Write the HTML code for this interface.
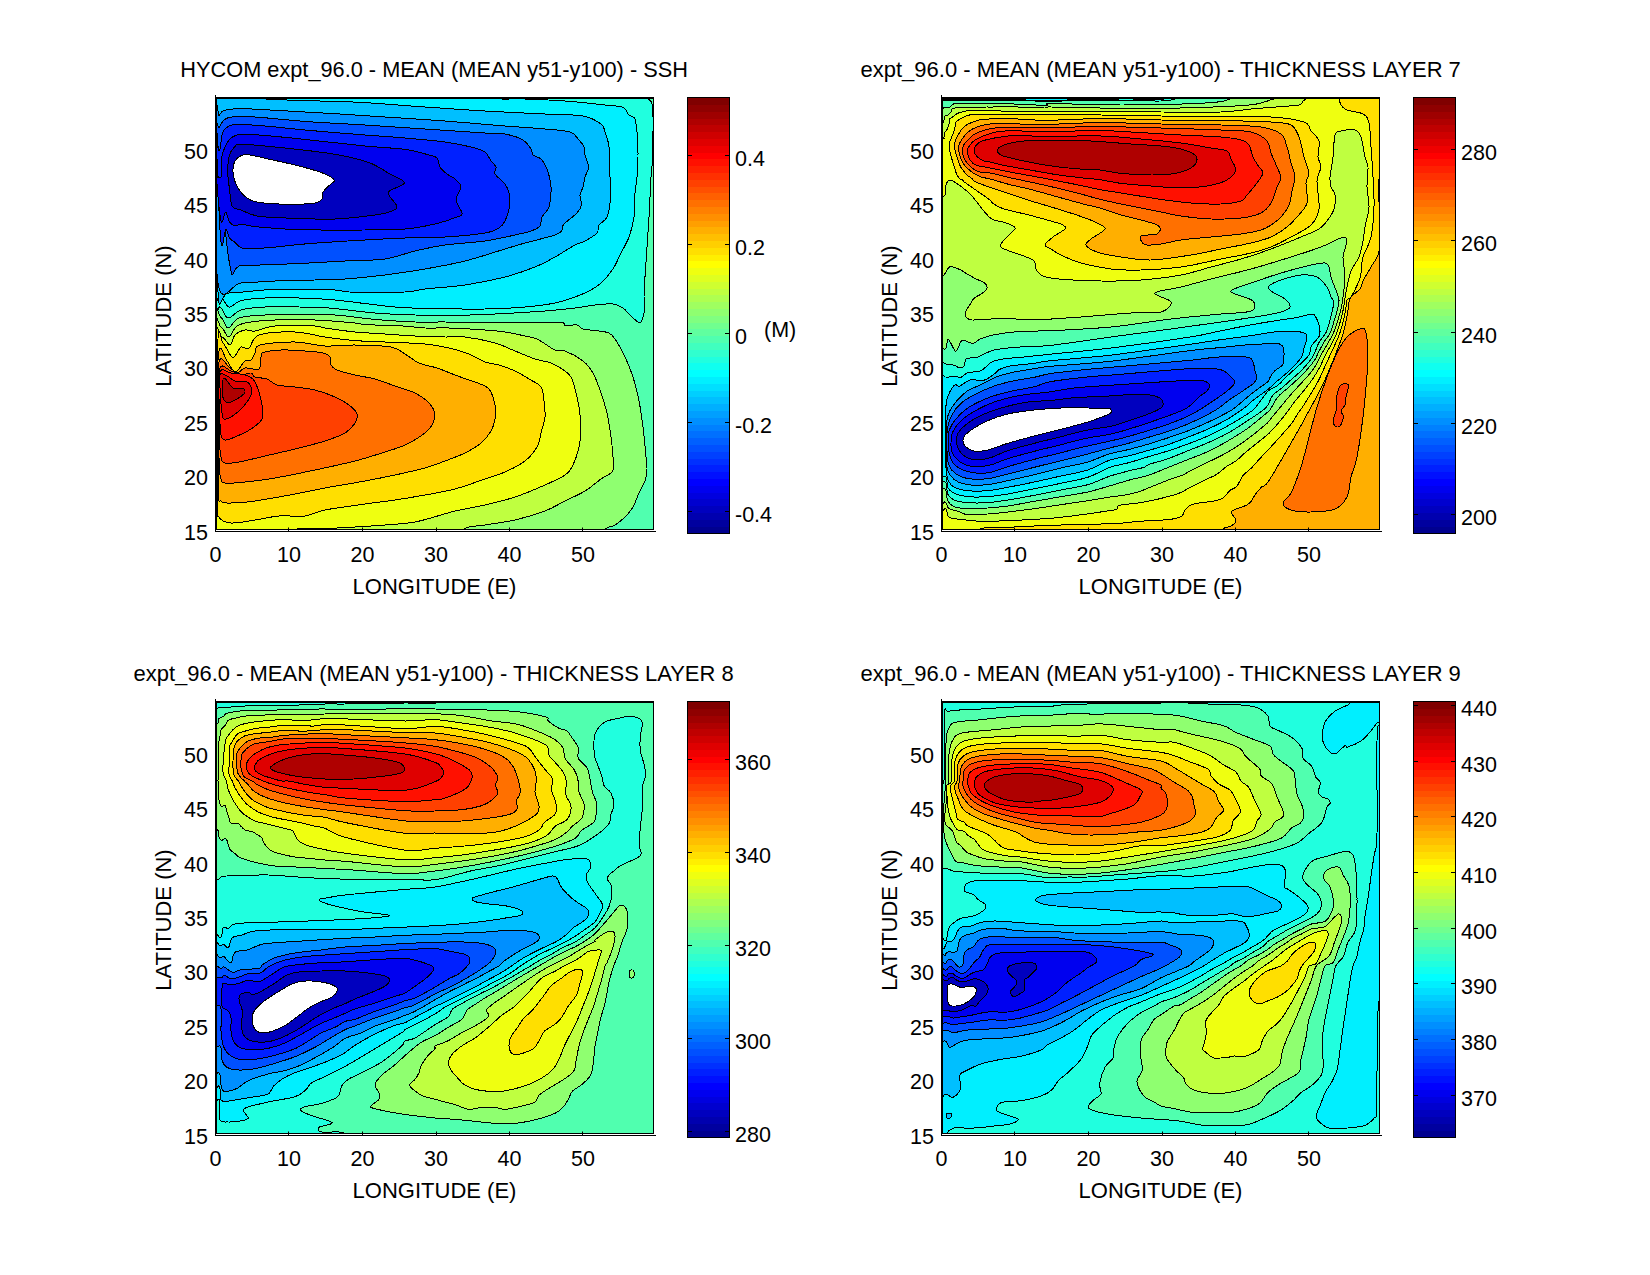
<!DOCTYPE html>
<html lang="en"><head><meta charset="utf-8"><title>HYCOM expt_96.0 mean fields</title>
<style>html,body{margin:0;padding:0;background:#fff}body{width:1650px;height:1275px;overflow:hidden}svg{display:block}</style></head><body>
<svg width="1650" height="1275" viewBox="0 0 1650 1275">
<rect width="1650" height="1275" fill="#fff"/>
<g id="p1">
<clipPath id="clip0"><rect x="216.5" y="97.5" width="437.0" height="432.0"/></clipPath>
<g clip-path="url(#clip0)" stroke="#000" stroke-width="1" stroke-linejoin="round" shape-rendering="crispEdges">
<rect x="215.5" y="96.5" width="439.0" height="434.0" fill="#50ffaf" stroke="none"/>
<path d="M207.0,307.0C212.0,348.2 216.5,305.2 220.0,307.0C223.5,308.8 224.5,317.5 228.0,318.0C231.5,318.5 234.8,311.8 241.0,310.0C247.2,308.2 255.3,307.5 265.0,307.0C274.7,306.5 288.3,306.8 299.0,307.0C309.7,307.2 316.3,307.0 329.0,308.0C341.7,309.0 360.7,311.8 375.0,313.0C389.3,314.2 401.7,314.6 415.0,315.0C428.3,315.4 441.7,315.6 455.0,315.4C468.3,315.2 480.0,314.7 495.0,314.0C510.0,313.3 531.7,312.0 545.0,311.0C558.3,310.0 566.7,309.0 575.0,308.0C583.3,307.0 588.7,305.7 595.0,305.0C601.3,304.3 608.3,303.5 613.0,304.0C617.7,304.5 620.0,306.0 623.0,308.0C626.0,310.0 628.2,313.6 631.0,316.0C633.8,318.4 637.8,323.1 640.0,322.6C642.2,322.1 643.2,317.3 644.0,313.0C644.8,308.7 644.9,303.0 645.0,297.0C645.1,291.0 644.6,280.3 644.6,277.0C644.6,273.7 644.6,282.0 645.0,277.0C645.4,272.0 646.3,257.0 647.0,247.0C647.7,237.0 648.5,225.3 649.0,217.0C649.5,208.7 649.7,203.7 650.0,197.0C650.3,190.3 650.6,183.7 651.0,177.0C651.4,170.3 652.3,167.0 652.6,157.0C652.9,147.0 653.1,126.0 653.0,117.0C652.9,108.0 652.6,106.2 651.8,103.0C651.0,99.8 648.6,100.8 648.0,97.8C647.4,94.8 724.3,91.3 648.0,85.0C571.7,78.7 263.5,23.0 190.0,60.0C116.5,97.0 202.0,265.8 207.0,307.0Z" fill="#20ffdf"/>
<path d="M207.0,296.0C212.0,335.3 216.3,294.2 220.0,296.0C223.7,297.8 225.5,306.2 229.0,307.0C232.5,307.8 235.0,302.1 241.0,300.6C247.0,299.1 255.3,298.4 265.0,298.0C274.7,297.6 287.3,297.7 299.0,298.0C310.7,298.3 319.0,298.5 335.0,300.0C351.0,301.5 378.3,305.6 395.0,307.0C411.7,308.4 420.0,308.3 435.0,308.6C450.0,308.9 470.0,309.3 485.0,309.0C500.0,308.7 513.3,308.0 525.0,307.0C536.7,306.0 546.7,304.7 555.0,303.0C563.3,301.3 569.0,299.2 575.0,297.0C581.0,294.8 586.7,292.3 591.0,290.0C595.3,287.7 597.3,286.5 601.0,283.0C604.7,279.5 609.7,274.0 613.0,269.0C616.3,264.0 618.3,258.3 621.0,253.0C623.7,247.7 626.8,243.0 629.0,237.0C631.2,231.0 633.1,223.7 634.0,217.0C634.9,210.3 634.1,203.7 634.6,197.0C635.1,190.3 636.4,183.7 637.0,177.0C637.6,170.3 637.9,163.7 638.0,157.0C638.1,150.3 637.9,143.3 637.4,137.0C636.9,130.7 636.4,122.7 635.0,119.0C633.6,115.3 631.0,116.9 629.0,115.0C627.0,113.1 627.0,109.1 623.0,107.4C619.0,105.7 614.7,106.1 605.0,105.0C595.3,103.9 578.3,102.0 565.0,101.0C551.7,100.0 538.3,99.5 525.0,99.0C511.7,98.5 495.0,100.1 485.0,97.8C475.0,95.5 514.2,91.3 465.0,85.0C415.8,78.7 233.0,24.8 190.0,60.0C147.0,95.2 202.0,256.7 207.0,296.0Z" fill="#00efff"/>
<path d="M216.9,99.0C222.0,67.2 235.3,98.1 248.3,98.3C261.4,98.6 276.6,99.7 295.0,100.3C313.4,101.0 337.3,101.2 359.0,102.3C380.7,103.4 404.0,105.6 425.0,107.0C446.0,108.4 465.0,109.8 485.0,111.0C505.0,112.2 528.7,113.2 545.0,114.0C561.3,114.8 573.7,114.3 583.0,116.0C592.3,117.7 597.3,121.3 601.0,124.0C604.7,126.7 603.7,128.2 605.0,132.0C606.3,135.8 608.2,139.5 609.0,147.0C609.8,154.5 609.7,168.7 610.0,177.0C610.3,185.3 611.1,190.3 610.6,197.0C610.1,203.7 608.9,212.3 607.0,217.0C605.1,221.7 600.7,222.3 599.0,225.0C597.3,227.7 599.3,230.3 597.0,233.0C594.7,235.7 588.7,239.0 585.0,241.0C581.3,243.0 580.0,242.3 575.0,245.0C570.0,247.7 561.7,253.3 555.0,257.0C548.3,260.7 543.3,263.7 535.0,267.0C526.7,270.3 516.7,274.0 505.0,277.0C493.3,280.0 478.3,283.0 465.0,285.0C451.7,287.0 435.0,287.8 425.0,289.0C415.0,290.2 417.7,291.5 405.0,292.0C392.3,292.5 360.7,292.3 349.0,292.0C337.3,291.7 347.3,290.4 335.0,290.0C322.7,289.6 292.7,288.9 275.0,289.4C257.3,289.9 238.5,293.1 229.0,293.0C219.5,292.9 219.8,321.3 217.8,289.0C215.8,256.7 211.8,130.8 216.9,99.0Z" fill="#00bfff"/>
<path d="M216.9,118.3C217.1,90.6 217.8,117.0 219.0,115.7C220.2,114.3 220.6,111.5 224.3,110.3C228.1,109.2 233.2,108.7 241.7,108.7C250.1,108.7 259.4,109.5 275.0,110.3C290.6,111.2 316.7,112.6 335.0,113.7C353.3,114.8 366.7,115.8 385.0,117.0C403.3,118.2 425.0,119.5 445.0,121.0C465.0,122.5 488.3,124.7 505.0,126.0C521.7,127.3 534.2,128.0 545.0,129.0C555.8,130.0 564.3,130.2 570.0,132.0C575.7,133.8 576.7,137.5 579.0,140.0C581.3,142.5 583.0,144.5 584.0,147.0C585.0,149.5 584.2,151.7 585.0,155.0C585.8,158.3 588.6,163.3 588.6,167.0C588.6,170.7 585.9,173.7 585.0,177.0C584.1,180.3 583.8,184.0 583.0,187.0C582.2,190.0 580.3,192.0 580.0,195.0C579.7,198.0 581.9,202.0 581.4,205.0C580.9,208.0 579.9,209.8 577.0,213.0C574.1,216.2 566.5,221.2 564.0,224.0C561.5,226.8 563.5,228.2 562.0,230.0C560.5,231.8 561.2,232.8 555.0,235.0C548.8,237.2 533.3,240.7 525.0,243.0C516.7,245.3 515.0,246.0 505.0,249.0C495.0,252.0 478.3,257.7 465.0,261.0C451.7,264.3 438.3,266.7 425.0,269.0C411.7,271.3 398.3,273.3 385.0,275.0C371.7,276.7 356.7,278.2 345.0,279.0C333.3,279.8 326.7,279.7 315.0,280.0C303.3,280.3 287.3,280.5 275.0,281.0C262.7,281.5 250.5,282.8 241.0,283.0C231.5,283.2 221.8,309.4 217.8,282.0C213.8,254.6 216.7,146.1 216.9,118.3Z" fill="#008fff"/>
<path d="M216.9,131.7C215.1,108.9 217.8,129.7 219.0,127.7C220.2,125.7 222.1,121.4 224.3,119.7C226.6,117.9 227.2,117.4 232.3,117.0C237.4,116.6 242.3,116.2 255.0,117.0C267.7,117.8 290.0,120.3 308.3,121.7C326.7,123.0 345.6,123.8 365.0,125.0C384.4,126.2 405.0,127.7 425.0,129.0C445.0,130.3 471.7,132.2 485.0,133.0C498.3,133.8 498.7,132.8 505.0,134.0C511.3,135.2 518.7,137.5 523.0,140.0C527.3,142.5 529.3,146.5 531.0,149.0C532.7,151.5 531.3,153.3 533.0,155.0C534.7,156.7 538.7,156.7 541.0,159.0C543.3,161.3 545.3,164.3 547.0,169.0C548.7,173.7 550.7,180.7 551.0,187.0C551.3,193.3 550.5,202.0 549.0,207.0C547.5,212.0 543.5,213.8 542.0,217.0C540.5,220.2 541.8,223.7 540.0,226.0C538.2,228.3 535.2,229.5 531.0,231.0C526.8,232.5 522.7,233.3 515.0,235.0C507.3,236.7 496.7,239.3 485.0,241.0C473.3,242.7 456.7,243.3 445.0,245.0C433.3,246.7 425.0,248.7 415.0,251.0C405.0,253.3 396.7,257.3 385.0,259.0C373.3,260.7 360.0,260.2 345.0,261.0C330.0,261.8 312.2,262.9 295.0,263.7C277.8,264.4 252.6,265.4 241.7,265.5C230.8,265.7 233.8,286.8 229.7,264.5C225.5,242.2 218.6,154.5 216.9,131.7Z" fill="#0050ff"/>
<path d="M216.9,153.0C216.6,137.7 218.6,153.9 219.7,150.3C220.7,146.8 221.3,135.8 223.0,131.7C224.7,127.6 227.0,126.9 229.7,125.7C232.3,124.4 232.6,124.2 239.0,124.3C245.4,124.4 256.8,125.3 268.3,126.3C279.9,127.3 292.2,128.9 308.3,130.3C324.4,131.8 348.9,133.7 365.0,135.0C381.1,136.3 391.7,136.8 405.0,138.0C418.3,139.2 434.0,140.5 445.0,142.0C456.0,143.5 464.3,145.3 471.0,147.0C477.7,148.7 481.7,149.7 485.0,152.0C488.3,154.3 489.2,158.5 491.0,161.0C492.8,163.5 495.3,164.8 496.0,167.0C496.7,169.2 493.5,171.2 495.0,174.0C496.5,176.8 502.7,180.8 505.0,184.0C507.3,187.2 508.3,189.2 509.0,193.0C509.7,196.8 510.1,202.3 509.4,207.0C508.7,211.7 506.7,217.5 505.0,221.0C503.3,224.5 502.3,226.0 499.0,228.0C495.7,230.0 494.0,231.5 485.0,233.0C476.0,234.5 458.3,236.2 445.0,237.0C431.7,237.8 418.3,237.5 405.0,238.0C391.7,238.5 381.1,239.1 365.0,240.0C348.9,240.9 324.4,242.4 308.3,243.7C292.2,244.9 279.2,246.9 268.3,247.7C257.4,248.4 248.6,249.2 243.0,248.3C237.4,247.4 237.2,244.0 235.0,242.3C232.8,240.7 231.2,240.4 229.7,238.3C228.1,236.2 227.1,229.0 225.7,229.7C224.2,230.3 222.5,255.1 221.0,242.3C219.5,229.6 217.1,168.3 216.9,153.0Z" fill="#0020ff"/>
<path d="M216.9,179.7C216.9,172.3 220.2,180.8 221.0,177.0C221.8,173.2 220.4,163.0 221.7,157.0C222.9,151.0 226.1,144.6 228.3,141.0C230.6,137.4 231.7,136.8 235.0,135.7C238.3,134.6 238.3,133.9 248.3,134.3C258.3,134.8 275.6,136.4 295.0,138.3C314.4,140.3 346.7,144.2 365.0,146.0C383.3,147.8 394.3,147.9 405.0,149.4C415.7,150.9 423.7,153.6 429.0,155.0C434.3,156.4 435.2,156.0 437.0,158.0C438.8,160.0 438.3,164.3 440.0,167.0C441.7,169.7 444.5,172.0 447.0,174.0C449.5,176.0 452.7,176.8 455.0,179.0C457.3,181.2 460.8,183.5 461.0,187.0C461.2,190.5 455.8,195.7 456.0,200.0C456.2,204.3 461.8,210.2 462.0,213.0C462.2,215.8 461.5,215.2 457.0,217.0C452.5,218.8 443.7,222.0 435.0,224.0C426.3,226.0 416.7,228.0 405.0,229.0C393.3,230.0 382.4,229.9 365.0,230.0C347.6,230.1 318.0,230.2 300.3,229.7C282.7,229.2 268.8,227.9 259.0,227.0C249.2,226.1 245.7,224.6 241.7,224.3C237.7,224.1 237.0,226.0 235.0,225.7C233.0,225.3 231.2,224.6 229.7,222.3C228.1,220.1 227.1,212.6 225.7,212.3C224.2,212.1 222.5,226.4 221.0,221.0C219.5,215.6 216.9,187.0 216.9,179.7Z" fill="#0000ef"/>
<path d="M227.7,171.7C227.7,165.7 228.4,158.5 229.7,154.3C230.9,150.2 233.0,148.3 235.0,146.6C237.0,144.9 233.9,144.2 241.7,144.3C249.4,144.5 266.1,146.0 281.7,147.7C297.2,149.3 320.6,151.9 335.0,154.3C349.4,156.8 359.4,159.2 368.3,162.3C377.2,165.4 382.3,169.6 388.3,173.0C394.3,176.4 404.3,179.8 404.3,183.0C404.3,186.2 389.7,188.7 388.3,192.3C387.0,196.0 395.4,202.0 396.3,205.0C397.2,208.0 397.2,208.7 393.7,210.3C390.1,212.0 384.8,213.6 375.0,215.0C365.2,216.4 348.3,218.4 335.0,219.0C321.7,219.6 307.7,218.8 295.0,218.3C282.3,217.9 267.9,217.7 259.0,216.3C250.1,215.0 246.1,212.0 241.7,210.3C237.2,208.7 234.3,209.7 232.3,206.3C230.3,203.0 230.4,196.1 229.7,190.3C228.9,184.6 227.7,177.7 227.7,171.7Z" fill="#0000bf"/>
<path d="M233.0,169.0C233.2,166.3 233.6,163.3 235.0,161.0C236.4,158.7 239.2,156.3 241.7,155.3C244.1,154.3 245.2,154.4 249.7,155.0C254.1,155.6 260.8,157.3 268.3,159.0C275.9,160.7 286.6,162.9 295.0,165.0C303.4,167.1 313.0,169.7 319.0,171.7C325.0,173.7 328.4,175.4 331.0,177.0C333.6,178.6 334.6,179.7 334.3,181.0C334.1,182.3 331.3,183.4 329.7,185.0C328.0,186.6 325.6,188.9 324.3,190.3C323.1,191.8 322.8,192.1 322.3,193.7C321.9,195.2 322.9,198.1 321.7,199.7C320.4,201.2 319.4,202.2 315.0,203.0C310.6,203.8 302.1,204.2 295.0,204.3C287.9,204.4 279.0,204.1 272.3,203.7C265.7,203.2 259.4,202.8 255.0,201.7C250.6,200.6 248.6,199.3 245.7,197.0C242.8,194.7 239.7,191.0 237.7,187.7C235.7,184.3 234.4,180.1 233.7,177.0C232.9,173.9 232.8,171.7 233.0,169.0Z" fill="#fff"/>
<path d="M207.0,317.0C212.1,276.5 217.1,315.2 220.6,317.0C224.1,318.8 224.9,327.8 228.0,328.0C231.1,328.2 232.8,320.2 239.0,318.0C245.2,315.8 255.0,315.7 265.0,315.0C275.0,314.3 287.3,314.0 299.0,314.0C310.7,314.0 322.3,314.1 335.0,315.0C347.7,315.9 361.7,318.2 375.0,319.4C388.3,320.6 403.3,321.6 415.0,322.0C426.7,322.4 433.3,321.9 445.0,322.0C456.7,322.1 471.7,322.5 485.0,322.6C498.3,322.7 512.3,322.6 525.0,322.6C537.7,322.6 554.3,322.1 561.0,322.6C567.7,323.1 562.3,325.2 565.0,325.6C567.7,326.0 574.0,324.4 577.0,325.0C580.0,325.6 579.3,328.0 583.0,329.0C586.7,330.0 594.7,330.3 599.0,331.0C603.3,331.7 606.3,331.7 609.0,333.0C611.7,334.3 612.3,335.0 615.0,339.0C617.7,343.0 622.0,350.7 625.0,357.0C628.0,363.3 630.7,369.7 633.0,377.0C635.3,384.3 637.3,392.7 639.0,401.0C640.7,409.3 641.8,417.7 643.0,427.0C644.2,436.3 645.3,450.0 646.0,457.0C646.7,464.0 647.2,465.0 647.0,469.0C646.8,473.0 646.3,477.0 645.0,481.0C643.7,485.0 641.0,488.7 639.0,493.0C637.0,497.3 635.3,503.0 633.0,507.0C630.7,511.0 628.0,514.0 625.0,517.0C622.0,520.0 618.3,522.9 615.0,525.0C611.7,527.1 607.3,526.4 605.0,529.4C602.7,532.4 670.2,537.9 601.0,543.0C531.8,548.1 255.7,597.7 190.0,560.0C124.3,522.3 201.9,357.5 207.0,317.0Z" fill="#8fff70"/>
<path d="M207.0,327.0C212.2,288.2 217.4,325.3 221.0,327.0C224.6,328.7 225.9,337.2 228.6,337.0C231.3,336.8 233.3,328.5 237.0,326.0C240.7,323.5 244.7,323.0 251.0,322.0C257.3,321.0 264.3,320.3 275.0,320.0C285.7,319.7 301.7,319.5 315.0,320.0C328.3,320.5 346.7,322.2 355.0,323.0C363.3,323.8 357.0,324.1 365.0,324.6C373.0,325.1 393.0,325.4 403.0,326.0C413.0,326.6 417.3,327.7 425.0,328.0C432.7,328.3 439.0,327.7 449.0,328.0C459.0,328.3 475.7,329.3 485.0,330.0C494.3,330.7 498.3,331.0 505.0,332.0C511.7,333.0 519.7,334.8 525.0,336.0C530.3,337.2 532.0,336.7 537.0,339.0C542.0,341.3 550.3,348.0 555.0,350.0C559.7,352.0 560.3,349.2 565.0,351.0C569.7,352.8 578.3,357.3 583.0,361.0C587.7,364.7 590.0,367.7 593.0,373.0C596.0,378.3 598.7,386.3 601.0,393.0C603.3,399.7 605.3,405.7 607.0,413.0C608.7,420.3 610.0,429.7 611.0,437.0C612.0,444.3 612.7,451.3 613.0,457.0C613.3,462.7 614.6,467.3 612.6,471.0C610.6,474.7 605.6,475.7 601.0,479.0C596.4,482.3 591.0,487.3 585.0,491.0C579.0,494.7 571.7,497.7 565.0,501.0C558.3,504.3 553.3,507.8 545.0,511.0C536.7,514.2 525.0,517.7 515.0,520.0C505.0,522.3 493.3,523.6 485.0,525.0C476.7,526.4 469.0,525.6 465.0,528.6C461.0,531.6 506.8,537.8 461.0,543.0C415.2,548.2 232.3,596.0 190.0,560.0C147.7,524.0 201.8,365.8 207.0,327.0Z" fill="#bfff40"/>
<path d="M207.0,337.0C212.3,299.8 218.2,335.7 222.0,337.0C225.8,338.3 227.8,345.3 230.0,345.0C232.2,344.7 232.5,337.5 235.0,335.0C237.5,332.5 241.7,330.7 245.0,330.0C248.3,329.3 250.0,331.7 255.0,331.0C260.0,330.3 265.0,326.8 275.0,326.0C285.0,325.2 306.7,325.7 315.0,326.0C323.3,326.3 318.3,327.0 325.0,328.0C331.7,329.0 345.0,331.0 355.0,332.0C365.0,333.0 375.0,333.3 385.0,334.0C395.0,334.7 405.0,335.5 415.0,336.0C425.0,336.5 436.7,336.8 445.0,337.0C453.3,337.2 456.7,336.0 465.0,337.0C473.3,338.0 486.7,340.7 495.0,343.0C503.3,345.3 508.3,348.3 515.0,351.0C521.7,353.7 529.0,357.0 535.0,359.0C541.0,361.0 546.0,361.0 551.0,363.0C556.0,365.0 561.7,368.7 565.0,371.0C568.3,373.3 569.3,374.0 571.0,377.0C572.7,380.0 573.7,384.0 575.0,389.0C576.3,394.0 578.0,400.3 579.0,407.0C580.0,413.7 581.0,422.3 581.0,429.0C581.0,435.7 580.3,441.0 579.0,447.0C577.7,453.0 575.3,460.3 573.0,465.0C570.7,469.7 569.7,471.7 565.0,475.0C560.3,478.3 553.3,481.3 545.0,485.0C536.7,488.7 525.0,493.7 515.0,497.0C505.0,500.3 495.0,502.7 485.0,505.0C475.0,507.3 462.3,509.3 455.0,511.0C447.7,512.7 447.7,513.2 441.0,515.0C434.3,516.8 424.3,520.3 415.0,522.0C405.7,523.7 395.0,524.2 385.0,525.0C375.0,525.8 365.0,526.4 355.0,527.0C345.0,527.6 335.0,528.2 325.0,528.6C315.0,529.0 303.3,527.0 295.0,529.4C286.7,531.8 292.5,537.9 275.0,543.0C257.5,548.1 201.3,594.3 190.0,560.0C178.7,525.7 201.7,374.2 207.0,337.0Z" fill="#efff10"/>
<path d="M217.8,343.0C218.7,317.3 220.6,340.7 223.0,343.0C225.4,345.3 229.7,355.3 232.0,357.0C234.3,358.7 235.5,354.7 237.0,353.0C238.5,351.3 239.0,347.8 241.0,347.0C243.0,346.2 246.0,350.0 249.0,348.0C252.0,346.0 251.3,337.7 259.0,335.0C266.7,332.3 284.0,331.7 295.0,332.0C306.0,332.3 315.0,335.6 325.0,337.0C335.0,338.4 345.0,339.8 355.0,340.6C365.0,341.4 373.3,341.4 385.0,342.0C396.7,342.6 414.3,343.0 425.0,344.0C435.7,345.0 441.7,346.3 449.0,348.0C456.3,349.7 463.0,351.7 469.0,354.0C475.0,356.3 480.0,360.2 485.0,362.0C490.0,363.8 494.0,363.5 499.0,365.0C504.0,366.5 510.0,368.7 515.0,371.0C520.0,373.3 524.7,376.3 529.0,379.0C533.3,381.7 538.5,383.3 541.0,387.0C543.5,390.7 543.3,396.0 544.0,401.0C544.7,406.0 545.5,411.7 545.0,417.0C544.5,422.3 542.3,428.0 541.0,433.0C539.7,438.0 539.7,442.3 537.0,447.0C534.3,451.7 530.3,456.8 525.0,461.0C519.7,465.2 511.7,469.0 505.0,472.0C498.3,475.0 493.3,476.2 485.0,479.0C476.7,481.8 465.0,486.3 455.0,489.0C445.0,491.7 435.0,493.2 425.0,495.0C415.0,496.8 405.0,498.5 395.0,500.0C385.0,501.5 376.7,502.3 365.0,504.0C353.3,505.7 335.0,508.0 325.0,510.0C315.0,512.0 312.7,515.0 305.0,516.0C297.3,517.0 287.3,515.3 279.0,516.0C270.7,516.7 263.0,518.8 255.0,520.0C247.0,521.2 237.0,523.5 231.0,523.0C225.0,522.5 221.2,521.3 219.0,517.0C216.8,512.7 218.0,526.0 217.8,497.0C217.6,468.0 216.9,368.7 217.8,343.0Z" fill="#ffdf00"/>
<path d="M218.2,357.0C219.6,336.0 224.5,358.7 227.0,361.0C229.5,363.3 231.3,369.3 233.0,371.0C234.7,372.7 235.7,371.8 237.0,371.0C238.3,370.2 239.7,367.7 241.0,366.0C242.3,364.3 243.3,362.0 245.0,361.0C246.7,360.0 249.3,361.3 251.0,360.0C252.7,358.7 253.5,355.5 255.0,353.0C256.5,350.5 253.3,346.8 260.0,345.0C266.7,343.2 284.2,341.8 295.0,342.0C305.8,342.2 315.0,345.5 325.0,346.0C335.0,346.5 344.0,344.8 355.0,345.0C366.0,345.2 382.7,345.5 391.0,347.0C399.3,348.5 400.3,351.3 405.0,354.0C409.7,356.7 413.7,360.7 419.0,363.0C424.3,365.3 431.0,366.0 437.0,368.0C443.0,370.0 449.7,373.0 455.0,375.0C460.3,377.0 464.0,378.2 469.0,380.0C474.0,381.8 481.3,384.0 485.0,386.0C488.7,388.0 489.3,388.8 491.0,392.0C492.7,395.2 494.3,400.5 495.0,405.0C495.7,409.5 495.7,414.7 495.0,419.0C494.3,423.3 493.3,427.0 491.0,431.0C488.7,435.0 485.3,439.3 481.0,443.0C476.7,446.7 471.0,450.0 465.0,453.0C459.0,456.0 451.7,458.5 445.0,461.0C438.3,463.5 433.3,465.7 425.0,468.0C416.7,470.3 405.0,472.8 395.0,475.0C385.0,477.2 376.7,478.8 365.0,481.0C353.3,483.2 336.7,485.8 325.0,488.0C313.3,490.2 306.7,491.8 295.0,494.0C283.3,496.2 265.7,499.5 255.0,501.0C244.3,502.5 236.7,503.0 231.0,503.0C225.3,503.0 223.1,503.7 221.0,501.0C218.9,498.3 219.1,511.0 218.6,487.0C218.1,463.0 216.8,378.0 218.2,357.0Z" fill="#ffaf00"/>
<path d="M218.6,365.0C220.3,350.0 225.9,365.7 229.0,367.0C232.1,368.3 234.3,372.8 237.0,373.0C239.7,373.2 241.3,368.7 245.0,368.0C248.7,367.3 256.3,370.8 259.0,369.0C261.7,367.2 260.3,359.7 261.0,357.0C261.7,354.3 259.7,353.8 263.0,352.6C266.3,351.4 274.0,350.3 281.0,350.0C288.0,349.7 298.0,350.5 305.0,351.0C312.0,351.5 318.8,352.0 323.0,353.0C327.2,354.0 328.7,355.0 330.0,357.0C331.3,359.0 329.8,362.8 331.0,365.0C332.2,367.2 333.0,368.3 337.0,370.0C341.0,371.7 348.7,373.5 355.0,375.0C361.3,376.5 368.3,377.2 375.0,379.0C381.7,380.8 388.3,383.7 395.0,386.0C401.7,388.3 409.7,390.5 415.0,393.0C420.3,395.5 423.8,398.0 427.0,401.0C430.2,404.0 433.0,407.3 434.0,411.0C435.0,414.7 434.5,419.3 433.0,423.0C431.5,426.7 429.7,429.3 425.0,433.0C420.3,436.7 411.7,441.8 405.0,445.0C398.3,448.2 393.3,449.3 385.0,452.0C376.7,454.7 366.7,458.0 355.0,461.0C343.3,464.0 328.3,467.2 315.0,470.0C301.7,472.8 286.7,476.0 275.0,478.0C263.3,480.0 253.3,481.2 245.0,482.0C236.7,482.8 229.1,483.8 225.0,483.0C220.9,482.2 221.6,481.3 220.6,477.0C219.6,472.7 219.3,475.7 219.0,457.0C218.7,438.3 216.9,380.0 218.6,365.0Z" fill="#ff7000"/>
<path d="M219.0,371.0C220.9,360.0 227.3,370.3 231.0,371.0C234.7,371.7 237.7,374.7 241.0,375.0C244.3,375.3 248.7,372.7 251.0,373.0C253.3,373.3 252.3,376.0 255.0,377.0C257.7,378.0 263.3,377.7 267.0,379.0C270.7,380.3 272.3,383.7 277.0,385.0C281.7,386.3 288.7,386.2 295.0,387.0C301.3,387.8 308.3,388.3 315.0,390.0C321.7,391.7 329.3,394.5 335.0,397.0C340.7,399.5 345.3,402.2 349.0,405.0C352.7,407.8 356.0,411.0 357.0,414.0C358.0,417.0 357.0,419.8 355.0,423.0C353.0,426.2 350.0,430.0 345.0,433.0C340.0,436.0 333.3,438.3 325.0,441.0C316.7,443.7 305.0,446.5 295.0,449.0C285.0,451.5 274.3,453.8 265.0,456.0C255.7,458.2 245.7,460.8 239.0,462.0C232.3,463.2 228.0,463.8 225.0,463.0C222.0,462.2 221.9,461.3 221.0,457.0C220.1,452.7 219.7,451.3 219.4,437.0C219.1,422.7 217.1,382.0 219.0,371.0Z" fill="#ff4000"/>
<path d="M219.4,373.0C221.3,365.7 226.7,372.7 231.0,373.0C235.3,373.3 241.3,374.0 245.0,375.0C248.7,376.0 250.8,376.7 253.0,379.0C255.2,381.3 256.5,384.7 258.0,389.0C259.5,393.3 261.3,400.0 262.0,405.0C262.7,410.0 263.8,415.0 262.0,419.0C260.2,423.0 255.5,426.0 251.0,429.0C246.5,432.0 239.3,435.2 235.0,437.0C230.7,438.8 227.3,440.3 225.0,440.0C222.7,439.7 221.9,438.8 221.0,435.0C220.1,431.2 220.1,427.3 219.8,417.0C219.5,406.7 217.5,380.3 219.4,373.0Z" fill="#ff1000"/>
<path d="M220.0,375.0C221.1,371.5 224.5,375.0 227.0,376.0C229.5,377.0 231.7,380.0 235.0,381.0C238.3,382.0 244.3,381.0 247.0,382.0C249.7,383.0 250.3,384.8 251.0,387.0C251.7,389.2 252.3,391.7 251.0,395.0C249.7,398.3 246.3,403.3 243.0,407.0C239.7,410.7 234.2,415.0 231.0,417.0C227.8,419.0 225.5,419.7 224.0,419.0C222.5,418.3 222.6,416.7 222.0,413.0C221.4,409.3 220.9,403.3 220.6,397.0C220.3,390.7 218.9,378.5 220.0,375.0Z" fill="#df0000"/>
<path d="M224.0,378.0C225.8,377.5 229.8,386.2 233.0,388.0C236.2,389.8 241.1,387.8 243.0,388.6C244.9,389.4 245.6,391.3 244.6,393.0C243.6,394.7 239.6,397.4 237.0,399.0C234.4,400.6 231.2,402.4 229.0,402.6C226.8,402.8 225.2,401.9 224.0,400.0C222.8,398.1 222.0,394.7 222.0,391.0C222.0,387.3 222.2,378.5 224.0,378.0Z" fill="#af0000"/>
</g>
<path d="M216.5,97.5 H653.5 V529.5 H216.5 Z M216.0,98.5 H654.0" fill="none" stroke="#000" stroke-width="1" shape-rendering="crispEdges"/>
<path d="M215.5,95.0 V531.5 H656.0" fill="none" stroke="#000" stroke-width="1" shape-rendering="crispEdges"/>
<path d="M215.5,531.5 v-4M288.5,531.5 v-4M362.5,531.5 v-4M436.5,531.5 v-4M509.5,531.5 v-4M582.5,531.5 v-4" stroke="#000" stroke-width="1" fill="none"/>
<g font-family="'Liberation Sans', Arial, Helvetica, sans-serif" font-size="21.5px" fill="#000">
<text x="215.5" y="562.0" text-anchor="middle">0</text>
<text x="289.0" y="562.0" text-anchor="middle">10</text>
<text x="362.5" y="562.0" text-anchor="middle">20</text>
<text x="436.0" y="562.0" text-anchor="middle">30</text>
<text x="509.5" y="562.0" text-anchor="middle">40</text>
<text x="583.0" y="562.0" text-anchor="middle">50</text>
<text x="208.0" y="539.5" text-anchor="end">15</text>
<text x="208.0" y="485.1" text-anchor="end">20</text>
<text x="208.0" y="430.8" text-anchor="end">25</text>
<text x="208.0" y="376.4" text-anchor="end">30</text>
<text x="208.0" y="322.0" text-anchor="end">35</text>
<text x="208.0" y="267.6" text-anchor="end">40</text>
<text x="208.0" y="213.2" text-anchor="end">45</text>
<text x="208.0" y="158.9" text-anchor="end">50</text>
</g>
<g font-family="'Liberation Sans', Arial, Helvetica, sans-serif" font-size="22px" fill="#000">
<text x="434.5" y="594.0" text-anchor="middle">LONGITUDE (E)</text>
<text transform="translate(170.5,316.0) rotate(-90)" text-anchor="middle">LATITUDE (N)</text>
<text x="434.1" y="77.0" text-anchor="middle" textLength="507.6" lengthAdjust="spacingAndGlyphs">HYCOM expt_96.0 - MEAN (MEAN y51-y100) - SSH</text>
</g>
<g shape-rendering="crispEdges">
<rect x="687.5" y="526.20" width="42.0" height="7.10" fill="#00008f"/>
<rect x="687.5" y="519.41" width="42.0" height="7.10" fill="#00009f"/>
<rect x="687.5" y="512.61" width="42.0" height="7.10" fill="#0000af"/>
<rect x="687.5" y="505.81" width="42.0" height="7.10" fill="#0000bf"/>
<rect x="687.5" y="499.02" width="42.0" height="7.10" fill="#0000cf"/>
<rect x="687.5" y="492.22" width="42.0" height="7.10" fill="#0000df"/>
<rect x="687.5" y="485.42" width="42.0" height="7.10" fill="#0000ef"/>
<rect x="687.5" y="478.62" width="42.0" height="7.10" fill="#0000ff"/>
<rect x="687.5" y="471.83" width="42.0" height="7.10" fill="#0010ff"/>
<rect x="687.5" y="465.03" width="42.0" height="7.10" fill="#0020ff"/>
<rect x="687.5" y="458.23" width="42.0" height="7.10" fill="#0030ff"/>
<rect x="687.5" y="451.44" width="42.0" height="7.10" fill="#0040ff"/>
<rect x="687.5" y="444.64" width="42.0" height="7.10" fill="#0050ff"/>
<rect x="687.5" y="437.84" width="42.0" height="7.10" fill="#0060ff"/>
<rect x="687.5" y="431.05" width="42.0" height="7.10" fill="#0070ff"/>
<rect x="687.5" y="424.25" width="42.0" height="7.10" fill="#0080ff"/>
<rect x="687.5" y="417.45" width="42.0" height="7.10" fill="#008fff"/>
<rect x="687.5" y="410.66" width="42.0" height="7.10" fill="#009fff"/>
<rect x="687.5" y="403.86" width="42.0" height="7.10" fill="#00afff"/>
<rect x="687.5" y="397.06" width="42.0" height="7.10" fill="#00bfff"/>
<rect x="687.5" y="390.27" width="42.0" height="7.10" fill="#00cfff"/>
<rect x="687.5" y="383.47" width="42.0" height="7.10" fill="#00dfff"/>
<rect x="687.5" y="376.67" width="42.0" height="7.10" fill="#00efff"/>
<rect x="687.5" y="369.88" width="42.0" height="7.10" fill="#00ffff"/>
<rect x="687.5" y="363.08" width="42.0" height="7.10" fill="#10ffef"/>
<rect x="687.5" y="356.28" width="42.0" height="7.10" fill="#20ffdf"/>
<rect x="687.5" y="349.48" width="42.0" height="7.10" fill="#30ffcf"/>
<rect x="687.5" y="342.69" width="42.0" height="7.10" fill="#40ffbf"/>
<rect x="687.5" y="335.89" width="42.0" height="7.10" fill="#50ffaf"/>
<rect x="687.5" y="329.09" width="42.0" height="7.10" fill="#60ff9f"/>
<rect x="687.5" y="322.30" width="42.0" height="7.10" fill="#70ff8f"/>
<rect x="687.5" y="315.50" width="42.0" height="7.10" fill="#80ff80"/>
<rect x="687.5" y="308.70" width="42.0" height="7.10" fill="#8fff70"/>
<rect x="687.5" y="301.91" width="42.0" height="7.10" fill="#9fff60"/>
<rect x="687.5" y="295.11" width="42.0" height="7.10" fill="#afff50"/>
<rect x="687.5" y="288.31" width="42.0" height="7.10" fill="#bfff40"/>
<rect x="687.5" y="281.52" width="42.0" height="7.10" fill="#cfff30"/>
<rect x="687.5" y="274.72" width="42.0" height="7.10" fill="#dfff20"/>
<rect x="687.5" y="267.92" width="42.0" height="7.10" fill="#efff10"/>
<rect x="687.5" y="261.12" width="42.0" height="7.10" fill="#ffff00"/>
<rect x="687.5" y="254.33" width="42.0" height="7.10" fill="#ffef00"/>
<rect x="687.5" y="247.53" width="42.0" height="7.10" fill="#ffdf00"/>
<rect x="687.5" y="240.73" width="42.0" height="7.10" fill="#ffcf00"/>
<rect x="687.5" y="233.94" width="42.0" height="7.10" fill="#ffbf00"/>
<rect x="687.5" y="227.14" width="42.0" height="7.10" fill="#ffaf00"/>
<rect x="687.5" y="220.34" width="42.0" height="7.10" fill="#ff9f00"/>
<rect x="687.5" y="213.55" width="42.0" height="7.10" fill="#ff8f00"/>
<rect x="687.5" y="206.75" width="42.0" height="7.10" fill="#ff8000"/>
<rect x="687.5" y="199.95" width="42.0" height="7.10" fill="#ff7000"/>
<rect x="687.5" y="193.16" width="42.0" height="7.10" fill="#ff6000"/>
<rect x="687.5" y="186.36" width="42.0" height="7.10" fill="#ff5000"/>
<rect x="687.5" y="179.56" width="42.0" height="7.10" fill="#ff4000"/>
<rect x="687.5" y="172.77" width="42.0" height="7.10" fill="#ff3000"/>
<rect x="687.5" y="165.97" width="42.0" height="7.10" fill="#ff2000"/>
<rect x="687.5" y="159.17" width="42.0" height="7.10" fill="#ff1000"/>
<rect x="687.5" y="152.38" width="42.0" height="7.10" fill="#ff0000"/>
<rect x="687.5" y="145.58" width="42.0" height="7.10" fill="#ef0000"/>
<rect x="687.5" y="138.78" width="42.0" height="7.10" fill="#df0000"/>
<rect x="687.5" y="131.98" width="42.0" height="7.10" fill="#cf0000"/>
<rect x="687.5" y="125.19" width="42.0" height="7.10" fill="#bf0000"/>
<rect x="687.5" y="118.39" width="42.0" height="7.10" fill="#af0000"/>
<rect x="687.5" y="111.59" width="42.0" height="7.10" fill="#9f0000"/>
<rect x="687.5" y="104.80" width="42.0" height="7.10" fill="#8f0000"/>
<rect x="687.5" y="98.00" width="42.0" height="7.10" fill="#800000"/>
</g>
<rect x="687.5" y="97.5" width="42" height="436" fill="none" stroke="#000" stroke-width="1"/>
<g font-family="'Liberation Sans', Arial, Helvetica, sans-serif" font-size="21.5px" fill="#000">
<text x="735.0" y="165.9">0.4</text>
<text x="735.0" y="254.9">0.2</text>
<text x="735.0" y="343.9">0</text>
<text x="735.0" y="432.9">-0.2</text>
<text x="735.0" y="521.9">-0.4</text>
<text x="764.0" y="337.0">(M)</text>
</g>
<path d="M688.0,155.5 h4M729.0,155.5 h-4M688.0,244.5 h4M729.0,244.5 h-4M688.0,333.5 h4M729.0,333.5 h-4M688.0,422.5 h4M729.0,422.5 h-4M688.0,511.5 h4M729.0,511.5 h-4" stroke="#000" stroke-width="1" fill="none"/>
</g>
<g id="p2">
<clipPath id="clip1"><rect x="942.5" y="97.5" width="437.0" height="432.0"/></clipPath>
<g clip-path="url(#clip1)" stroke="#000" stroke-width="1" stroke-linejoin="round" shape-rendering="crispEdges">
<rect x="941.5" y="96.5" width="439.0" height="434.0" fill="#bfff40" stroke="none"/>
<path d="M937.0,138.7C938.8,129.3 942.5,138.9 943.7,138.7C944.8,138.4 943.8,138.1 944.0,137.0C944.2,135.9 944.4,133.8 945.0,132.3C945.6,130.9 947.0,129.8 947.7,128.3C948.3,126.9 948.7,125.2 949.0,123.7C949.3,122.1 948.9,120.2 949.7,119.0C950.4,117.8 952.3,117.3 953.7,116.3C955.0,115.4 955.8,114.2 957.7,113.3C959.6,112.5 962.4,111.8 965.0,111.3C967.6,110.8 963.0,110.3 973.0,110.3C983.0,110.4 1015.9,111.5 1025.0,111.7C1034.1,111.8 1023.3,111.4 1027.7,111.3C1032.0,111.3 1038.8,111.3 1051.0,111.3C1063.2,111.3 1082.7,111.3 1101.0,111.4C1119.3,111.5 1141.0,111.9 1161.0,112.0C1181.0,112.1 1206.0,112.5 1221.0,112.0C1236.0,111.5 1241.0,109.9 1251.0,109.0C1261.0,108.1 1273.0,107.3 1281.0,106.6C1289.0,105.9 1295.3,105.9 1299.0,105.0C1302.7,104.1 1301.8,102.2 1303.0,101.0C1304.2,99.8 1305.5,100.3 1306.0,97.6C1306.5,94.9 1287.0,91.3 1306.0,85.0C1325.0,78.7 1401.0,-20.8 1420.0,60.0C1439.0,140.8 1506.7,485.0 1420.0,570.0C1333.3,655.0 981.2,576.7 900.0,570.0C818.8,563.3 925.5,540.2 933.0,530.0C940.5,519.8 942.1,510.8 944.7,508.7C947.4,506.6 946.3,515.6 949.0,517.3C951.7,519.1 955.7,518.7 961.0,519.3C966.3,520.0 973.2,521.1 981.0,521.3C988.8,521.6 998.8,521.0 1007.7,520.7C1016.6,520.3 1025.4,519.9 1034.3,519.3C1043.2,518.8 1048.4,518.8 1061.0,517.3C1073.6,515.9 1100.7,512.0 1110.0,510.6C1119.3,509.3 1115.2,510.1 1116.8,509.2C1118.4,508.3 1116.0,506.3 1119.7,505.3C1123.5,504.2 1132.7,503.9 1139.2,502.8C1145.7,501.8 1152.2,500.5 1158.6,499.0C1165.1,497.4 1173.2,495.3 1178.1,493.6C1183.0,491.9 1183.0,491.2 1187.8,488.7C1192.7,486.3 1202.4,481.4 1207.3,479.0C1212.1,476.6 1213.8,476.3 1217.0,474.1C1220.2,472.0 1223.5,468.6 1226.7,466.4C1230.0,464.1 1233.2,463.0 1236.5,460.5C1239.7,458.1 1241.3,455.8 1246.2,451.8C1251.1,447.7 1261.7,439.5 1265.6,436.2C1269.6,433.0 1268.0,434.3 1270.0,432.3C1272.0,430.3 1274.7,427.4 1277.5,424.0C1280.4,420.6 1284.4,415.7 1287.3,411.9C1290.2,408.1 1292.1,404.9 1295.1,401.2C1298.0,397.4 1301.7,393.4 1304.8,389.5C1307.9,385.6 1310.9,381.7 1313.5,377.8C1316.1,373.9 1318.4,369.9 1320.4,366.1C1322.3,362.4 1323.4,359.0 1325.2,355.4C1327.0,351.9 1329.3,348.2 1331.1,344.7C1332.8,341.3 1334.5,338.6 1335.9,335.0C1337.4,331.5 1338.6,327.6 1339.8,323.3C1341.0,319.1 1342.4,313.6 1343.2,309.7C1344.0,305.8 1344.0,303.8 1344.7,300.0C1345.3,296.2 1345.9,291.8 1347.0,287.0C1348.1,282.2 1349.0,276.0 1351.0,271.0C1353.0,266.0 1357.0,262.0 1359.0,257.0C1361.0,252.0 1362.0,246.0 1363.0,241.0C1364.0,236.0 1364.0,232.7 1365.0,227.0C1366.0,221.3 1368.7,213.7 1369.0,207.0C1369.3,200.3 1367.2,193.7 1367.0,187.0C1366.8,180.3 1368.3,172.0 1368.0,167.0C1367.7,162.0 1366.2,162.0 1365.0,157.0C1363.8,152.0 1362.7,141.5 1361.0,137.0C1359.3,132.5 1358.3,131.0 1355.0,130.0C1351.7,129.0 1344.3,130.2 1341.0,131.0C1337.7,131.8 1336.3,130.7 1335.0,135.0C1333.7,139.3 1333.8,150.0 1333.0,157.0C1332.2,164.0 1330.3,172.0 1330.0,177.0C1329.7,182.0 1330.2,184.0 1331.0,187.0C1331.8,190.0 1334.5,191.3 1335.0,195.0C1335.5,198.7 1335.3,204.7 1334.0,209.0C1332.7,213.3 1329.5,217.7 1327.0,221.0C1324.5,224.3 1323.3,226.3 1319.0,229.0C1314.7,231.7 1309.0,233.7 1301.0,237.0C1293.0,240.3 1281.0,245.3 1271.0,249.0C1261.0,252.7 1251.0,256.0 1241.0,259.0C1231.0,262.0 1221.0,264.3 1211.0,267.0C1201.0,269.7 1192.7,272.8 1181.0,275.0C1169.3,277.2 1154.3,279.0 1141.0,280.0C1127.7,281.0 1116.0,281.3 1101.0,281.0C1086.0,280.7 1061.7,279.7 1051.0,278.0C1040.3,276.3 1039.8,273.8 1037.0,271.0C1034.2,268.2 1036.7,263.7 1034.0,261.0C1031.3,258.3 1026.5,257.3 1021.0,255.0C1015.5,252.7 1003.3,250.0 1001.0,247.0C998.7,244.0 1004.7,240.0 1007.0,237.0C1009.3,234.0 1014.2,230.9 1015.0,229.0C1015.8,227.1 1013.9,226.5 1012.0,225.3C1010.1,224.2 1007.0,223.3 1003.3,222.0C999.7,220.7 995.4,222.2 990.0,217.7C984.6,213.2 976.2,200.4 971.0,195.0C965.8,189.6 962.5,187.5 959.0,185.0C955.5,182.5 952.2,180.0 950.0,180.0C947.8,180.0 946.8,182.5 946.0,185.0C945.2,187.5 947.2,193.3 945.0,195.0C942.8,196.7 934.3,204.4 933.0,195.0C931.7,185.6 935.2,148.1 937.0,138.7Z" fill="#efff10"/>
<path d="M949.7,146.3C949.7,145.0 949.3,143.9 949.7,142.3C950.0,140.8 951.0,138.7 951.7,137.0C952.3,135.3 953.1,134.0 953.7,132.3C954.2,130.7 954.7,128.6 955.0,127.0C955.3,125.4 954.7,123.9 955.3,122.7C956.0,121.4 957.6,120.6 959.0,119.7C960.4,118.7 962.0,117.7 963.7,117.0C965.3,116.3 966.9,115.8 969.0,115.3C971.1,114.9 965.0,114.4 976.3,114.3C987.7,114.2 1024.6,114.6 1037.0,114.7C1049.4,114.7 1040.3,114.6 1051.0,114.7C1061.7,114.7 1082.7,114.8 1101.0,115.0C1119.3,115.2 1141.0,115.7 1161.0,116.0C1181.0,116.3 1202.7,116.4 1221.0,116.6C1239.3,116.8 1257.2,116.1 1271.0,117.0C1284.8,117.9 1297.3,119.7 1304.0,122.0C1310.7,124.3 1308.5,127.8 1311.0,131.0C1313.5,134.2 1317.8,136.7 1319.0,141.0C1320.2,145.3 1317.7,152.7 1318.0,157.0C1318.3,161.3 1321.2,163.0 1321.0,167.0C1320.8,171.0 1317.3,174.0 1317.0,181.0C1316.7,188.0 1320.0,201.7 1319.0,209.0C1318.0,216.3 1315.7,220.3 1311.0,225.0C1306.3,229.7 1297.7,233.3 1291.0,237.0C1284.3,240.7 1277.7,244.3 1271.0,247.0C1264.3,249.7 1259.3,251.0 1251.0,253.0C1242.7,255.0 1232.7,256.7 1221.0,259.0C1209.3,261.3 1194.3,265.2 1181.0,267.0C1167.7,268.8 1152.7,269.7 1141.0,270.0C1129.3,270.3 1121.0,270.2 1111.0,269.0C1101.0,267.8 1089.3,265.3 1081.0,263.0C1072.7,260.7 1066.0,257.3 1061.0,255.0C1056.0,252.7 1053.7,250.7 1051.0,249.0C1048.3,247.3 1044.7,247.0 1045.0,245.0C1045.3,243.0 1049.7,239.7 1053.0,237.0C1056.3,234.3 1063.3,230.9 1065.0,229.0C1066.7,227.1 1064.7,226.4 1063.3,225.3C1061.9,224.3 1062.2,224.3 1056.7,222.7C1051.1,221.0 1038.9,217.7 1030.0,215.3C1021.1,213.0 1009.6,210.7 1003.3,208.7C997.1,206.7 994.9,204.8 992.7,203.3C990.4,201.9 994.7,203.6 990.0,200.0C985.3,196.4 968.7,185.3 964.3,182.0C959.9,178.7 964.3,180.8 963.7,180.3C963.0,179.8 961.4,179.9 960.3,179.0C959.2,178.1 958.0,177.0 957.0,175.0C956.0,173.0 955.2,169.8 954.3,167.0C953.4,164.2 952.4,161.1 951.7,158.3C950.9,155.6 950.0,152.3 949.7,150.3C949.3,148.3 949.7,147.7 949.7,146.3Z" fill="#ffdf00"/>
<path d="M981.0,539.3C907.8,532.4 976.6,530.7 981.0,528.7C985.4,526.7 996.0,527.9 1007.7,527.3C1019.3,526.8 1033.9,525.9 1051.0,525.3C1068.1,524.7 1098.5,524.1 1110.0,523.8C1121.5,523.4 1114.9,523.7 1119.7,523.3C1124.6,522.9 1132.7,521.8 1139.2,521.3C1145.7,520.8 1153.0,520.8 1158.6,520.4C1164.3,519.9 1169.3,519.6 1173.2,518.9C1177.1,518.2 1180.0,517.4 1182.0,516.0C1183.9,514.5 1183.1,512.1 1184.9,510.1C1186.7,508.2 1187.3,505.9 1192.7,504.3C1198.0,502.7 1211.7,501.7 1217.0,500.4C1222.4,499.1 1222.7,498.1 1224.8,496.5C1226.9,494.9 1227.7,492.3 1229.6,490.7C1231.6,489.1 1234.8,488.3 1236.5,486.8C1238.1,485.3 1238.2,483.9 1239.4,481.9C1240.5,480.0 1241.3,477.4 1243.3,475.1C1245.2,472.9 1248.1,471.2 1251.1,468.3C1254.0,465.4 1257.6,461.0 1260.8,457.6C1263.9,454.2 1265.0,453.5 1270.0,447.9C1275.1,442.3 1286.7,429.5 1291.2,424.0C1295.7,418.5 1294.9,417.9 1297.0,414.8C1299.1,411.6 1301.4,408.8 1303.8,405.1C1306.2,401.3 1309.2,396.5 1311.6,392.4C1314.0,388.4 1316.3,384.8 1318.4,380.7C1320.5,376.7 1322.5,372.0 1324.2,368.1C1326.0,364.2 1327.5,361.0 1329.1,357.4C1330.7,353.8 1332.3,350.3 1334.0,346.7C1335.6,343.1 1337.4,339.9 1338.8,336.0C1340.3,332.1 1341.6,327.7 1342.7,323.3C1343.9,319.0 1344.9,313.6 1345.6,309.7C1346.4,305.8 1346.2,302.1 1347.1,300.0C1348.0,297.9 1349.0,300.2 1351.0,297.0C1353.0,293.8 1357.3,285.0 1359.0,281.0C1360.7,277.0 1360.3,277.0 1361.0,273.0C1361.7,269.0 1361.3,263.0 1363.0,257.0C1364.7,251.0 1369.2,245.3 1371.0,237.0C1372.8,228.7 1373.7,217.0 1374.0,207.0C1374.3,197.0 1373.5,187.0 1373.0,177.0C1372.5,167.0 1371.7,156.0 1371.0,147.0C1370.3,138.0 1370.3,128.5 1369.0,123.0C1367.7,117.5 1366.7,116.2 1363.0,114.0C1359.3,111.8 1350.7,111.5 1347.0,110.0C1343.3,108.5 1342.3,107.1 1341.0,105.0C1339.7,102.9 1339.3,100.9 1339.0,97.6C1338.7,94.3 1325.5,91.3 1339.0,85.0C1352.5,78.7 1406.5,-20.8 1420.0,60.0C1433.5,140.8 1493.2,490.1 1420.0,570.0C1346.8,649.9 1054.2,546.2 981.0,539.3Z" fill="#ffdf00"/>
<path d="M955.0,146.3C955.0,145.0 954.7,143.9 955.0,142.3C955.3,140.8 956.2,138.7 957.0,137.0C957.8,135.3 958.7,133.9 959.7,132.3C960.7,130.8 961.7,129.0 963.0,127.7C964.3,126.3 965.6,125.4 967.7,124.3C969.8,123.2 973.0,121.8 975.7,121.0C978.3,120.2 978.0,119.7 983.7,119.3C989.3,118.9 1000.1,118.5 1009.7,118.7C1019.2,118.8 1034.1,120.1 1041.0,120.3C1047.9,120.6 1041.0,120.6 1051.0,120.3C1061.0,120.0 1082.7,118.7 1101.0,118.6C1119.3,118.5 1141.0,119.7 1161.0,120.0C1181.0,120.3 1202.7,120.3 1221.0,120.6C1239.3,120.9 1259.3,121.3 1271.0,122.0C1282.7,122.7 1286.3,122.5 1291.0,125.0C1295.7,127.5 1296.8,131.7 1299.0,137.0C1301.2,142.3 1302.3,151.0 1304.0,157.0C1305.7,163.0 1308.7,168.7 1309.0,173.0C1309.3,177.3 1306.3,178.0 1306.0,183.0C1305.7,188.0 1308.5,197.3 1307.0,203.0C1305.5,208.7 1300.3,213.0 1297.0,217.0C1293.7,221.0 1291.3,223.7 1287.0,227.0C1282.7,230.3 1277.0,234.3 1271.0,237.0C1265.0,239.7 1259.3,241.0 1251.0,243.0C1242.7,245.0 1231.0,247.0 1221.0,249.0C1211.0,251.0 1202.7,253.2 1191.0,255.0C1179.3,256.8 1162.7,259.7 1151.0,260.0C1139.3,260.3 1130.0,258.3 1121.0,257.0C1112.0,255.7 1102.8,254.0 1097.0,252.0C1091.2,250.0 1087.0,247.2 1086.0,245.0C1085.0,242.8 1087.8,241.7 1091.0,239.0C1094.2,236.3 1104.0,231.7 1105.0,229.0C1106.0,226.3 1100.6,224.9 1097.0,223.0C1093.4,221.1 1090.1,219.7 1083.3,217.3C1076.6,214.9 1065.6,211.4 1056.7,208.7C1047.8,205.9 1037.8,203.1 1030.0,200.7C1022.2,198.2 1016.7,196.2 1010.0,194.0C1003.3,191.8 995.7,189.3 990.0,187.3C984.3,185.3 978.7,183.5 975.7,182.0C972.6,180.5 973.1,179.5 971.7,178.3C970.2,177.2 968.4,176.3 967.0,175.0C965.6,173.7 964.2,172.0 963.0,170.3C961.8,168.7 960.7,167.2 959.7,165.0C958.7,162.8 957.8,159.4 957.0,157.0C956.2,154.6 955.3,152.1 955.0,150.3C954.7,148.6 955.0,147.7 955.0,146.3Z" fill="#ffaf00"/>
<path d="M1221.9,537.4C1189.0,530.6 1221.4,531.0 1222.8,529.1C1224.3,527.2 1228.5,527.2 1230.6,526.2C1232.7,525.1 1234.7,524.0 1235.5,522.8C1236.3,521.6 1236.1,520.5 1235.5,518.9C1234.8,517.3 1231.9,514.5 1231.6,513.1C1231.3,511.6 1231.1,511.4 1233.5,510.1C1236.0,508.8 1243.3,506.7 1246.2,505.3C1249.1,503.8 1249.4,503.3 1251.1,501.4C1252.7,499.4 1254.1,496.0 1255.9,493.6C1257.7,491.2 1259.4,489.2 1261.8,486.8C1264.1,484.4 1263.3,489.5 1270.0,479.0C1276.7,468.6 1295.7,434.7 1301.9,424.0C1308.0,413.3 1305.1,417.8 1306.7,414.8C1308.4,411.8 1309.6,409.6 1311.6,406.0C1313.5,402.5 1316.3,397.4 1318.4,393.4C1320.5,389.3 1322.5,385.6 1324.2,381.7C1326.0,377.8 1327.5,373.9 1329.1,370.0C1330.7,366.1 1332.3,362.4 1334.0,358.4C1335.6,354.3 1337.4,349.6 1338.8,345.7C1340.3,341.8 1341.6,338.7 1342.7,335.0C1343.9,331.3 1344.8,327.6 1345.6,323.3C1346.5,319.1 1347.4,313.6 1348.1,309.7C1348.7,305.8 1348.7,302.5 1349.5,300.0C1350.4,297.5 1351.3,296.8 1353.0,295.0C1354.7,293.2 1358.3,291.3 1360.0,289.0C1361.7,286.7 1361.2,284.7 1363.0,281.0C1364.8,277.3 1368.3,272.0 1371.0,267.0C1373.7,262.0 1377.6,259.3 1379.0,251.0C1380.4,242.7 1379.3,229.3 1379.4,217.0C1379.5,204.7 1377.5,184.3 1379.4,177.0C1381.3,169.7 1384.2,107.5 1391.0,173.0C1397.8,238.5 1448.2,509.3 1420.0,570.0C1391.8,630.7 1254.7,544.2 1221.9,537.4Z" fill="#ffaf00"/>
<path d="M959.0,148.7C959.0,147.4 958.6,146.5 959.0,145.0C959.4,143.5 960.6,141.4 961.7,139.7C962.8,137.9 964.2,135.9 965.7,134.3C967.1,132.8 968.4,131.6 970.3,130.3C972.2,129.1 974.6,127.9 977.0,127.0C979.4,126.1 981.3,125.3 985.0,124.7C988.7,124.1 991.4,123.4 999.0,123.3C1006.6,123.3 1021.7,124.2 1030.3,124.3C1039.0,124.5 1039.2,124.6 1051.0,124.3C1062.8,124.0 1082.7,122.7 1101.0,122.6C1119.3,122.5 1141.0,123.6 1161.0,124.0C1181.0,124.4 1204.3,124.5 1221.0,125.0C1237.7,125.5 1251.0,125.5 1261.0,127.0C1271.0,128.5 1276.7,130.7 1281.0,134.0C1285.3,137.3 1285.3,142.2 1287.0,147.0C1288.7,151.8 1289.7,158.0 1291.0,163.0C1292.3,168.0 1294.8,172.3 1295.0,177.0C1295.2,181.7 1293.0,186.3 1292.0,191.0C1291.0,195.7 1290.8,200.7 1289.0,205.0C1287.2,209.3 1284.0,213.7 1281.0,217.0C1278.0,220.3 1274.3,222.8 1271.0,225.0C1267.7,227.2 1266.0,228.5 1261.0,230.0C1256.0,231.5 1249.3,232.8 1241.0,234.0C1232.7,235.2 1221.0,236.0 1211.0,237.0C1201.0,238.0 1189.3,238.8 1181.0,240.0C1172.7,241.2 1167.0,243.2 1161.0,244.0C1155.0,244.8 1148.3,245.9 1145.0,244.6C1141.7,243.3 1139.0,237.8 1141.0,236.0C1143.0,234.2 1154.3,235.8 1157.0,234.0C1159.7,232.2 1163.0,228.2 1157.0,225.0C1151.0,221.8 1130.5,217.8 1121.0,215.0C1111.5,212.2 1106.3,209.8 1100.0,208.0C1093.7,206.2 1090.6,205.9 1083.3,204.0C1076.1,202.1 1065.6,199.1 1056.7,196.7C1047.8,194.2 1037.8,191.3 1030.0,189.3C1022.2,187.3 1016.7,186.4 1010.0,184.7C1003.3,182.9 994.8,180.3 990.0,179.0C985.2,177.7 983.6,177.9 981.0,177.0C978.4,176.1 976.3,174.9 974.3,173.7C972.3,172.4 970.7,171.1 969.0,169.7C967.3,168.2 965.7,166.8 964.3,165.0C963.0,163.2 961.9,161.1 961.0,159.0C960.1,156.9 959.3,154.1 959.0,152.3C958.7,150.6 959.0,149.9 959.0,148.7Z" fill="#ff7000"/>
<path d="M1283.0,503.0C1283.0,500.2 1288.0,499.0 1291.0,493.0C1294.0,487.0 1298.0,476.3 1301.0,467.0C1304.0,457.7 1306.3,447.0 1309.0,437.0C1311.7,427.0 1314.0,417.0 1317.0,407.0C1320.0,397.0 1323.7,386.0 1327.0,377.0C1330.3,368.0 1333.7,359.7 1337.0,353.0C1340.3,346.3 1343.0,341.1 1347.0,337.0C1351.0,332.9 1357.8,329.3 1361.0,328.6C1364.2,327.9 1364.8,328.3 1366.0,333.0C1367.2,337.7 1368.0,348.0 1368.0,357.0C1368.0,366.0 1366.8,377.0 1366.0,387.0C1365.2,397.0 1364.5,405.3 1363.0,417.0C1361.5,428.7 1359.0,447.0 1357.0,457.0C1355.0,467.0 1352.7,470.3 1351.0,477.0C1349.3,483.7 1349.7,491.7 1347.0,497.0C1344.3,502.3 1341.0,506.5 1335.0,509.0C1329.0,511.5 1318.3,511.8 1311.0,512.0C1303.7,512.2 1295.7,511.5 1291.0,510.0C1286.3,508.5 1283.0,505.8 1283.0,503.0Z" fill="#ff7000"/>
<path d="M1337.0,395.0C1337.8,390.7 1339.1,386.7 1341.0,385.0C1342.9,383.3 1347.6,383.0 1348.4,385.0C1349.2,387.0 1346.6,393.7 1346.0,397.0C1345.4,400.3 1345.8,402.7 1345.0,405.0C1344.2,407.3 1341.3,409.0 1341.0,411.0C1340.7,413.0 1343.6,414.5 1343.4,417.0C1343.2,419.5 1341.4,424.5 1340.0,426.0C1338.6,427.5 1336.2,427.0 1335.0,426.0C1333.8,425.0 1332.8,422.5 1333.0,420.0C1333.2,417.5 1335.3,415.2 1336.0,411.0C1336.7,406.8 1336.2,399.3 1337.0,395.0Z" fill="#ff4000"/>
<path d="M962.3,150.3C962.3,148.3 962.8,146.7 963.7,145.0C964.6,143.3 966.2,141.9 967.7,140.3C969.1,138.8 970.6,137.0 972.3,135.7C974.1,134.3 976.0,133.3 978.3,132.3C980.7,131.3 983.1,130.4 986.3,129.7C989.6,128.9 991.9,128.1 997.7,127.7C1003.4,127.3 1012.1,127.3 1021.0,127.3C1029.9,127.3 1037.7,127.8 1051.0,127.7C1064.3,127.5 1082.7,126.5 1101.0,126.6C1119.3,126.7 1141.0,127.4 1161.0,128.0C1181.0,128.6 1206.0,129.3 1221.0,130.0C1236.0,130.7 1243.3,130.2 1251.0,132.0C1258.7,133.8 1263.7,137.5 1267.0,141.0C1270.3,144.5 1269.3,148.7 1271.0,153.0C1272.7,157.3 1275.3,162.8 1277.0,167.0C1278.7,171.2 1281.0,174.7 1281.0,178.0C1281.0,181.3 1278.7,182.8 1277.0,187.0C1275.3,191.2 1273.7,198.7 1271.0,203.0C1268.3,207.3 1266.0,210.5 1261.0,213.0C1256.0,215.5 1249.3,217.0 1241.0,218.0C1232.7,219.0 1221.0,219.3 1211.0,219.0C1201.0,218.7 1189.3,217.2 1181.0,216.0C1172.7,214.8 1171.0,214.0 1161.0,212.0C1151.0,210.0 1131.2,206.1 1121.0,204.0C1110.8,201.9 1106.3,200.9 1100.0,199.3C1093.7,197.8 1090.6,196.6 1083.3,194.7C1076.1,192.8 1065.6,190.1 1056.7,188.0C1047.8,185.9 1037.8,183.7 1030.0,182.0C1022.2,180.3 1016.7,179.2 1010.0,177.7C1003.3,176.2 995.3,174.0 990.0,173.0C984.7,172.0 981.4,172.6 978.3,171.7C975.3,170.8 973.6,169.1 971.7,167.7C969.8,166.2 968.3,164.8 967.0,163.0C965.7,161.2 964.4,159.1 963.7,157.0C962.9,154.9 962.3,152.3 962.3,150.3Z" fill="#ff4000"/>
<path d="M967.7,151.7C967.7,150.8 967.1,150.3 967.7,149.0C968.2,147.7 969.7,145.2 971.0,143.7C972.3,142.1 973.8,140.9 975.7,139.7C977.6,138.4 979.8,137.4 982.3,136.3C984.9,135.3 987.9,134.2 991.0,133.3C994.1,132.5 996.1,131.8 1001.0,131.3C1005.9,130.8 1016.3,130.3 1020.3,130.3C1024.3,130.4 1019.9,131.4 1025.0,131.7C1030.1,131.9 1038.3,131.8 1051.0,131.7C1063.7,131.5 1086.0,130.4 1101.0,130.6C1116.0,130.8 1127.7,131.9 1141.0,132.6C1154.3,133.3 1167.7,134.3 1181.0,135.0C1194.3,135.7 1211.0,136.2 1221.0,137.0C1231.0,137.8 1236.3,138.7 1241.0,140.0C1245.7,141.3 1247.0,142.2 1249.0,145.0C1251.0,147.8 1251.3,153.3 1253.0,157.0C1254.7,160.7 1257.3,164.3 1259.0,167.0C1260.7,169.7 1263.3,170.3 1263.0,173.0C1262.7,175.7 1259.7,179.3 1257.0,183.0C1254.3,186.7 1249.7,192.0 1247.0,195.0C1244.3,198.0 1245.3,199.5 1241.0,201.0C1236.7,202.5 1229.3,203.7 1221.0,204.0C1212.7,204.3 1201.0,203.8 1191.0,203.0C1181.0,202.2 1172.7,201.1 1161.0,199.4C1149.3,197.7 1131.2,194.6 1121.0,193.0C1110.8,191.4 1106.3,190.8 1100.0,189.7C1093.7,188.5 1090.6,187.5 1083.3,186.0C1076.1,184.5 1065.6,182.4 1056.7,180.7C1047.8,178.9 1037.8,177.1 1030.0,175.7C1022.2,174.2 1016.7,173.3 1010.0,172.0C1003.3,170.7 995.7,169.2 990.0,168.0C984.3,166.8 978.9,166.3 975.7,165.0C972.4,163.7 971.7,162.1 970.3,160.3C969.0,158.6 968.1,155.8 967.7,154.3C967.2,152.9 967.7,152.6 967.7,151.7Z" fill="#ff1000"/>
<path d="M974.3,149.0C974.7,147.4 975.7,145.7 977.0,144.3C978.3,143.0 980.0,141.9 982.3,141.0C984.7,140.1 987.9,139.3 991.0,138.7C994.1,138.0 997.1,137.5 1001.0,137.0C1004.9,136.5 1006.0,135.8 1014.3,135.7C1022.7,135.6 1036.6,136.3 1051.0,136.3C1065.4,136.4 1086.0,135.6 1101.0,136.0C1116.0,136.4 1127.7,137.8 1141.0,139.0C1154.3,140.2 1169.3,141.5 1181.0,143.0C1192.7,144.5 1203.3,146.7 1211.0,148.0C1218.7,149.3 1223.7,149.2 1227.0,151.0C1230.3,152.8 1229.7,156.3 1231.0,159.0C1232.3,161.7 1234.5,164.5 1235.0,167.0C1235.5,169.5 1235.7,171.7 1234.0,174.0C1232.3,176.3 1229.5,179.0 1225.0,181.0C1220.5,183.0 1214.3,184.8 1207.0,186.0C1199.7,187.2 1190.3,188.0 1181.0,188.0C1171.7,188.0 1161.0,186.8 1151.0,186.0C1141.0,185.2 1129.5,184.5 1121.0,183.4C1112.5,182.3 1106.3,180.6 1100.0,179.7C1093.7,178.8 1090.6,178.8 1083.3,178.0C1076.1,177.2 1065.6,176.0 1056.7,174.7C1047.8,173.3 1038.9,171.6 1030.0,170.0C1021.1,168.4 1010.0,166.7 1003.3,165.3C996.7,164.0 993.2,162.7 990.0,162.0C986.8,161.3 986.3,161.7 984.3,161.0C982.4,160.3 979.9,158.9 978.3,157.7C976.8,156.4 975.7,155.1 975.0,153.7C974.3,152.2 974.0,150.6 974.3,149.0Z" fill="#df0000"/>
<path d="M997.3,151.0C997.2,150.1 997.5,149.2 998.3,148.3C999.2,147.4 1000.2,146.6 1002.3,145.7C1004.4,144.8 1007.3,143.8 1011.0,143.0C1014.7,142.2 1017.7,141.4 1024.3,141.0C1031.0,140.6 1039.9,140.3 1051.0,140.3C1062.1,140.3 1077.7,140.4 1091.0,141.0C1104.3,141.6 1119.3,143.2 1131.0,144.0C1142.7,144.8 1152.7,145.2 1161.0,146.0C1169.3,146.8 1175.3,147.5 1181.0,149.0C1186.7,150.5 1192.5,152.7 1195.0,155.0C1197.5,157.3 1197.3,160.5 1196.0,163.0C1194.7,165.5 1191.2,168.2 1187.0,170.0C1182.8,171.8 1177.0,173.2 1171.0,174.0C1165.0,174.8 1159.3,175.1 1151.0,175.0C1142.7,174.9 1129.5,174.2 1121.0,173.4C1112.5,172.6 1106.3,170.7 1100.0,170.0C1093.7,169.3 1090.6,169.9 1083.3,169.3C1076.1,168.8 1065.6,167.8 1056.7,166.7C1047.8,165.5 1038.7,164.1 1030.0,162.3C1021.3,160.6 1009.5,157.8 1004.3,156.3C999.2,154.9 1000.2,154.6 999.0,153.7C997.8,152.8 997.4,151.9 997.3,151.0Z" fill="#af0000"/>
<path d="M937.0,120.3C944.3,130.4 942.3,121.1 943.7,120.3C945.0,119.6 944.2,116.9 945.0,116.0C945.8,115.1 947.2,115.4 948.3,114.7C949.4,113.9 950.6,112.4 951.7,111.3C952.8,110.2 949.1,108.7 955.0,108.0C960.9,107.3 980.8,107.1 987.0,107.0C993.2,106.9 990.4,107.8 992.3,107.7C994.2,107.6 989.8,106.3 998.3,106.3C1006.9,106.4 1034.9,107.9 1043.7,108.0C1052.4,108.1 1038.3,106.9 1051.0,107.0C1063.7,107.1 1101.7,108.2 1120.0,108.4C1138.3,108.6 1148.6,108.5 1161.0,108.4C1173.4,108.3 1183.3,107.9 1194.4,107.6C1205.5,107.3 1217.6,106.9 1227.6,106.4C1237.6,105.9 1247.1,105.5 1254.4,104.4C1261.7,103.3 1268.3,100.7 1271.6,99.6C1274.9,98.5 1273.9,100.0 1274.4,97.6C1274.9,95.2 1336.8,91.3 1274.4,85.0C1212.0,78.7 956.2,54.1 900.0,60.0C843.8,65.9 929.7,110.3 937.0,120.3Z" fill="#8fff70"/>
<path d="M937.0,107.0C944.3,114.8 942.3,106.8 944.0,107.0C945.7,107.2 946.1,108.0 947.0,108.0C947.9,108.0 948.7,107.6 949.7,107.0C950.7,106.4 951.1,105.0 953.0,104.3C954.9,103.7 952.4,103.2 961.0,103.1C969.6,103.0 990.2,103.3 1004.3,103.7C1018.4,104.0 1037.9,105.3 1045.7,105.3C1053.4,105.3 1038.6,103.7 1051.0,103.7C1063.4,103.6 1101.7,104.9 1120.0,105.0C1138.3,105.1 1148.6,104.6 1161.0,104.4C1173.4,104.2 1184.4,104.1 1194.4,103.6C1204.4,103.1 1214.8,102.5 1221.0,101.6C1227.2,100.7 1229.6,99.1 1231.6,98.4C1233.6,97.7 1232.8,99.8 1233.0,97.6C1233.2,95.4 1288.5,91.3 1233.0,85.0C1177.5,78.7 949.3,56.3 900.0,60.0C850.7,63.7 929.7,99.2 937.0,107.0Z" fill="#50ffaf"/>
<path d="M937.0,101.0C944.3,107.7 941.9,100.4 943.7,100.3C945.4,100.3 945.4,100.7 947.7,100.7C949.9,100.6 949.4,100.3 957.0,100.2C964.6,100.1 979.2,100.0 993.0,100.2C1006.8,100.4 1030.0,101.0 1039.7,101.1C1049.3,101.3 1037.6,101.2 1051.0,101.1C1064.4,101.0 1101.7,100.6 1120.0,100.6C1138.3,100.6 1152.2,101.2 1161.0,101.0C1169.8,100.8 1170.5,100.0 1173.0,99.4C1175.5,98.8 1175.5,100.0 1176.0,97.6C1176.5,95.2 1222.0,91.3 1176.0,85.0C1130.0,78.7 939.8,57.3 900.0,60.0C860.2,62.7 929.7,94.3 937.0,101.0Z" fill="#20ffdf"/>
<path d="M937.0,99.0C944.3,105.5 941.9,98.9 943.7,99.0C945.4,99.1 945.4,99.6 947.7,99.7C949.9,99.7 949.4,99.4 957.0,99.3C964.6,99.3 979.2,99.2 993.0,99.3C1006.8,99.5 1030.0,100.2 1039.7,100.3C1049.3,100.5 1037.6,100.6 1051.0,100.3C1064.4,100.1 1100.0,99.4 1120.0,99.0C1140.0,98.6 1162.5,100.5 1171.0,98.2C1179.5,95.9 1216.2,91.4 1171.0,85.0C1125.8,78.6 939.0,57.7 900.0,60.0C861.0,62.3 929.7,92.5 937.0,99.0Z" fill="#00efff"/>
<path d="M933.0,276.0C934.7,239.4 940.2,277.5 943.0,276.0C945.8,274.5 946.7,267.9 949.7,266.9C952.7,265.9 958.7,269.2 961.0,270.0C963.3,270.8 961.4,270.7 963.7,272.0C965.9,273.3 970.8,276.1 974.3,278.0C977.9,279.9 982.9,281.7 985.0,283.3C987.1,285.0 987.4,286.3 987.0,288.0C986.6,289.7 984.4,291.7 982.3,293.3C980.2,295.0 976.3,296.2 974.3,298.0C972.3,299.8 971.8,301.7 970.3,304.0C968.9,306.3 966.3,309.8 965.7,312.0C965.0,314.2 965.2,316.0 966.3,317.3C967.4,318.7 967.7,319.7 972.3,320.0C977.0,320.3 981.8,319.0 994.3,318.9C1006.9,318.8 1038.2,319.3 1047.7,319.3C1057.1,319.3 1045.4,319.4 1051.0,319.0C1056.6,318.6 1067.7,318.0 1081.0,317.0C1094.3,316.0 1117.7,313.8 1131.0,313.0C1144.3,312.2 1154.3,313.8 1161.0,312.0C1167.7,310.2 1172.0,305.2 1171.0,302.0C1170.0,298.8 1153.3,295.5 1155.0,293.0C1156.7,290.5 1171.7,289.3 1181.0,287.0C1190.3,284.7 1199.3,282.0 1211.0,279.0C1222.7,276.0 1237.7,272.7 1251.0,269.0C1264.3,265.3 1279.3,260.7 1291.0,257.0C1302.7,253.3 1312.2,250.3 1321.0,247.0C1329.8,243.7 1339.8,237.3 1344.0,237.0C1348.2,236.7 1346.2,241.7 1346.0,245.0C1345.8,248.3 1343.2,251.7 1343.0,257.0C1342.8,262.3 1345.0,270.3 1345.0,277.0C1345.0,283.7 1343.4,293.2 1343.0,297.0C1342.6,300.8 1343.1,297.9 1342.7,300.0C1342.4,302.1 1341.8,305.8 1340.8,309.7C1339.8,313.6 1338.2,319.3 1336.9,323.3C1335.6,327.4 1334.5,330.8 1333.0,334.0C1331.5,337.3 1330.1,339.4 1328.1,342.8C1326.2,346.2 1323.3,350.9 1321.3,354.5C1319.4,358.0 1318.4,361.0 1316.5,364.2C1314.5,367.4 1312.4,370.5 1309.6,373.9C1306.9,377.3 1303.2,381.1 1299.9,384.6C1296.7,388.2 1295.2,389.5 1290.2,395.3C1285.2,401.2 1274.1,414.8 1270.0,419.7C1265.9,424.5 1269.6,421.1 1265.6,424.5C1261.7,427.9 1252.7,435.4 1246.2,440.1C1239.7,444.8 1233.2,449.0 1226.7,452.7C1220.2,456.5 1213.8,459.2 1207.3,462.5C1200.8,465.7 1191.9,470.1 1187.8,472.2C1183.8,474.3 1186.2,473.8 1183.0,475.1C1179.7,476.4 1174.0,477.9 1168.4,480.0C1162.7,482.1 1153.8,485.8 1148.9,487.8C1144.0,489.7 1143.2,490.4 1139.2,491.7C1135.1,492.9 1129.5,494.2 1124.6,495.1C1119.7,496.0 1116.2,496.1 1110.0,497.0C1103.8,497.9 1095.8,499.4 1087.7,500.7C1079.5,501.9 1069.9,503.3 1061.0,504.7C1052.1,506.0 1043.2,507.4 1034.3,508.7C1025.4,509.9 1015.4,511.1 1007.7,512.0C999.9,512.9 994.3,513.6 987.7,514.0C981.0,514.4 972.6,515.1 967.7,514.7C962.8,514.2 961.4,512.3 958.3,511.3C955.2,510.3 951.2,510.2 949.0,508.7C946.8,507.1 947.7,504.2 945.0,502.0C942.3,499.8 935.0,533.0 933.0,495.3C931.0,457.7 931.3,312.6 933.0,276.0Z" fill="#8fff70"/>
<path d="M933.0,349.3C935.0,327.2 942.4,351.0 945.0,349.3C947.6,347.7 946.6,339.0 948.3,339.3C950.1,339.7 953.6,351.0 955.7,351.3C957.8,351.7 959.4,343.1 961.0,341.3C962.6,339.6 963.0,340.3 965.0,340.7C967.0,341.0 970.3,343.7 973.0,343.3C975.7,343.0 977.4,340.1 981.0,338.7C984.6,337.2 987.7,335.9 994.3,334.7C1001.0,333.4 1011.6,332.0 1021.0,331.3C1030.4,330.7 1036.0,331.4 1051.0,330.7C1066.0,329.9 1091.0,328.9 1111.0,327.0C1131.0,325.1 1152.7,321.2 1171.0,319.0C1189.3,316.8 1207.7,315.3 1221.0,314.0C1234.3,312.7 1245.7,313.2 1251.0,311.0C1256.3,308.8 1255.7,303.8 1253.0,301.0C1250.3,298.2 1238.5,295.8 1235.0,294.0C1231.5,292.2 1229.3,291.8 1232.0,290.0C1234.7,288.2 1242.8,285.8 1251.0,283.0C1259.2,280.2 1271.0,276.0 1281.0,273.0C1291.0,270.0 1303.7,266.7 1311.0,265.0C1318.3,263.3 1322.0,262.7 1325.0,263.0C1328.0,263.3 1328.0,264.7 1329.0,267.0C1330.0,269.3 1329.7,272.7 1331.0,277.0C1332.3,281.3 1335.7,289.2 1337.0,293.0C1338.3,296.8 1338.7,298.8 1339.0,300.0C1339.3,301.2 1339.0,298.7 1338.8,300.0C1338.6,301.3 1338.7,304.2 1337.9,307.8C1337.0,311.3 1335.3,317.2 1334.0,321.4C1332.7,325.6 1331.7,329.7 1330.1,333.1C1328.5,336.5 1326.2,338.6 1324.2,341.8C1322.3,345.1 1320.0,349.4 1318.4,352.5C1316.8,355.6 1316.5,357.4 1314.5,360.3C1312.6,363.2 1309.6,366.8 1306.7,370.0C1303.8,373.3 1300.2,376.7 1297.0,379.8C1293.8,382.8 1290.5,385.6 1287.3,388.5C1284.0,391.4 1280.4,393.7 1277.5,397.3C1274.7,400.8 1272.0,407.2 1270.0,409.9C1268.0,412.7 1269.6,410.6 1265.6,413.8C1261.7,417.1 1252.7,424.8 1246.2,429.4C1239.7,434.0 1233.2,437.8 1226.7,441.6C1220.2,445.3 1213.8,448.8 1207.3,451.8C1200.8,454.8 1194.3,457.0 1187.8,459.6C1181.3,462.2 1174.9,464.7 1168.4,467.3C1161.9,469.9 1155.4,473.0 1148.9,475.1C1142.4,477.2 1135.9,478.2 1129.5,480.0C1123.0,481.8 1117.0,483.8 1110.0,485.8C1103.0,487.8 1095.8,490.2 1087.7,492.0C1079.5,493.8 1069.9,495.1 1061.0,496.7C1052.1,498.2 1043.2,499.8 1034.3,501.3C1025.4,502.9 1015.4,504.9 1007.7,506.0C999.9,507.1 994.3,507.6 987.7,508.0C981.0,508.4 973.2,508.9 967.7,508.7C962.1,508.4 957.7,508.0 954.3,506.7C951.0,505.3 949.2,503.7 947.7,500.7C946.1,497.7 947.4,491.8 945.0,488.7C942.6,485.6 935.0,505.2 933.0,482.0C931.0,458.8 931.0,371.4 933.0,349.3Z" fill="#50ffaf"/>
<path d="M933.0,364.0C935.1,345.4 942.1,363.8 945.7,364.0C949.2,364.2 952.0,364.7 954.3,365.3C956.7,366.0 958.0,367.9 959.7,368.0C961.3,368.1 963.2,367.6 964.3,366.0C965.4,364.4 964.2,360.1 966.3,358.7C968.4,357.2 972.3,358.8 977.0,357.3C981.7,355.9 987.0,351.7 994.3,350.0C1001.7,348.3 1011.6,347.7 1021.0,346.9C1030.4,346.2 1036.0,347.0 1051.0,345.3C1066.0,343.7 1091.0,339.7 1111.0,337.0C1131.0,334.3 1152.7,331.5 1171.0,329.0C1189.3,326.5 1206.0,324.2 1221.0,322.0C1236.0,319.8 1251.0,317.7 1261.0,316.0C1271.0,314.3 1276.2,313.5 1281.0,312.0C1285.8,310.5 1289.3,309.2 1290.0,307.0C1290.7,304.8 1288.2,301.7 1285.0,299.0C1281.8,296.3 1273.7,293.2 1271.0,291.0C1268.3,288.8 1267.3,287.8 1269.0,286.0C1270.7,284.2 1275.7,281.8 1281.0,280.0C1286.3,278.2 1295.0,275.5 1301.0,275.0C1307.0,274.5 1312.7,275.0 1317.0,277.0C1321.3,279.0 1324.7,283.7 1327.0,287.0C1329.3,290.3 1330.0,294.8 1331.0,297.0C1332.0,299.2 1332.6,298.7 1333.0,300.0C1333.4,301.3 1334.0,301.6 1333.5,304.9C1333.0,308.1 1331.3,314.9 1330.1,319.5C1328.9,324.0 1328.0,328.4 1326.2,332.1C1324.4,335.8 1321.2,338.7 1319.4,341.8C1317.6,344.9 1316.8,347.8 1315.5,350.6C1314.2,353.3 1313.9,355.1 1311.6,358.4C1309.3,361.6 1305.1,366.6 1301.9,370.0C1298.6,373.4 1295.4,375.9 1292.1,378.8C1288.9,381.7 1285.7,384.8 1282.4,387.5C1279.2,390.3 1275.5,391.9 1272.7,395.3C1269.9,398.7 1270.1,403.6 1265.6,408.0C1261.2,412.4 1252.7,417.3 1246.2,421.6C1239.7,425.9 1233.2,430.2 1226.7,433.8C1220.2,437.3 1213.8,440.2 1207.3,443.0C1200.8,445.9 1194.3,448.2 1187.8,450.8C1181.3,453.4 1174.9,456.3 1168.4,458.6C1161.9,460.9 1153.0,463.0 1148.9,464.4C1144.9,465.9 1147.3,466.3 1144.0,467.3C1140.8,468.4 1135.1,469.3 1129.5,470.7C1123.8,472.2 1117.0,473.8 1110.0,476.1C1103.0,478.4 1095.8,482.3 1087.7,484.7C1079.5,487.0 1069.9,488.2 1061.0,490.0C1052.1,491.8 1043.2,493.7 1034.3,495.3C1025.4,497.0 1015.4,498.8 1007.7,500.0C999.9,501.2 994.3,502.2 987.7,502.7C981.0,503.1 973.2,503.1 967.7,502.7C962.1,502.2 957.7,501.4 954.3,500.0C951.0,498.6 949.2,497.0 947.7,494.0C946.2,491.0 947.7,485.1 945.3,482.0C942.8,478.9 935.0,495.0 933.0,475.3C931.0,455.7 930.9,382.6 933.0,364.0Z" fill="#20ffdf"/>
<path d="M933.0,377.3C935.2,361.7 942.8,377.6 946.3,377.3C949.9,377.1 951.9,376.0 954.3,376.0C956.8,376.0 958.8,377.9 961.0,377.3C963.2,376.8 964.3,373.8 967.7,372.7C971.0,371.6 977.0,372.4 981.0,370.7C985.0,368.9 987.7,364.0 991.7,362.0C995.7,360.0 1000.1,359.4 1005.0,358.7C1009.9,357.9 1013.3,358.1 1021.0,357.3C1028.7,356.6 1036.0,355.7 1051.0,354.1C1066.0,352.6 1087.8,350.9 1111.0,348.0C1134.2,345.1 1172.0,339.8 1190.0,337.0C1208.0,334.2 1209.5,333.1 1219.2,331.1C1228.9,329.2 1238.6,327.1 1248.4,325.3C1258.1,323.5 1269.4,321.7 1277.5,320.4C1285.7,319.1 1291.3,318.6 1297.0,317.5C1302.7,316.5 1308.5,314.3 1311.6,314.1C1314.7,313.9 1314.2,314.5 1315.5,316.5C1316.8,318.6 1318.7,323.0 1319.4,326.3C1320.0,329.5 1320.7,332.7 1319.4,336.0C1318.1,339.2 1313.4,342.5 1311.6,345.7C1309.8,349.0 1311.1,351.9 1308.7,355.4C1306.2,359.0 1300.6,363.7 1297.0,367.1C1293.4,370.5 1290.5,372.8 1287.3,375.9C1284.0,379.0 1280.8,383.0 1277.5,385.6C1274.3,388.2 1271.6,387.7 1267.8,391.4C1264.1,395.2 1258.5,404.1 1254.9,408.0C1251.3,411.9 1250.9,411.7 1246.2,414.8C1241.5,417.9 1233.2,422.9 1226.7,426.5C1220.2,430.0 1213.8,433.3 1207.3,436.2C1200.8,439.1 1194.3,441.6 1187.8,444.0C1181.3,446.4 1174.9,448.7 1168.4,450.8C1161.9,452.9 1155.4,454.7 1148.9,456.6C1142.4,458.6 1135.9,460.7 1129.5,462.5C1123.0,464.3 1117.0,464.9 1110.0,467.3C1103.0,469.8 1095.8,474.7 1087.7,477.3C1079.5,480.0 1069.9,481.4 1061.0,483.3C1052.1,485.2 1043.2,486.9 1034.3,488.7C1025.4,490.4 1015.4,492.7 1007.7,494.0C999.9,495.3 994.3,496.2 987.7,496.7C981.0,497.1 973.2,497.2 967.7,496.7C962.1,496.1 957.7,494.9 954.3,493.3C951.0,491.8 949.1,490.1 947.7,487.3C946.2,484.6 948.1,479.3 945.7,476.7C943.2,474.0 935.1,487.9 933.0,471.3C930.9,454.8 930.8,393.0 933.0,377.3Z" fill="#00efff"/>
<path d="M945.7,455.3C945.6,446.4 945.4,424.7 945.7,415.3C945.9,406.0 945.6,404.3 947.0,399.3C948.4,394.3 952.2,387.6 954.3,385.3C956.4,383.1 957.0,386.9 959.7,386.0C962.3,385.1 966.3,381.0 970.3,380.0C974.3,379.0 979.7,381.3 983.7,380.3C987.7,379.3 991.7,375.8 994.3,374.0C997.0,372.2 997.0,370.7 999.7,369.3C1002.3,368.0 1004.6,367.0 1010.3,366.0C1016.1,365.0 1027.6,364.2 1034.3,363.3C1041.1,362.4 1038.2,362.0 1051.0,360.7C1063.8,359.3 1087.8,357.8 1111.0,355.1C1134.2,352.3 1172.0,346.8 1190.0,344.3C1208.0,341.7 1209.5,341.3 1219.2,339.9C1228.9,338.5 1238.6,337.4 1248.4,336.0C1258.1,334.6 1269.4,332.3 1277.5,331.6C1285.7,330.9 1292.2,331.2 1297.0,331.6C1301.8,332.0 1304.7,332.5 1306.2,334.0C1307.8,335.6 1306.7,338.4 1306.2,340.9C1305.8,343.3 1304.5,346.0 1303.8,348.6C1303.1,351.2 1303.8,353.2 1301.9,356.4C1299.9,359.7 1295.4,364.7 1292.1,368.1C1288.9,371.5 1284.8,374.7 1282.4,376.8C1280.0,379.0 1280.0,378.6 1277.5,380.7C1275.1,382.8 1271.9,386.3 1267.8,389.5C1263.8,392.7 1257.2,397.1 1253.2,400.2C1249.3,403.3 1248.7,404.8 1244.2,408.0C1239.8,411.2 1232.9,416.1 1226.7,419.7C1220.6,423.2 1213.8,426.5 1207.3,429.4C1200.8,432.3 1194.3,434.7 1187.8,437.2C1181.3,439.7 1174.9,442.3 1168.4,444.5C1161.9,446.7 1155.4,448.5 1148.9,450.3C1142.4,452.2 1135.9,454.0 1129.5,455.7C1123.0,457.3 1117.0,457.7 1110.0,460.0C1103.0,462.4 1095.8,467.3 1087.7,470.0C1079.5,472.7 1069.9,474.0 1061.0,476.0C1052.1,478.0 1043.2,480.1 1034.3,482.0C1025.4,483.9 1015.4,485.9 1007.7,487.3C999.9,488.8 994.3,490.1 987.7,490.7C981.0,491.2 973.2,491.2 967.7,490.7C962.1,490.1 957.6,489.0 954.3,487.3C951.1,485.7 949.7,483.8 948.3,480.7C947.0,477.6 946.5,472.9 946.1,468.7C945.6,464.4 945.7,464.2 945.7,455.3Z" fill="#00bfff"/>
<path d="M946.1,450.0C946.0,443.3 945.8,432.2 946.3,426.0C946.8,419.8 947.2,416.9 949.0,412.7C950.8,408.4 953.9,404.3 957.0,400.7C960.1,397.0 963.7,393.3 967.7,390.7C971.7,388.0 976.1,387.0 981.0,384.7C985.9,382.3 991.4,378.8 997.0,376.7C1002.6,374.6 1008.1,373.3 1014.3,372.0C1020.6,370.7 1028.2,369.6 1034.3,368.7C1040.4,367.7 1038.2,367.5 1051.0,366.3C1063.8,365.0 1087.8,363.8 1111.0,361.2C1134.2,358.6 1172.0,352.8 1190.0,350.6C1208.0,348.3 1209.5,348.6 1219.2,347.7C1228.9,346.7 1240.3,345.4 1248.4,344.7C1256.5,344.1 1263.0,344.0 1267.8,343.8C1272.7,343.5 1275.0,342.6 1277.5,343.3C1280.1,343.9 1282.3,345.2 1283.4,347.7C1284.4,350.2 1284.0,355.4 1283.9,358.4C1283.7,361.3 1284.0,363.1 1282.4,365.2C1280.9,367.3 1276.7,368.9 1274.6,371.0C1272.5,373.1 1270.9,376.0 1269.8,377.8C1268.6,379.6 1270.6,379.3 1267.8,381.7C1265.1,384.1 1258.8,388.0 1253.2,392.4C1247.7,396.8 1238.9,404.6 1234.5,408.0C1230.1,411.4 1231.3,410.4 1226.7,412.9C1222.2,415.3 1213.8,419.6 1207.3,422.6C1200.8,425.6 1194.3,428.3 1187.8,430.9C1181.3,433.4 1174.9,435.5 1168.4,437.7C1161.9,439.9 1155.4,442.0 1148.9,444.0C1142.4,445.9 1135.9,447.7 1129.5,449.3C1123.0,451.0 1117.0,451.6 1110.0,453.7C1103.0,455.8 1095.8,459.6 1087.7,462.0C1079.5,464.4 1069.9,465.9 1061.0,468.0C1052.1,470.1 1043.2,472.6 1034.3,474.7C1025.4,476.8 1014.8,479.1 1007.7,480.7C1000.6,482.2 997.2,483.2 991.7,484.0C986.1,484.8 979.9,485.7 974.3,485.3C968.8,485.0 962.3,483.7 958.3,482.0C954.3,480.3 952.3,478.0 950.3,475.3C948.4,472.7 947.3,470.2 946.6,466.0C945.9,461.8 946.1,456.7 946.1,450.0Z" fill="#008fff"/>
<path d="M947.0,447.3C947.0,442.0 946.6,434.0 947.4,428.7C948.2,423.3 949.4,419.6 951.7,415.3C953.9,411.1 957.2,406.8 961.0,403.3C964.8,399.9 968.8,397.6 974.3,394.7C979.9,391.8 987.7,388.3 994.3,386.0C1001.0,383.7 1007.7,382.1 1014.3,380.7C1021.0,379.2 1028.2,378.5 1034.3,377.3C1040.4,376.1 1042.1,374.8 1051.0,373.5C1059.9,372.1 1077.7,370.4 1087.7,369.3C1097.7,368.3 1093.9,368.8 1111.0,367.3C1128.1,365.8 1173.6,361.9 1190.0,360.3C1206.4,358.7 1203.0,358.5 1209.5,357.9C1215.9,357.2 1222.4,356.5 1228.9,356.4C1235.4,356.3 1244.3,356.4 1248.4,357.4C1252.4,358.4 1252.2,360.1 1253.2,362.3C1254.3,364.4 1254.1,367.6 1254.7,370.0C1255.3,372.5 1256.7,374.7 1256.6,376.8C1256.6,379.0 1256.4,380.4 1254.2,382.7C1252.0,385.0 1247.7,387.5 1243.5,390.5C1239.3,393.4 1233.0,397.3 1228.9,400.2C1224.8,403.1 1222.6,405.6 1218.9,408.0C1215.3,410.4 1212.5,412.1 1207.3,414.8C1202.1,417.5 1194.3,421.3 1187.8,424.1C1181.3,426.8 1174.9,429.2 1168.4,431.3C1161.9,433.5 1155.4,435.2 1148.9,437.2C1142.4,439.1 1135.9,441.2 1129.5,443.0C1123.0,444.8 1117.0,446.1 1110.0,447.9C1103.0,449.7 1095.8,451.9 1087.7,454.0C1079.5,456.1 1069.9,458.4 1061.0,460.7C1052.1,462.9 1043.2,465.1 1034.3,467.3C1025.4,469.6 1014.8,472.2 1007.7,474.0C1000.6,475.8 997.2,477.1 991.7,478.0C986.1,478.9 979.4,479.6 974.3,479.3C969.2,479.1 964.8,478.2 961.0,476.7C957.2,475.1 953.9,472.7 951.7,470.0C949.4,467.3 948.4,464.4 947.7,460.7C946.9,456.9 947.0,452.7 947.0,447.3Z" fill="#0050ff"/>
<path d="M948.3,444.7C948.2,440.7 947.8,435.6 949.0,431.3C950.2,427.1 952.6,423.2 955.7,419.3C958.8,415.4 962.3,411.6 967.7,408.0C973.0,404.4 981.0,400.7 987.7,398.0C994.3,395.3 999.9,393.9 1007.7,392.0C1015.4,390.1 1027.1,388.4 1034.3,386.7C1041.6,384.9 1042.1,383.2 1051.0,381.6C1059.9,380.0 1077.7,378.0 1087.7,376.9C1097.7,375.8 1093.9,376.5 1111.0,375.1C1128.1,373.7 1172.8,369.7 1190.0,368.6C1207.2,367.5 1208.6,368.2 1214.3,368.6C1220.0,369.0 1220.7,369.0 1224.0,371.0C1227.4,373.0 1232.8,378.3 1234.3,380.7C1235.7,383.2 1234.5,383.5 1232.8,385.6C1231.1,387.7 1229.1,389.7 1224.0,393.4C1219.0,397.1 1208.5,404.2 1202.4,408.0C1196.4,411.8 1193.5,413.6 1187.8,416.3C1182.1,418.9 1174.9,421.7 1168.4,424.1C1161.9,426.4 1155.4,428.3 1148.9,430.4C1142.4,432.4 1135.9,434.4 1129.5,436.2C1123.0,438.0 1117.0,439.4 1110.0,441.1C1103.0,442.7 1095.8,444.1 1087.7,446.0C1079.5,447.9 1069.9,450.4 1061.0,452.7C1052.1,454.9 1043.2,457.0 1034.3,459.3C1025.4,461.7 1014.8,464.6 1007.7,466.7C1000.6,468.8 996.6,470.9 991.7,472.0C986.8,473.1 982.8,473.6 978.3,473.3C973.9,473.1 969.0,472.1 965.0,470.7C961.0,469.2 956.9,467.2 954.3,464.7C951.8,462.1 950.7,458.7 949.7,455.3C948.7,452.0 948.4,448.7 948.3,444.7Z" fill="#0020ff"/>
<path d="M951.0,443.3C951.1,440.2 950.7,436.4 952.3,432.7C954.0,428.9 957.3,424.2 961.0,420.7C964.7,417.1 968.8,414.4 974.3,411.3C979.9,408.2 986.6,404.7 994.3,402.0C1002.1,399.3 1011.6,397.0 1021.0,395.3C1030.4,393.6 1042.1,393.0 1051.0,391.7C1059.9,390.5 1064.3,389.1 1074.3,388.0C1084.3,386.9 1091.7,386.5 1111.0,385.2C1130.3,383.9 1174.4,380.9 1190.0,380.3C1205.6,379.6 1201.3,380.3 1204.6,381.2C1207.8,382.1 1209.1,383.9 1209.5,385.6C1209.8,387.3 1208.2,389.7 1206.5,391.4C1204.9,393.2 1203.0,393.5 1199.7,396.3C1196.4,399.1 1192.1,404.8 1186.8,408.0C1181.6,411.2 1174.7,413.4 1168.4,415.8C1162.0,418.2 1155.4,420.4 1148.9,422.6C1142.4,424.8 1135.9,427.0 1129.5,428.9C1123.0,430.9 1117.0,432.8 1110.0,434.3C1103.0,435.8 1095.8,436.3 1087.7,438.0C1079.5,439.7 1069.9,442.4 1061.0,444.7C1052.1,446.9 1043.2,449.0 1034.3,451.3C1025.4,453.7 1014.8,456.4 1007.7,458.7C1000.6,460.9 996.6,463.3 991.7,464.7C986.8,466.0 982.8,466.7 978.3,466.7C973.9,466.7 968.8,466.1 965.0,464.7C961.2,463.2 957.9,460.2 955.7,458.0C953.4,455.8 952.4,453.8 951.7,451.3C950.9,448.9 950.9,446.4 951.0,443.3Z" fill="#0000ef"/>
<path d="M956.3,442.0C956.1,438.9 956.4,435.8 958.3,432.7C960.2,429.6 963.9,426.2 967.7,423.3C971.4,420.4 975.4,417.9 981.0,415.3C986.6,412.8 993.2,410.2 1001.0,408.0C1008.8,405.8 1019.3,403.2 1027.7,402.0C1036.0,400.8 1043.2,401.2 1051.0,400.5C1058.8,399.8 1064.3,398.5 1074.3,397.7C1084.3,397.0 1102.1,396.4 1111.0,395.9C1119.9,395.4 1121.6,394.9 1127.7,394.7C1133.8,394.5 1142.1,394.0 1147.7,394.7C1153.2,395.3 1158.4,397.1 1161.0,398.7C1163.6,400.2 1163.0,402.4 1163.0,404.0C1163.0,405.6 1163.3,406.4 1161.0,408.0C1158.7,409.6 1154.2,411.7 1148.9,413.8C1143.7,415.9 1135.9,418.5 1129.5,420.6C1123.0,422.8 1117.0,424.9 1110.0,426.5C1103.0,428.0 1095.8,428.3 1087.7,430.0C1079.5,431.7 1069.9,434.4 1061.0,436.7C1052.1,438.9 1043.2,441.0 1034.3,443.3C1025.4,445.7 1014.8,448.3 1007.7,450.7C1000.6,453.0 996.6,455.8 991.7,457.3C986.8,458.9 982.3,459.9 978.3,460.0C974.3,460.1 970.8,459.4 967.7,458.0C964.6,456.6 961.6,454.0 959.7,451.3C957.8,448.7 956.6,445.1 956.3,442.0Z" fill="#0000bf"/>
<path d="M963.0,441.3C962.8,439.3 963.1,437.6 965.0,435.3C966.9,433.1 970.6,430.4 974.3,428.0C978.1,425.6 982.1,423.0 987.7,420.7C993.2,418.3 999.9,415.8 1007.7,414.0C1015.4,412.2 1025.4,411.0 1034.3,410.0C1043.2,409.0 1052.1,408.3 1061.0,408.0C1069.9,407.7 1079.9,407.9 1087.7,408.0C1095.4,408.1 1103.8,408.1 1107.7,408.4C1111.6,408.7 1110.6,409.2 1111.0,410.0C1111.4,410.8 1112.0,412.1 1110.3,413.3C1108.7,414.6 1104.8,415.9 1101.0,417.3C1097.2,418.8 1094.3,420.0 1087.7,422.0C1081.0,424.0 1069.9,427.0 1061.0,429.3C1052.1,431.7 1043.2,433.7 1034.3,436.0C1025.4,438.3 1014.3,441.3 1007.7,443.3C1001.0,445.3 998.1,446.8 994.3,448.0C990.6,449.2 988.3,450.2 985.0,450.7C981.7,451.2 977.4,451.6 974.3,451.1C971.2,450.5 968.2,449.0 966.3,447.3C964.4,445.7 963.2,443.3 963.0,441.3Z" fill="#fff"/>
</g>
<path d="M942.5,97.5 H1379.5 V529.5 H942.5 Z M942.0,98.5 H1380.0" fill="none" stroke="#000" stroke-width="1" shape-rendering="crispEdges"/>
<path d="M941.5,95.0 V531.5 H1382.0" fill="none" stroke="#000" stroke-width="1" shape-rendering="crispEdges"/>
<path d="M941.5,531.5 v-4M1014.5,531.5 v-4M1088.5,531.5 v-4M1162.5,531.5 v-4M1235.5,531.5 v-4M1308.5,531.5 v-4" stroke="#000" stroke-width="1" fill="none"/>
<g font-family="'Liberation Sans', Arial, Helvetica, sans-serif" font-size="21.5px" fill="#000">
<text x="941.5" y="562.0" text-anchor="middle">0</text>
<text x="1015.0" y="562.0" text-anchor="middle">10</text>
<text x="1088.5" y="562.0" text-anchor="middle">20</text>
<text x="1162.0" y="562.0" text-anchor="middle">30</text>
<text x="1235.5" y="562.0" text-anchor="middle">40</text>
<text x="1309.0" y="562.0" text-anchor="middle">50</text>
<text x="934.0" y="539.5" text-anchor="end">15</text>
<text x="934.0" y="485.1" text-anchor="end">20</text>
<text x="934.0" y="430.8" text-anchor="end">25</text>
<text x="934.0" y="376.4" text-anchor="end">30</text>
<text x="934.0" y="322.0" text-anchor="end">35</text>
<text x="934.0" y="267.6" text-anchor="end">40</text>
<text x="934.0" y="213.2" text-anchor="end">45</text>
<text x="934.0" y="158.9" text-anchor="end">50</text>
</g>
<g font-family="'Liberation Sans', Arial, Helvetica, sans-serif" font-size="22px" fill="#000">
<text x="1160.5" y="594.0" text-anchor="middle">LONGITUDE (E)</text>
<text transform="translate(896.5,316.0) rotate(-90)" text-anchor="middle">LATITUDE (N)</text>
<text x="1160.7" y="77.0" text-anchor="middle" textLength="600.3" lengthAdjust="spacingAndGlyphs">expt_96.0 - MEAN (MEAN y51-y100) - THICKNESS LAYER 7</text>
</g>
<g shape-rendering="crispEdges">
<rect x="1413.5" y="526.20" width="42.0" height="7.10" fill="#00008f"/>
<rect x="1413.5" y="519.41" width="42.0" height="7.10" fill="#00009f"/>
<rect x="1413.5" y="512.61" width="42.0" height="7.10" fill="#0000af"/>
<rect x="1413.5" y="505.81" width="42.0" height="7.10" fill="#0000bf"/>
<rect x="1413.5" y="499.02" width="42.0" height="7.10" fill="#0000cf"/>
<rect x="1413.5" y="492.22" width="42.0" height="7.10" fill="#0000df"/>
<rect x="1413.5" y="485.42" width="42.0" height="7.10" fill="#0000ef"/>
<rect x="1413.5" y="478.62" width="42.0" height="7.10" fill="#0000ff"/>
<rect x="1413.5" y="471.83" width="42.0" height="7.10" fill="#0010ff"/>
<rect x="1413.5" y="465.03" width="42.0" height="7.10" fill="#0020ff"/>
<rect x="1413.5" y="458.23" width="42.0" height="7.10" fill="#0030ff"/>
<rect x="1413.5" y="451.44" width="42.0" height="7.10" fill="#0040ff"/>
<rect x="1413.5" y="444.64" width="42.0" height="7.10" fill="#0050ff"/>
<rect x="1413.5" y="437.84" width="42.0" height="7.10" fill="#0060ff"/>
<rect x="1413.5" y="431.05" width="42.0" height="7.10" fill="#0070ff"/>
<rect x="1413.5" y="424.25" width="42.0" height="7.10" fill="#0080ff"/>
<rect x="1413.5" y="417.45" width="42.0" height="7.10" fill="#008fff"/>
<rect x="1413.5" y="410.66" width="42.0" height="7.10" fill="#009fff"/>
<rect x="1413.5" y="403.86" width="42.0" height="7.10" fill="#00afff"/>
<rect x="1413.5" y="397.06" width="42.0" height="7.10" fill="#00bfff"/>
<rect x="1413.5" y="390.27" width="42.0" height="7.10" fill="#00cfff"/>
<rect x="1413.5" y="383.47" width="42.0" height="7.10" fill="#00dfff"/>
<rect x="1413.5" y="376.67" width="42.0" height="7.10" fill="#00efff"/>
<rect x="1413.5" y="369.88" width="42.0" height="7.10" fill="#00ffff"/>
<rect x="1413.5" y="363.08" width="42.0" height="7.10" fill="#10ffef"/>
<rect x="1413.5" y="356.28" width="42.0" height="7.10" fill="#20ffdf"/>
<rect x="1413.5" y="349.48" width="42.0" height="7.10" fill="#30ffcf"/>
<rect x="1413.5" y="342.69" width="42.0" height="7.10" fill="#40ffbf"/>
<rect x="1413.5" y="335.89" width="42.0" height="7.10" fill="#50ffaf"/>
<rect x="1413.5" y="329.09" width="42.0" height="7.10" fill="#60ff9f"/>
<rect x="1413.5" y="322.30" width="42.0" height="7.10" fill="#70ff8f"/>
<rect x="1413.5" y="315.50" width="42.0" height="7.10" fill="#80ff80"/>
<rect x="1413.5" y="308.70" width="42.0" height="7.10" fill="#8fff70"/>
<rect x="1413.5" y="301.91" width="42.0" height="7.10" fill="#9fff60"/>
<rect x="1413.5" y="295.11" width="42.0" height="7.10" fill="#afff50"/>
<rect x="1413.5" y="288.31" width="42.0" height="7.10" fill="#bfff40"/>
<rect x="1413.5" y="281.52" width="42.0" height="7.10" fill="#cfff30"/>
<rect x="1413.5" y="274.72" width="42.0" height="7.10" fill="#dfff20"/>
<rect x="1413.5" y="267.92" width="42.0" height="7.10" fill="#efff10"/>
<rect x="1413.5" y="261.12" width="42.0" height="7.10" fill="#ffff00"/>
<rect x="1413.5" y="254.33" width="42.0" height="7.10" fill="#ffef00"/>
<rect x="1413.5" y="247.53" width="42.0" height="7.10" fill="#ffdf00"/>
<rect x="1413.5" y="240.73" width="42.0" height="7.10" fill="#ffcf00"/>
<rect x="1413.5" y="233.94" width="42.0" height="7.10" fill="#ffbf00"/>
<rect x="1413.5" y="227.14" width="42.0" height="7.10" fill="#ffaf00"/>
<rect x="1413.5" y="220.34" width="42.0" height="7.10" fill="#ff9f00"/>
<rect x="1413.5" y="213.55" width="42.0" height="7.10" fill="#ff8f00"/>
<rect x="1413.5" y="206.75" width="42.0" height="7.10" fill="#ff8000"/>
<rect x="1413.5" y="199.95" width="42.0" height="7.10" fill="#ff7000"/>
<rect x="1413.5" y="193.16" width="42.0" height="7.10" fill="#ff6000"/>
<rect x="1413.5" y="186.36" width="42.0" height="7.10" fill="#ff5000"/>
<rect x="1413.5" y="179.56" width="42.0" height="7.10" fill="#ff4000"/>
<rect x="1413.5" y="172.77" width="42.0" height="7.10" fill="#ff3000"/>
<rect x="1413.5" y="165.97" width="42.0" height="7.10" fill="#ff2000"/>
<rect x="1413.5" y="159.17" width="42.0" height="7.10" fill="#ff1000"/>
<rect x="1413.5" y="152.38" width="42.0" height="7.10" fill="#ff0000"/>
<rect x="1413.5" y="145.58" width="42.0" height="7.10" fill="#ef0000"/>
<rect x="1413.5" y="138.78" width="42.0" height="7.10" fill="#df0000"/>
<rect x="1413.5" y="131.98" width="42.0" height="7.10" fill="#cf0000"/>
<rect x="1413.5" y="125.19" width="42.0" height="7.10" fill="#bf0000"/>
<rect x="1413.5" y="118.39" width="42.0" height="7.10" fill="#af0000"/>
<rect x="1413.5" y="111.59" width="42.0" height="7.10" fill="#9f0000"/>
<rect x="1413.5" y="104.80" width="42.0" height="7.10" fill="#8f0000"/>
<rect x="1413.5" y="98.00" width="42.0" height="7.10" fill="#800000"/>
</g>
<rect x="1413.5" y="97.5" width="42" height="436" fill="none" stroke="#000" stroke-width="1"/>
<g font-family="'Liberation Sans', Arial, Helvetica, sans-serif" font-size="21.5px" fill="#000">
<text x="1461.0" y="159.8">280</text>
<text x="1461.0" y="251.2">260</text>
<text x="1461.0" y="342.5">240</text>
<text x="1461.0" y="433.9">220</text>
<text x="1461.0" y="525.3">200</text>
</g>
<path d="M1414.0,149.5 h4M1455.0,149.5 h-4M1414.0,240.5 h4M1455.0,240.5 h-4M1414.0,332.5 h4M1455.0,332.5 h-4M1414.0,423.5 h4M1455.0,423.5 h-4M1414.0,514.5 h4M1455.0,514.5 h-4" stroke="#000" stroke-width="1" fill="none"/>
</g>
<g id="p3">
<clipPath id="clip2"><rect x="216.5" y="701.5" width="437.0" height="432.0"/></clipPath>
<g clip-path="url(#clip2)" stroke="#000" stroke-width="1" stroke-linejoin="round" shape-rendering="crispEdges">
<rect x="215.5" y="700.5" width="439.0" height="434.0" fill="#50ffaf" stroke="none"/>
<path d="M207.0,879.7C213.3,831.3 215.0,880.2 217.7,879.7C220.3,879.1 219.0,877.0 223.0,876.3C227.0,875.7 234.1,875.9 241.7,875.7C249.2,875.4 257.2,874.7 268.3,875.0C279.4,875.3 295.6,877.0 308.3,877.7C321.1,878.4 328.9,878.9 345.0,879.1C361.1,879.4 390.0,879.0 405.0,879.1C420.0,879.2 424.0,881.0 435.0,879.7C446.0,878.3 459.9,873.4 471.0,870.9C482.1,868.5 492.1,867.2 501.7,865.1C511.2,863.0 519.4,860.6 528.3,858.4C537.2,856.2 546.1,854.1 555.0,851.7C563.9,849.4 573.0,848.5 581.7,844.3C590.3,840.0 602.1,831.3 607.0,826.3C611.9,821.3 609.9,817.9 611.0,814.3C612.1,810.8 613.7,808.6 613.7,805.0C613.7,801.4 612.6,796.1 611.0,793.0C609.4,789.9 605.9,789.2 604.3,786.3C602.8,783.4 602.8,779.2 601.7,775.7C600.6,772.1 598.9,768.6 597.7,765.0C596.4,761.4 594.8,759.4 594.3,754.3C593.9,749.2 593.3,739.7 595.0,734.3C596.7,729.0 600.3,725.0 604.3,722.3C608.3,719.7 615.0,719.3 619.0,718.3C623.0,717.3 624.8,716.2 628.3,716.3C631.9,716.4 638.0,717.6 640.3,719.0C642.7,720.4 642.3,722.2 642.3,725.0C642.3,727.8 640.7,731.4 640.3,735.7C640.0,739.9 639.7,745.4 640.3,750.3C641.0,755.2 643.4,760.8 644.3,765.0C645.2,769.2 646.0,771.9 645.7,775.7C645.3,779.4 642.9,782.3 642.3,787.7C641.8,793.0 642.7,801.0 642.3,807.7C642.0,814.3 640.9,821.4 640.3,827.7C639.8,833.9 639.0,840.3 639.0,845.0C639.0,849.7 643.2,852.3 640.3,855.7C637.4,859.0 626.1,862.4 621.7,865.0C617.2,867.6 615.9,869.2 613.7,871.0C611.4,872.8 609.3,874.5 608.3,876.0C607.3,877.5 607.1,878.2 607.7,880.0C608.2,881.8 611.1,883.3 611.7,886.7C612.2,890.0 611.8,896.0 611.0,900.0C610.2,904.0 609.7,906.0 607.0,910.7C604.3,915.3 598.6,923.8 595.0,927.8C591.5,931.8 588.9,932.4 585.8,934.6C582.6,936.9 580.1,939.2 576.1,941.4C572.0,943.7 565.5,946.1 561.5,948.3C557.4,950.4 555.0,952.3 551.7,954.1C548.5,955.9 545.6,957.0 542.0,959.0C538.5,960.9 533.7,964.0 530.4,966.0C527.2,967.9 525.5,968.9 522.5,970.6C519.6,972.4 516.1,974.6 512.8,976.5C509.6,978.3 506.3,980.0 503.1,981.8C499.9,983.6 496.6,985.5 493.4,987.2C490.1,988.9 486.9,990.4 483.6,992.0C480.4,993.7 477.2,995.2 473.9,996.9C470.7,998.6 467.7,1000.2 464.2,1002.2C460.6,1004.3 455.2,1006.7 452.5,1009.1C449.9,1011.5 451.3,1014.1 448.3,1016.7C445.4,1019.3 440.6,1021.1 435.0,1024.7C429.4,1028.2 420.0,1035.3 415.0,1038.0C410.0,1040.7 407.2,1039.6 405.0,1040.9C402.8,1042.3 405.6,1042.5 401.7,1046.0C397.8,1049.5 388.3,1057.6 381.7,1062.0C375.0,1066.4 367.2,1069.8 361.7,1072.7C356.1,1075.6 351.7,1077.1 348.3,1079.3C345.0,1081.6 343.4,1083.1 341.7,1086.0C339.9,1088.9 341.0,1093.8 337.7,1096.7C334.3,1099.6 327.4,1101.6 321.7,1103.3C315.9,1105.1 306.3,1106.0 303.0,1107.3C299.7,1108.7 299.7,1109.8 301.7,1111.3C303.7,1112.9 309.9,1114.8 315.0,1116.7C320.1,1118.6 331.7,1120.9 332.3,1122.7C333.0,1124.4 320.8,1125.8 319.0,1127.3C317.2,1128.9 317.7,1131.1 321.7,1132.0C325.7,1132.9 338.6,1130.8 343.0,1132.7C347.4,1134.6 375.5,1137.1 348.3,1143.3C321.2,1149.6 203.6,1213.9 180.0,1170.0C156.4,1126.1 200.7,928.1 207.0,879.7Z" fill="#20ffdf"/>
<path d="M211.0,708.3C213.8,713.1 215.7,708.5 217.0,708.3C218.3,708.2 218.0,707.4 219.0,707.3C220.0,707.2 220.3,707.8 223.0,707.7C225.7,707.6 228.8,707.1 235.0,706.7C241.2,706.3 253.0,705.4 260.3,705.3C267.7,705.2 275.2,705.9 279.0,706.0C282.8,706.1 275.3,706.0 283.0,705.7C290.7,705.3 314.7,704.3 325.0,704.0C335.3,703.7 331.7,704.2 345.0,704.0C358.3,703.8 389.2,703.3 405.0,703.0C420.8,702.7 430.8,705.8 440.0,702.0C449.2,698.2 500.0,683.7 460.0,680.0C420.0,676.3 241.5,675.3 200.0,680.0C158.5,684.7 208.2,703.6 211.0,708.3Z" fill="#20ffdf"/>
<path d="M207.0,937.7C209.2,910.7 217.7,939.3 220.3,937.7C223.0,936.0 221.7,929.2 223.0,927.7C224.3,926.1 226.6,928.9 228.3,928.3C230.1,927.8 230.3,925.3 233.7,924.3C237.0,923.4 242.6,923.1 248.3,922.7C254.1,922.4 258.3,922.6 268.3,922.3C278.3,922.0 295.6,921.5 308.3,921.0C321.1,920.5 333.9,920.1 345.0,919.5C356.1,919.0 367.6,918.4 375.0,917.7C382.4,917.0 391.6,916.4 389.4,915.4C387.2,914.4 369.1,912.8 361.7,911.7C354.3,910.5 350.6,909.6 345.0,908.3C339.4,907.1 332.7,905.8 328.3,904.3C324.0,902.9 319.0,900.8 319.0,899.7C319.0,898.6 324.0,898.4 328.3,897.7C332.7,896.9 332.2,896.4 345.0,895.0C357.8,893.6 390.0,890.7 405.0,889.4C420.0,888.1 423.3,888.8 435.0,887.0C446.7,885.2 461.7,881.6 475.0,878.7C488.3,875.7 502.8,872.0 515.0,869.3C527.2,866.7 539.4,864.3 548.3,862.7C557.2,861.0 562.1,860.0 568.3,859.3C574.6,858.7 582.1,858.3 585.7,858.7C589.2,859.0 588.9,859.8 589.7,861.3C590.4,862.9 590.9,865.8 590.3,868.0C589.8,870.2 586.9,872.4 586.3,874.7C585.8,876.9 585.6,878.2 587.0,881.3C588.4,884.4 592.6,889.8 595.0,893.3C597.4,896.9 600.4,900.2 601.7,902.7C602.9,905.1 602.8,906.0 602.3,908.0C601.9,910.0 600.2,912.3 599.0,914.7C597.8,917.0 597.2,919.6 595.0,922.0C592.8,924.3 588.9,926.5 585.8,928.8C582.6,931.1 579.3,933.5 576.1,935.6C572.8,937.7 569.6,939.7 566.3,941.4C563.1,943.2 560.6,944.4 556.6,946.3C552.5,948.3 546.1,951.1 542.0,953.1C538.0,955.1 535.9,956.3 532.3,958.5C528.7,960.6 523.7,963.8 520.5,966.0C517.3,968.1 515.7,969.7 512.8,971.6C509.9,973.5 506.3,975.7 503.1,977.4C499.9,979.2 496.6,980.6 493.4,982.3C490.1,984.0 486.9,986.0 483.6,987.7C480.4,989.4 477.2,990.9 473.9,992.5C470.7,994.1 467.4,995.8 464.2,997.4C460.9,999.0 457.7,1000.6 454.5,1002.2C451.2,1003.9 448.0,1005.1 444.7,1007.1C441.5,1009.1 440.0,1011.1 435.0,1014.0C430.0,1016.9 420.0,1022.0 415.0,1024.7C410.0,1027.3 407.2,1028.4 405.0,1029.7C402.8,1031.1 405.6,1030.2 401.7,1032.7C397.8,1035.2 388.3,1040.7 381.7,1044.7C375.0,1048.7 367.8,1053.0 361.7,1056.7C355.6,1060.3 351.7,1062.8 345.0,1066.4C338.3,1070.0 327.3,1075.2 321.7,1078.0C316.0,1080.8 313.7,1081.3 311.0,1083.3C308.3,1085.3 308.3,1087.8 305.7,1090.0C303.0,1092.2 301.2,1094.7 295.0,1096.7C288.8,1098.7 276.3,1100.2 268.3,1102.0C260.3,1103.8 251.1,1105.8 247.0,1107.3C242.9,1108.9 243.4,1109.6 243.7,1111.3C243.9,1113.1 248.7,1116.4 248.3,1118.0C248.0,1119.6 245.0,1120.0 241.7,1120.7C238.3,1121.3 232.0,1122.2 228.3,1122.0C224.7,1121.8 221.2,1123.1 219.7,1119.3C218.1,1115.6 221.1,1102.7 219.0,1099.3C216.9,1096.0 209.0,1126.3 207.0,1099.3C205.0,1072.4 204.8,964.6 207.0,937.7Z" fill="#00efff"/>
<path d="M207.0,945.7C209.2,922.3 217.6,945.9 220.3,945.7C223.1,945.4 222.3,944.0 223.7,944.3C225.0,944.7 226.9,948.8 228.3,947.7C229.8,946.6 230.1,939.8 232.3,937.7C234.6,935.6 237.9,936.1 241.7,935.0C245.4,933.9 248.3,931.9 255.0,931.0C261.7,930.1 272.8,929.9 281.7,929.7C290.6,929.4 297.8,929.4 308.3,929.4C318.9,929.4 333.9,929.8 345.0,929.7C356.1,929.5 365.0,928.8 375.0,928.3C385.0,927.9 395.0,927.6 405.0,927.1C415.0,926.7 426.8,926.1 435.0,925.7C443.2,925.2 448.0,925.0 454.5,924.4C460.9,923.9 467.4,923.2 473.9,922.5C480.4,921.7 487.7,920.9 493.4,920.0C499.0,919.2 503.6,918.3 508.0,917.6C512.3,916.9 517.1,916.5 519.6,915.7C522.1,914.9 522.9,913.6 523.0,912.8C523.2,911.9 522.3,911.2 520.6,910.3C518.9,909.4 515.7,908.2 512.8,907.4C509.9,906.6 507.1,906.0 503.1,905.5C499.0,904.9 493.2,904.6 488.5,904.0C483.8,903.3 477.6,902.5 474.9,901.6C472.2,900.6 472.3,899.0 472.5,898.2C472.6,897.3 472.4,897.8 475.9,896.7C479.3,895.6 487.2,893.5 493.4,891.8C499.5,890.2 504.8,889.2 512.8,887.0C520.9,884.8 535.1,880.5 541.7,878.7C548.3,876.8 549.9,876.2 552.3,876.0C554.8,875.8 555.0,875.8 556.3,877.3C557.7,878.9 559.2,883.2 560.3,885.3C561.5,887.4 561.6,887.8 563.4,889.9C565.2,891.9 568.6,895.4 571.2,897.7C573.8,899.9 576.4,901.7 579.0,903.5C581.6,905.3 585.1,906.8 586.8,908.4C588.4,910.0 588.7,911.6 588.7,913.2C588.7,914.9 588.0,916.5 586.8,918.1C585.5,919.7 583.2,921.3 580.9,923.0C578.6,924.6 575.6,925.9 573.1,927.8C570.7,929.8 569.1,932.4 566.3,934.6C563.6,936.9 560.6,939.2 556.6,941.4C552.5,943.7 546.1,946.3 542.0,948.3C538.0,950.2 535.5,951.4 532.3,953.1C529.0,954.8 526.0,956.3 522.5,958.5C519.1,960.6 514.6,963.8 511.4,966.0C508.1,968.1 506.1,969.8 503.1,971.6C500.1,973.4 496.6,975.2 493.4,977.0C490.1,978.7 486.9,980.5 483.6,982.3C480.4,984.1 477.2,986.0 473.9,987.7C470.7,989.4 467.4,990.9 464.2,992.5C460.9,994.1 457.7,995.8 454.5,997.4C451.2,999.0 448.0,1000.7 444.7,1002.2C441.5,1003.8 440.0,1004.1 435.0,1006.6C430.0,1009.1 420.0,1014.7 415.0,1017.3C410.0,1020.0 408.3,1021.3 405.0,1022.7C401.7,1024.0 400.0,1023.4 395.0,1025.3C390.0,1027.2 381.7,1030.7 375.0,1034.0C368.3,1037.3 360.0,1042.2 355.0,1045.3C350.0,1048.4 348.3,1050.6 345.0,1052.7C341.7,1054.8 340.0,1055.8 335.0,1058.0C330.0,1060.2 321.7,1063.6 315.0,1066.0C308.3,1068.4 300.6,1070.4 295.0,1072.7C289.4,1074.9 285.2,1077.1 281.7,1079.3C278.1,1081.6 275.9,1083.6 273.7,1086.0C271.4,1088.4 271.4,1092.2 268.3,1094.0C265.2,1095.8 259.9,1095.8 255.0,1096.7C250.1,1097.6 244.1,1098.6 239.0,1099.3C233.9,1100.1 227.4,1101.6 224.3,1101.3C221.2,1101.1 221.2,1100.6 220.3,1098.0C219.4,1095.4 221.2,1088.0 219.0,1086.0C216.8,1084.0 209.0,1109.4 207.0,1086.0C205.0,1062.6 204.8,969.1 207.0,945.7Z" fill="#00bfff"/>
<path d="M207.0,957.7C209.2,938.5 217.6,957.9 220.3,957.7C223.1,957.4 221.9,955.4 223.7,956.3C225.4,957.2 229.1,963.7 231.0,963.0C232.9,962.3 232.1,954.6 235.0,952.3C237.9,950.1 243.9,951.0 248.3,949.7C252.8,948.3 256.1,945.6 261.7,944.3C267.2,943.1 273.9,943.0 281.7,942.3C289.4,941.7 297.8,941.3 308.3,940.6C318.9,939.9 333.9,938.9 345.0,938.3C356.1,937.7 365.0,937.5 375.0,937.0C385.0,936.5 395.0,935.7 405.0,935.3C415.0,934.8 425.9,934.7 435.0,934.3C444.1,934.0 451.2,933.5 459.3,933.2C467.4,932.8 475.5,932.7 483.6,932.2C491.7,931.7 501.1,930.5 508.0,930.3C514.8,930.0 520.0,930.3 524.5,930.7C529.0,931.2 532.7,931.7 535.2,932.7C537.7,933.7 539.1,935.3 539.6,936.6C540.1,937.9 539.3,939.2 538.1,940.5C536.9,941.8 534.9,942.9 532.3,944.4C529.7,945.8 525.8,947.4 522.5,949.2C519.3,951.0 516.1,953.0 512.8,955.1C509.6,957.2 505.4,960.1 503.1,961.9C500.8,963.7 501.2,964.3 498.8,966.0C496.4,967.6 491.8,969.8 488.5,971.6C485.2,973.4 482.0,975.3 478.8,977.0C475.5,978.7 472.3,980.2 469.0,981.8C465.8,983.4 462.6,985.1 459.3,986.7C456.1,988.3 452.8,989.8 449.6,991.5C446.3,993.2 442.3,995.5 439.9,996.9C437.4,998.3 439.1,997.4 435.0,999.8C430.9,1002.2 420.0,1008.7 415.0,1011.3C410.0,1013.9 408.3,1014.0 405.0,1015.3C401.7,1016.7 400.0,1017.6 395.0,1019.3C390.0,1021.1 380.6,1023.8 375.0,1026.0C369.4,1028.2 366.7,1030.6 361.7,1032.7C356.7,1034.7 349.4,1036.2 345.0,1038.4C340.6,1040.6 338.9,1043.4 335.0,1046.0C331.1,1048.6 327.2,1050.9 321.7,1054.0C316.1,1057.1 307.4,1062.0 301.7,1064.7C295.9,1067.3 292.6,1068.4 287.0,1070.0C281.4,1071.6 274.8,1072.2 268.3,1074.0C261.9,1075.8 253.4,1078.3 248.3,1080.7C243.2,1083.0 241.2,1086.2 237.7,1088.0C234.1,1089.8 229.7,1091.2 227.0,1091.3C224.3,1091.4 223.0,1091.8 221.7,1088.7C220.3,1085.6 221.4,1075.3 219.0,1072.7C216.6,1070.0 209.0,1091.8 207.0,1072.7C205.0,1053.5 204.8,976.8 207.0,957.7Z" fill="#008fff"/>
<path d="M207.0,968.3C209.3,955.4 218.1,968.6 221.0,968.3C223.9,968.1 222.4,966.3 224.3,967.0C226.2,967.7 229.4,971.9 232.3,972.3C235.2,972.8 237.2,970.3 241.7,969.7C246.1,969.0 255.4,969.2 259.0,968.3C262.6,967.4 260.3,966.1 263.0,964.3C265.7,962.6 269.7,959.6 275.0,957.7C280.3,955.8 287.2,954.3 295.0,953.0C302.8,951.7 313.3,950.9 321.7,949.9C330.0,948.9 336.1,947.8 345.0,947.0C353.9,946.2 365.0,946.0 375.0,945.4C385.0,944.8 395.0,944.0 405.0,943.5C415.0,943.0 425.9,942.6 435.0,942.3C444.1,942.1 452.0,941.8 459.3,941.9C466.6,942.0 473.7,942.3 478.8,942.9C483.8,943.5 486.7,944.3 489.5,945.3C492.2,946.4 494.3,947.8 495.3,949.2C496.3,950.7 496.0,952.1 495.3,954.1C494.7,956.0 493.1,958.9 491.4,960.9C489.8,962.9 488.0,964.0 485.4,966.0C482.8,967.9 479.1,970.5 475.9,972.6C472.6,974.7 469.4,976.5 466.1,978.4C462.9,980.3 459.6,982.1 456.4,983.8C453.2,985.5 450.2,986.9 446.7,988.6C443.1,990.3 440.3,991.3 435.0,994.0C429.7,996.7 420.0,1002.4 415.0,1004.7C410.0,1007.0 408.3,1006.6 405.0,1007.7C401.7,1008.8 400.0,1009.6 395.0,1011.3C390.0,1013.0 381.7,1015.6 375.0,1018.0C368.3,1020.4 360.0,1024.0 355.0,1026.0C350.0,1028.0 349.4,1027.5 345.0,1029.7C340.6,1032.0 333.3,1036.4 328.3,1039.3C323.3,1042.3 320.6,1044.4 315.0,1047.3C309.4,1050.2 301.7,1054.0 295.0,1056.7C288.3,1059.3 281.7,1061.3 275.0,1063.3C268.3,1065.3 261.0,1067.6 255.0,1068.7C249.0,1069.8 243.7,1070.2 239.0,1070.0C234.3,1069.8 229.9,1069.1 227.0,1067.3C224.1,1065.6 222.8,1062.9 221.7,1059.3C220.5,1055.8 222.5,1048.2 220.1,1046.0C217.6,1043.8 209.2,1058.9 207.0,1046.0C204.8,1033.1 204.7,981.3 207.0,968.3Z" fill="#0050ff"/>
<path d="M207.0,977.7C209.3,972.9 218.1,978.1 221.0,977.7C223.9,977.2 222.4,974.8 224.3,975.0C226.2,975.2 228.3,979.2 232.3,979.0C236.3,978.8 243.7,974.7 248.3,973.7C253.0,972.7 257.0,974.1 260.3,973.0C263.7,971.9 264.8,969.0 268.3,967.0C271.9,965.0 276.1,962.7 281.7,961.0C287.2,959.3 295.0,958.0 301.7,957.0C308.3,956.0 314.4,955.8 321.7,955.3C328.9,954.7 336.1,954.3 345.0,953.7C353.9,953.1 365.0,952.3 375.0,951.7C385.0,951.0 395.0,950.2 405.0,949.7C415.0,949.2 427.6,948.3 435.0,948.6C442.4,948.9 444.7,950.3 449.6,951.2C454.5,952.1 460.9,953.1 464.2,954.1C467.4,955.1 468.2,955.6 469.0,957.0C469.9,958.5 469.8,961.4 469.5,962.8C469.2,964.3 469.0,964.2 467.3,966.0C465.6,967.7 462.3,971.5 459.3,973.5C456.4,975.6 452.8,976.6 449.6,978.4C446.3,980.2 442.3,982.8 439.9,984.2C437.4,985.7 439.1,984.9 435.0,987.2C430.9,989.5 420.0,995.8 415.0,998.0C410.0,1000.2 408.3,999.6 405.0,1000.7C401.7,1001.8 400.0,1002.9 395.0,1004.7C390.0,1006.4 381.7,1008.9 375.0,1011.3C368.3,1013.8 360.0,1017.6 355.0,1019.3C350.0,1021.0 348.3,1020.1 345.0,1021.5C341.7,1022.8 338.9,1025.5 335.0,1027.3C331.1,1029.2 325.7,1030.7 321.7,1032.7C317.7,1034.7 315.4,1036.7 311.0,1039.3C306.6,1042.0 301.0,1046.0 295.0,1048.7C289.0,1051.3 281.7,1053.6 275.0,1055.3C268.3,1057.1 261.0,1058.7 255.0,1059.3C249.0,1060.0 243.4,1060.2 239.0,1059.3C234.6,1058.4 231.0,1056.4 228.3,1054.0C225.7,1051.6 224.2,1048.4 223.0,1044.7C221.8,1040.9 221.4,1037.8 221.0,1031.3C220.6,1024.9 222.7,1010.2 220.3,1006.0C218.0,1001.8 209.2,1010.7 207.0,1006.0C204.8,1001.3 204.7,982.4 207.0,977.7Z" fill="#0020ff"/>
<path d="M222.3,985.7C222.7,983.6 220.9,983.9 223.0,983.7C225.1,983.4 230.8,984.9 235.0,984.3C239.2,983.8 244.3,980.8 248.3,980.3C252.3,979.9 255.2,982.6 259.0,981.7C262.8,980.8 266.8,977.4 271.0,975.0C275.2,972.6 279.2,968.8 284.3,967.0C289.4,965.2 295.4,965.0 301.7,964.3C307.9,963.6 314.4,963.2 321.7,962.7C328.9,962.3 335.0,962.4 345.0,961.8C355.0,961.2 371.7,959.8 381.7,959.3C391.7,958.7 397.2,957.5 405.0,958.3C412.8,959.2 423.6,962.6 428.3,964.3C433.1,966.1 433.7,967.0 433.7,969.0C433.7,971.0 431.4,973.4 428.3,976.3C425.2,979.2 418.9,983.6 415.0,986.3C411.1,989.1 408.3,991.3 405.0,993.0C401.7,994.7 400.0,994.7 395.0,996.3C390.0,998.0 381.7,1000.9 375.0,1003.0C368.3,1005.1 360.0,1007.3 355.0,1009.0C350.0,1010.7 348.3,1012.0 345.0,1013.4C341.7,1014.8 339.3,1015.8 335.0,1017.7C330.7,1019.5 323.4,1022.2 319.0,1024.3C314.6,1026.4 312.3,1028.1 308.3,1030.3C304.3,1032.6 299.4,1035.3 295.0,1037.7C290.6,1040.0 286.1,1042.6 281.7,1044.3C277.2,1046.1 272.8,1047.4 268.3,1048.3C263.9,1049.2 259.4,1049.7 255.0,1049.7C250.6,1049.7 245.2,1049.7 241.7,1048.3C238.1,1047.0 235.4,1044.6 233.7,1041.7C231.9,1038.8 231.4,1035.0 231.0,1031.0C230.6,1027.0 231.4,1021.0 231.0,1017.7C230.6,1014.3 229.8,1012.8 228.3,1011.0C226.9,1009.2 223.6,1009.4 222.3,1007.0C221.1,1004.6 221.0,999.9 221.0,996.3C221.0,992.8 222.0,987.8 222.3,985.7Z" fill="#0000ef"/>
<path d="M239.0,997.7C239.3,996.1 239.9,994.4 241.7,993.7C243.4,992.9 247.9,992.8 249.7,993.0C251.4,993.2 250.3,995.3 252.3,995.0C254.3,994.7 257.9,993.0 261.7,991.0C265.4,989.0 270.8,985.7 275.0,983.0C279.2,980.3 282.6,976.9 287.0,975.0C291.4,973.1 295.9,972.3 301.7,971.7C307.4,971.0 314.4,971.1 321.7,971.0C328.9,970.9 337.2,970.7 345.0,971.0C352.8,971.3 361.6,972.1 368.3,973.0C375.1,973.9 382.1,975.1 385.7,976.3C389.2,977.6 389.7,978.8 389.7,980.3C389.7,981.9 388.1,983.9 385.7,985.7C383.2,987.4 380.1,988.8 375.0,991.0C369.9,993.2 360.0,996.9 355.0,999.0C350.0,1001.1 348.3,1002.2 345.0,1003.7C341.7,1005.1 339.3,1005.7 335.0,1007.7C330.7,1009.7 323.9,1012.9 319.0,1015.7C314.1,1018.4 309.7,1021.8 305.7,1024.3C301.7,1026.9 299.0,1028.8 295.0,1031.0C291.0,1033.2 286.1,1035.9 281.7,1037.7C277.2,1039.4 272.8,1041.0 268.3,1041.7C263.9,1042.3 258.8,1042.3 255.0,1041.7C251.2,1041.0 247.9,1039.9 245.7,1037.7C243.4,1035.4 242.2,1032.8 241.7,1028.3C241.1,1023.9 242.7,1015.2 242.3,1011.0C242.0,1006.8 240.2,1005.2 239.7,1003.0C239.1,1000.8 238.7,999.2 239.0,997.7Z" fill="#0000bf"/>
<path d="M252.3,1016.3C252.6,1013.4 253.4,1011.9 255.0,1009.7C256.6,1007.4 259.0,1005.2 261.7,1003.0C264.3,1000.8 267.7,998.6 271.0,996.3C274.3,994.1 278.1,991.8 281.7,989.7C285.2,987.6 288.3,985.1 292.3,983.7C296.3,982.2 301.2,981.3 305.7,981.0C310.1,980.7 314.8,981.1 319.0,981.7C323.2,982.2 328.0,983.2 331.0,984.3C334.0,985.4 336.2,986.8 337.0,988.3C337.8,989.9 336.9,992.0 335.7,993.7C334.4,995.3 332.4,996.9 329.7,998.3C326.9,999.8 322.6,1000.7 319.0,1002.3C315.4,1004.0 311.9,1006.0 308.3,1008.3C304.8,1010.7 301.2,1013.7 297.7,1016.3C294.1,1019.0 290.3,1022.2 287.0,1024.3C283.7,1026.4 280.8,1027.7 277.7,1029.0C274.6,1030.3 271.4,1031.8 268.3,1032.3C265.2,1032.9 261.4,1033.2 259.0,1032.3C256.6,1031.4 254.8,1029.7 253.7,1027.0C252.6,1024.3 252.1,1019.2 252.3,1016.3Z" fill="#fff"/>
<path d="M421.7,1042.0C417.2,1044.8 412.8,1048.9 408.3,1052.7C403.9,1056.4 399.4,1060.9 395.0,1064.7C390.6,1068.4 385.0,1072.0 381.7,1075.3C378.3,1078.7 375.4,1081.8 375.0,1084.7C374.6,1087.6 378.3,1090.2 379.0,1092.7C379.7,1095.1 380.3,1097.1 379.0,1099.3C377.7,1101.6 371.7,1104.4 371.0,1106.0C370.3,1107.6 369.9,1107.3 375.0,1108.7C380.1,1110.0 391.7,1112.4 401.7,1114.0C411.7,1115.6 426.1,1117.1 435.0,1118.0C443.9,1118.9 448.3,1118.8 455.0,1119.3C461.7,1119.9 468.3,1120.7 475.0,1121.3C481.7,1122.0 488.3,1123.0 495.0,1123.3C501.7,1123.7 509.4,1123.7 515.0,1123.3C520.6,1123.0 523.9,1122.2 528.3,1121.3C532.8,1120.4 537.2,1119.3 541.7,1118.0C546.1,1116.7 551.4,1115.1 555.0,1113.3C558.6,1111.6 560.8,1109.7 563.0,1107.3C565.2,1105.0 566.8,1102.0 568.3,1099.3C569.9,1096.7 570.1,1093.8 572.3,1091.3C574.6,1088.9 578.8,1087.1 581.7,1084.7C584.6,1082.2 587.9,1079.1 589.7,1076.7C591.4,1074.2 591.7,1072.9 592.3,1070.0C593.0,1067.1 593.2,1063.3 593.7,1059.3C594.1,1055.3 594.3,1050.4 595.0,1046.0C595.7,1041.6 596.8,1037.1 597.7,1032.7C598.6,1028.2 599.2,1023.8 600.3,1019.3C601.4,1014.9 603.2,1010.4 604.3,1006.0C605.4,1001.6 606.1,997.1 607.0,992.7C607.9,988.2 608.6,983.8 609.7,979.3C610.8,974.9 612.3,969.9 613.7,966.0C615.0,962.1 616.3,959.9 617.7,956.0C619.0,952.1 620.1,947.1 621.7,942.7C623.2,938.2 626.0,933.8 627.0,929.3C628.0,924.9 627.9,919.6 627.7,916.0C627.4,912.4 626.9,909.8 625.7,908.0C624.4,906.2 622.1,904.9 620.3,905.3C618.6,905.8 617.0,908.4 615.0,910.7C613.0,912.9 611.7,914.8 608.3,918.7C605.0,922.5 598.8,930.0 595.0,933.7C591.3,937.3 588.9,938.4 585.8,940.5C582.6,942.6 580.1,944.2 576.1,946.3C572.0,948.4 565.5,951.1 561.5,953.1C557.4,955.1 555.5,956.3 551.7,958.5C548.0,960.6 543.0,963.6 539.0,966.0C534.9,968.3 531.8,970.0 527.4,972.6C523.1,975.1 516.9,978.9 512.8,981.3C508.8,983.8 506.3,985.2 503.1,987.2C499.9,989.1 496.6,991.1 493.4,993.0C490.1,994.9 486.9,996.8 483.6,998.8C480.4,1000.9 476.7,1003.3 473.9,1005.2C471.2,1007.0 469.1,1007.7 467.1,1010.0C465.1,1012.4 464.8,1016.4 461.7,1019.3C458.5,1022.2 452.8,1024.6 448.3,1027.3C443.9,1030.1 439.4,1033.3 435.0,1035.7C430.6,1038.2 426.1,1039.2 421.7,1042.0Z" fill="#8fff70"/>
<path d="M435.0,1048.7C433.9,1050.2 430.6,1052.7 428.3,1055.3C426.1,1058.0 423.2,1061.8 421.7,1064.7C420.1,1067.6 420.1,1070.2 419.0,1072.7C417.9,1075.1 416.6,1077.3 415.0,1079.3C413.4,1081.3 410.1,1083.1 409.7,1084.7C409.2,1086.2 410.3,1086.9 412.3,1088.7C414.3,1090.4 417.9,1093.6 421.7,1095.3C425.4,1097.1 429.4,1097.8 435.0,1099.3C440.6,1100.9 449.4,1103.0 455.0,1104.7C460.6,1106.3 463.9,1108.9 468.3,1109.3C472.8,1109.8 477.2,1107.7 481.7,1107.3C486.1,1107.0 491.0,1107.0 495.0,1107.3C499.0,1107.7 501.2,1109.6 505.7,1109.3C510.1,1109.1 516.8,1107.2 521.7,1106.0C526.6,1104.8 532.1,1103.8 535.0,1102.0C537.9,1100.2 536.8,1097.6 539.0,1095.3C541.2,1093.1 544.6,1091.1 548.3,1088.7C552.1,1086.2 557.4,1083.6 561.7,1080.7C565.9,1077.8 571.2,1074.9 573.7,1071.3C576.1,1067.8 575.4,1063.6 576.3,1059.3C577.2,1055.1 577.9,1050.4 579.0,1046.0C580.1,1041.6 581.4,1037.1 583.0,1032.7C584.6,1028.2 586.6,1023.8 588.3,1019.3C590.1,1014.9 592.1,1010.4 593.7,1006.0C595.2,1001.6 596.3,997.1 597.7,992.7C599.0,988.2 600.4,983.8 601.7,979.3C602.9,974.9 604.1,968.8 605.0,966.0C605.9,963.2 605.8,965.4 607.0,962.7C608.2,959.9 611.0,953.6 612.3,949.3C613.7,945.1 614.8,940.2 615.0,937.3C615.2,934.4 615.0,932.9 613.7,932.0C612.3,931.1 610.1,930.7 607.0,932.0C603.9,933.3 597.0,938.4 595.0,940.0C593.0,941.6 596.6,940.4 595.0,941.4C593.5,942.5 588.9,944.5 585.8,946.3C582.6,948.1 579.3,950.2 576.1,952.1C572.8,954.1 570.7,955.7 566.3,958.0C562.0,960.3 554.8,963.4 550.0,966.0C545.1,968.6 541.7,970.7 537.1,973.5C532.6,976.4 526.6,980.5 522.5,983.3C518.5,986.0 516.1,987.8 512.8,990.1C509.6,992.4 506.3,994.6 503.1,996.9C499.9,999.2 496.1,1001.5 493.4,1003.7C490.6,1005.9 487.4,1007.9 486.6,1010.0C485.7,1012.2 490.3,1014.0 488.3,1016.7C486.4,1019.3 479.4,1023.3 475.0,1026.0C470.6,1028.7 466.1,1030.2 461.7,1032.7C457.2,1035.1 452.8,1038.4 448.3,1040.7C443.9,1042.9 437.2,1044.7 435.0,1046.0C432.8,1047.3 436.1,1047.1 435.0,1048.7Z" fill="#bfff40"/>
<path d="M448.3,1062.0C448.6,1059.3 450.1,1056.7 452.3,1054.0C454.6,1051.3 457.9,1048.7 461.7,1046.0C465.4,1043.3 470.6,1041.1 475.0,1038.0C479.4,1034.9 483.9,1031.1 488.3,1027.3C492.8,1023.6 497.2,1018.9 501.7,1015.3C506.1,1011.8 510.6,1009.8 515.0,1006.0C519.4,1002.2 523.9,997.3 528.3,992.7C532.8,988.0 537.2,981.6 541.7,978.0C546.1,974.4 551.3,973.3 555.0,971.3C558.7,969.3 560.5,967.9 564.0,966.0C567.5,964.1 572.4,962.1 576.1,959.9C579.7,957.8 583.7,954.6 585.8,953.1C587.8,951.7 585.9,951.9 588.3,951.3C590.8,950.8 598.2,949.7 600.3,950.0C602.4,950.3 601.4,951.2 601.0,953.3C600.6,955.4 598.3,960.6 597.7,962.7C597.0,964.8 597.7,963.7 597.0,966.0C596.3,968.3 595.1,972.2 593.7,976.7C592.2,981.1 590.1,987.8 588.3,992.7C586.6,997.6 584.8,1001.6 583.0,1006.0C581.2,1010.4 579.7,1014.9 577.7,1019.3C575.7,1023.8 573.2,1028.2 571.0,1032.7C568.8,1037.1 566.3,1041.6 564.3,1046.0C562.3,1050.4 561.0,1055.3 559.0,1059.3C557.0,1063.3 555.2,1066.9 552.3,1070.0C549.4,1073.1 545.7,1075.6 541.7,1078.0C537.7,1080.4 532.8,1082.9 528.3,1084.7C523.9,1086.4 519.4,1087.6 515.0,1088.7C510.6,1089.8 506.1,1090.9 501.7,1091.3C497.2,1091.8 492.8,1091.7 488.3,1091.3C483.9,1091.0 479.0,1090.4 475.0,1089.3C471.0,1088.2 467.2,1086.6 464.3,1084.7C461.4,1082.8 459.9,1080.4 457.7,1078.0C455.4,1075.6 452.6,1072.7 451.0,1070.0C449.4,1067.3 448.1,1064.7 448.3,1062.0Z" fill="#efff10"/>
<path d="M509.0,1044.7C509.1,1042.2 509.6,1039.6 511.0,1036.7C512.4,1033.8 515.7,1030.2 517.7,1027.3C519.7,1024.4 520.3,1022.4 523.0,1019.3C525.7,1016.2 530.3,1012.4 533.7,1008.7C537.0,1004.9 540.1,1000.4 543.0,996.7C545.9,992.9 547.9,989.1 551.0,986.0C554.1,982.9 558.3,980.4 561.7,978.0C565.0,975.6 567.9,972.8 571.0,971.3C574.1,969.9 578.4,969.1 580.3,969.3C582.3,969.6 582.7,970.6 582.7,972.7C582.7,974.8 581.4,978.2 580.3,982.0C579.3,985.8 578.3,991.3 576.3,995.3C574.3,999.3 571.0,1002.0 568.3,1006.0C565.7,1010.0 563.0,1016.0 560.3,1019.3C557.7,1022.7 555.0,1024.0 552.3,1026.0C549.7,1028.0 546.6,1028.9 544.3,1031.3C542.1,1033.8 540.6,1038.0 539.0,1040.7C537.4,1043.3 536.8,1045.6 535.0,1047.3C533.2,1049.1 531.7,1050.1 528.3,1051.3C525.0,1052.6 518.0,1054.7 515.0,1054.7C512.0,1054.7 511.3,1053.0 510.3,1051.3C509.3,1049.7 508.9,1047.1 509.0,1044.7Z" fill="#ffdf00"/>
<path d="M629.7,970.7C630.3,969.6 633.0,969.6 633.7,970.7C634.3,971.8 634.3,976.2 633.7,977.3C633.0,978.4 630.3,978.4 629.7,977.3C629.0,976.2 629.0,971.8 629.7,970.7Z" fill="#8fff70"/>
<path d="M218.0,723.0C220.2,719.6 217.7,720.4 218.0,719.7C218.3,718.9 218.7,718.9 219.7,718.3C220.6,717.7 222.4,716.8 223.7,716.0C224.9,715.2 224.2,714.2 227.0,713.3C229.8,712.5 234.3,711.5 240.3,711.0C246.3,710.5 251.7,710.6 263.0,710.3C274.3,710.1 298.0,709.6 308.3,709.3C318.7,709.1 318.9,708.9 325.0,709.0C331.1,709.1 331.7,709.8 345.0,709.7C358.3,709.7 390.0,708.8 405.0,708.7C420.0,708.6 422.7,708.8 435.0,709.0C447.3,709.2 469.4,709.4 479.0,709.7C488.6,709.9 485.9,710.0 492.3,710.3C498.8,710.7 508.8,710.6 517.7,711.7C526.6,712.8 540.6,715.4 545.7,717.0C550.8,718.6 546.1,719.1 548.3,721.0C550.6,722.9 555.9,726.7 559.0,728.3C562.1,730.0 564.8,729.3 567.0,731.0C569.2,732.7 570.4,735.6 572.3,738.3C574.2,741.1 577.3,744.3 578.3,747.7C579.3,751.0 576.9,755.0 578.3,758.3C579.8,761.7 585.1,764.6 587.0,767.7C588.9,770.8 588.8,773.0 589.7,777.0C590.6,781.0 591.2,787.4 592.3,791.7C593.4,795.9 595.7,798.8 596.3,802.3C597.0,805.9 596.8,809.7 596.3,813.0C595.9,816.3 596.1,819.4 593.7,822.3C591.2,825.2 584.8,827.7 581.7,830.3C578.6,833.0 579.4,835.7 575.0,838.3C570.6,841.0 562.8,843.8 555.0,846.3C547.2,848.9 537.2,851.4 528.3,853.7C519.4,855.9 510.6,857.8 501.7,859.7C492.8,861.6 483.9,863.4 475.0,865.0C466.1,866.6 455.0,868.3 448.3,869.3C441.7,870.3 442.2,870.3 435.0,871.0C427.8,871.7 420.0,873.9 405.0,873.6C390.0,873.4 366.7,870.8 345.0,869.5C323.3,868.2 287.8,866.8 275.0,866.0C262.2,865.2 271.7,865.6 268.3,865.0C265.0,864.4 259.7,863.6 255.0,862.3C250.3,861.1 243.7,859.1 240.3,857.7C237.0,856.2 236.8,855.1 235.0,853.7C233.2,852.2 230.9,851.1 229.7,849.0C228.4,846.9 228.1,842.8 227.3,841.0C226.6,839.2 225.9,838.4 225.0,838.3C224.1,838.2 222.7,840.6 221.7,840.3C220.7,840.1 219.6,838.8 219.0,837.0C218.4,835.2 219.3,830.9 218.0,829.7C216.7,828.4 213.2,844.6 211.0,829.7C208.8,814.7 203.8,757.8 205.0,740.0C206.2,722.2 215.8,726.4 218.0,723.0Z" fill="#8fff70"/>
<path d="M218.3,744.3C218.6,741.7 219.2,740.8 219.7,738.3C220.1,735.9 220.1,731.8 221.0,729.7C221.9,727.6 223.8,727.2 225.0,725.7C226.2,724.1 226.8,721.6 228.3,720.3C229.9,719.1 231.3,719.1 234.3,718.3C237.3,717.6 242.4,716.5 246.3,716.0C250.2,715.5 252.6,715.6 257.7,715.3C262.8,715.1 265.8,714.9 277.0,714.7C288.2,714.4 313.7,714.1 325.0,714.0C336.3,713.9 331.7,713.9 345.0,713.8C358.3,713.7 390.0,713.3 405.0,713.3C420.0,713.3 425.6,713.3 435.0,713.7C444.4,714.1 452.1,714.4 461.7,715.7C471.2,716.9 483.0,719.6 492.3,721.0C501.7,722.4 509.4,722.3 517.7,724.3C525.9,726.3 535.4,730.4 541.7,733.0C547.9,735.6 551.4,737.2 555.0,739.7C558.6,742.1 561.3,744.6 563.0,747.7C564.7,750.8 563.2,754.8 565.0,758.3C566.8,761.9 571.6,765.7 573.7,769.0C575.8,772.3 576.8,774.6 577.7,778.3C578.6,782.1 578.1,787.9 579.0,791.7C579.9,795.4 582.1,798.3 583.0,801.0C583.9,803.7 584.6,804.8 584.3,807.7C584.1,810.6 583.7,815.2 581.7,818.3C579.7,821.4 575.0,823.9 572.3,826.3C569.7,828.8 568.6,830.8 565.7,833.0C562.8,835.2 560.1,837.4 555.0,839.7C549.9,841.9 541.7,844.3 535.0,846.3C528.3,848.3 522.8,849.9 515.0,851.7C507.2,853.4 497.2,855.4 488.3,857.0C479.4,858.6 470.6,859.8 461.7,861.0C452.8,862.2 444.4,863.4 435.0,864.3C425.6,865.3 420.0,867.4 405.0,866.9C390.0,866.4 358.3,862.4 345.0,861.3C331.7,860.1 331.1,860.5 325.0,860.0C318.9,859.5 313.3,858.8 308.3,858.3C303.3,857.8 299.4,857.7 295.0,857.0C290.6,856.3 285.6,855.3 281.7,854.3C277.8,853.3 274.1,852.2 271.7,851.0C269.2,849.8 268.3,848.4 267.0,847.0C265.7,845.6 264.6,843.9 263.7,842.3C262.8,840.8 262.7,838.9 261.7,837.7C260.7,836.4 259.2,836.0 257.7,835.0C256.1,834.0 254.3,832.4 252.3,831.7C250.3,830.9 247.4,831.1 245.7,830.3C243.9,829.6 243.0,828.2 241.7,827.0C240.3,825.8 239.4,824.0 237.7,823.3C235.9,822.7 232.4,823.8 231.0,823.0C229.6,822.2 229.7,820.2 229.0,818.3C228.3,816.4 227.7,813.8 227.0,811.7C226.3,809.5 225.9,806.2 225.0,805.3C224.1,804.4 222.6,806.6 221.7,806.3C220.8,806.1 220.2,805.7 219.7,803.7C219.1,801.7 218.6,798.1 218.3,794.3C218.1,790.6 218.0,785.4 218.0,781.0C218.0,776.6 218.3,772.1 218.3,767.7C218.4,763.2 218.3,758.2 218.3,754.3C218.3,750.4 218.1,747.0 218.3,744.3Z" fill="#bfff40"/>
<path d="M223.0,765.0C223.3,759.9 224.4,748.1 225.0,743.7C225.6,739.2 225.6,740.0 226.3,738.3C227.1,736.7 228.6,735.1 229.7,733.7C230.8,732.2 231.9,730.8 233.0,729.7C234.1,728.6 234.8,727.9 236.3,727.0C237.9,726.1 239.4,725.2 242.3,724.3C245.2,723.5 248.8,722.7 253.7,722.0C258.6,721.3 266.1,720.8 271.7,720.3C277.2,719.9 283.1,719.3 287.0,719.3C290.9,719.3 291.0,720.2 295.0,720.3C299.0,720.4 306.0,720.3 311.0,720.0C316.0,719.7 319.3,718.8 325.0,718.7C330.7,718.5 331.7,718.5 345.0,718.9C358.3,719.3 390.0,720.9 405.0,721.0C420.0,721.1 425.6,719.3 435.0,719.7C444.4,720.0 452.8,721.8 461.7,723.0C470.6,724.2 479.4,725.3 488.3,727.0C497.2,728.7 505.4,730.0 515.0,733.0C524.6,736.0 540.1,741.4 545.7,745.0C551.2,748.6 546.8,751.4 548.3,754.3C549.9,757.2 552.6,759.4 555.0,762.3C557.4,765.2 561.1,768.6 563.0,771.7C564.9,774.8 565.9,777.2 566.3,781.0C566.8,784.8 565.1,790.8 565.7,794.3C566.2,797.9 568.8,799.9 569.7,802.3C570.6,804.8 571.4,806.1 571.0,809.0C570.6,811.9 569.7,816.8 567.0,819.7C564.3,822.6 558.1,823.9 555.0,826.3C551.9,828.8 551.7,831.9 548.3,834.3C545.0,836.8 540.6,839.0 535.0,841.0C529.4,843.0 522.8,844.7 515.0,846.3C507.2,848.0 497.2,849.6 488.3,851.0C479.4,852.4 470.6,853.9 461.7,855.0C452.8,856.1 444.4,856.9 435.0,857.7C425.6,858.5 420.0,860.5 405.0,859.8C390.0,859.1 358.3,854.9 345.0,853.2C331.7,851.5 331.1,850.9 325.0,849.7C318.9,848.4 312.2,846.8 308.3,845.7C304.4,844.6 303.6,844.1 301.7,843.0C299.8,841.9 298.2,840.6 297.0,839.0C295.8,837.4 295.2,835.1 294.3,833.7C293.4,832.2 293.8,831.3 291.7,830.3C289.6,829.3 285.6,828.7 281.7,827.7C277.8,826.7 272.8,825.4 268.3,824.3C263.9,823.2 258.6,822.3 255.0,821.0C251.4,819.7 249.2,817.8 247.0,816.3C244.8,814.9 243.3,814.0 241.7,812.3C240.0,810.7 238.7,808.8 237.0,806.3C235.3,803.9 233.1,800.4 231.7,797.7C230.2,794.9 229.2,792.4 228.3,789.7C227.4,786.9 227.2,783.6 226.3,781.0C225.5,778.4 223.9,777.0 223.3,774.3C222.8,771.7 222.7,770.1 223.0,765.0Z" fill="#efff10"/>
<path d="M229.3,761.0C229.4,756.6 228.9,750.8 229.3,747.7C229.7,744.6 230.7,744.1 231.7,742.3C232.6,740.6 233.8,738.6 235.0,737.0C236.2,735.4 236.8,734.1 239.0,733.0C241.2,731.9 245.4,731.1 248.3,730.3C251.2,729.6 253.0,728.8 256.3,728.3C259.7,727.8 264.9,727.7 268.3,727.3C271.8,726.9 270.3,726.3 277.0,726.0C283.7,725.7 302.6,725.6 308.3,725.7C314.1,725.7 308.9,726.5 311.7,726.3C314.4,726.2 319.4,724.9 325.0,724.7C330.6,724.4 331.7,724.3 345.0,725.0C358.3,725.7 390.0,728.4 405.0,728.6C420.0,728.8 425.6,726.2 435.0,726.3C444.4,726.5 452.8,728.2 461.7,729.7C470.6,731.1 479.4,732.9 488.3,735.0C497.2,737.1 508.3,740.2 515.0,742.3C521.7,744.4 524.8,745.0 528.3,747.7C531.9,750.3 533.4,754.6 536.3,758.3C539.2,762.1 543.0,767.0 545.7,770.3C548.3,773.7 551.3,775.0 552.3,778.3C553.3,781.7 551.2,786.8 551.7,790.3C552.1,793.9 554.2,797.0 555.0,799.7C555.8,802.3 556.3,803.9 556.3,806.3C556.3,808.8 557.0,811.7 555.0,814.3C553.0,817.0 546.8,819.9 544.3,822.3C541.9,824.8 543.0,826.8 540.3,829.0C537.7,831.2 533.7,833.8 528.3,835.7C523.0,837.6 517.2,838.8 508.3,840.3C499.4,841.9 487.2,843.7 475.0,845.0C462.8,846.3 446.7,847.5 435.0,848.3C423.3,849.2 420.0,851.9 405.0,850.1C390.0,848.3 358.3,840.9 345.0,837.3C331.7,833.7 330.0,830.2 325.0,828.3C320.0,826.5 318.9,827.2 315.0,826.3C311.1,825.4 306.1,824.0 301.7,823.0C297.2,822.0 292.8,821.2 288.3,820.3C283.9,819.4 278.8,818.6 275.0,817.7C271.2,816.8 268.6,816.0 265.7,815.0C262.8,814.0 259.9,812.8 257.7,811.7C255.4,810.6 254.2,809.7 252.3,808.3C250.4,807.0 248.3,805.7 246.3,803.7C244.3,801.7 242.2,799.0 240.3,796.3C238.4,793.7 236.3,790.2 235.0,787.7C233.7,785.1 233.3,783.2 232.3,781.0C231.3,778.8 229.5,777.7 229.0,774.3C228.5,771.0 229.3,765.4 229.3,761.0Z" fill="#ffdf00"/>
<path d="M233.0,761.0C233.1,756.6 233.3,750.9 234.0,747.7C234.7,744.4 235.7,743.3 237.0,741.7C238.3,740.0 240.1,738.7 241.7,737.7C243.2,736.6 244.1,736.0 246.3,735.3C248.6,734.7 251.3,734.2 255.0,733.7C258.7,733.2 264.4,732.8 268.3,732.3C272.2,731.9 273.9,731.3 278.3,731.0C282.8,730.7 291.1,730.3 295.0,730.3C298.9,730.4 296.7,731.4 301.7,731.3C306.7,731.2 317.8,730.0 325.0,729.7C332.2,729.4 331.7,729.1 345.0,729.6C358.3,730.1 390.0,732.1 405.0,732.7C420.0,733.3 425.6,732.3 435.0,733.0C444.4,733.7 452.8,735.4 461.7,737.0C470.6,738.6 480.3,740.3 488.3,742.3C496.3,744.3 503.4,746.6 509.7,749.0C515.9,751.4 521.7,753.9 525.7,757.0C529.7,760.1 531.9,764.1 533.7,767.7C535.4,771.2 536.1,774.3 536.3,778.3C536.6,782.3 534.8,787.9 535.0,791.7C535.2,795.4 537.0,798.6 537.7,801.0C538.3,803.4 539.0,804.3 539.0,806.3C539.0,808.3 539.4,810.8 537.7,813.0C535.9,815.2 532.1,817.4 528.3,819.7C524.6,821.9 520.6,824.2 515.0,826.3C509.4,828.4 503.9,831.1 495.0,832.3C486.1,833.6 471.7,833.6 461.7,833.7C451.7,833.8 444.4,833.1 435.0,833.0C425.6,832.9 420.0,835.0 405.0,833.3C390.0,831.5 358.3,825.2 345.0,822.5C331.7,819.8 331.1,818.5 325.0,817.3C318.9,816.2 313.3,816.3 308.3,815.7C303.3,815.1 299.4,814.4 295.0,813.7C290.6,812.9 286.1,812.0 281.7,811.0C277.2,810.0 271.9,808.8 268.3,807.7C264.8,806.6 263.0,805.7 260.3,804.3C257.7,803.0 254.6,801.3 252.3,799.7C250.1,798.0 248.8,796.4 247.0,794.3C245.2,792.2 243.1,789.2 241.7,787.0C240.2,784.8 239.7,783.1 238.3,781.0C237.0,778.9 234.6,777.7 233.7,774.3C232.8,771.0 232.9,765.4 233.0,761.0Z" fill="#ffaf00"/>
<path d="M236.3,761.0C236.3,759.3 235.7,756.6 236.3,754.3C237.0,752.1 239.0,749.4 240.3,747.7C241.7,745.9 243.0,744.8 244.3,743.7C245.7,742.6 246.1,741.9 248.3,741.0C250.6,740.1 254.0,738.9 257.7,738.3C261.3,737.7 265.8,737.8 270.3,737.3C274.9,736.8 278.7,735.9 285.0,735.3C291.3,734.8 301.7,734.3 308.3,734.0C315.0,733.7 318.9,733.5 325.0,733.7C331.1,733.8 331.7,734.0 345.0,734.7C358.3,735.4 390.0,737.0 405.0,737.8C420.0,738.6 425.6,738.7 435.0,739.7C444.4,740.6 452.8,741.9 461.7,743.7C470.6,745.4 481.0,747.9 488.3,750.3C495.7,752.8 501.4,755.4 505.7,758.3C509.9,761.2 511.7,764.3 513.7,767.7C515.7,771.0 516.6,774.6 517.7,778.3C518.8,782.1 520.1,787.4 520.3,790.3C520.6,793.2 519.7,793.9 519.0,795.7C518.3,797.4 516.7,798.8 516.3,801.0C516.0,803.2 518.1,806.8 517.0,809.0C515.9,811.2 514.4,812.8 509.7,814.3C504.9,815.9 496.3,817.2 488.3,818.3C480.3,819.4 470.6,820.4 461.7,821.0C452.8,821.6 444.4,821.7 435.0,821.7C425.6,821.6 420.0,822.5 405.0,820.9C390.0,819.3 358.3,814.2 345.0,812.3C331.7,810.4 331.1,810.5 325.0,809.7C318.9,808.8 313.3,808.1 308.3,807.3C303.3,806.6 299.4,805.8 295.0,805.0C290.6,804.2 285.8,803.3 281.7,802.3C277.6,801.3 273.7,800.1 270.3,799.0C267.0,797.9 264.4,797.0 261.7,795.7C258.9,794.3 255.9,792.8 253.7,791.0C251.4,789.2 249.9,786.7 248.3,785.0C246.8,783.3 246.0,782.8 244.3,781.0C242.7,779.2 239.7,777.1 238.3,774.3C237.0,771.6 236.7,766.6 236.3,764.3C236.0,762.1 236.3,762.7 236.3,761.0Z" fill="#ff7000"/>
<path d="M240.3,764.3C240.3,763.0 240.8,761.3 241.0,759.7C241.2,758.0 240.8,756.1 241.7,754.3C242.6,752.6 245.0,750.3 246.3,749.0C247.7,747.7 248.2,747.2 249.7,746.3C251.1,745.4 251.9,744.4 255.0,743.7C258.1,742.9 264.3,742.3 268.3,741.7C272.3,741.0 275.3,740.2 279.0,739.7C282.7,739.1 284.3,738.6 290.3,738.3C296.3,738.1 309.2,738.3 315.0,738.3C320.8,738.4 320.0,738.5 325.0,738.7C330.0,738.8 331.7,738.6 345.0,739.3C358.3,740.0 390.0,741.7 405.0,742.9C420.0,744.1 426.7,745.0 435.0,746.3C443.3,747.7 448.3,749.2 455.0,751.0C461.7,752.8 469.4,754.7 475.0,757.0C480.6,759.3 485.0,762.6 488.3,765.0C491.7,767.4 493.4,769.4 495.0,771.7C496.6,773.9 497.6,776.1 497.7,778.3C497.8,780.6 495.7,782.6 495.7,785.0C495.7,787.4 498.2,790.6 497.7,793.0C497.1,795.4 495.0,797.6 492.3,799.7C489.7,801.8 486.8,804.0 481.7,805.7C476.6,807.3 469.4,808.8 461.7,809.7C453.9,810.6 444.4,810.8 435.0,811.0C425.6,811.2 420.0,811.7 405.0,810.7C390.0,809.7 358.3,806.4 345.0,805.0C331.7,803.6 331.1,803.2 325.0,802.3C318.9,801.4 313.3,800.6 308.3,799.7C303.3,798.8 299.4,798.0 295.0,797.0C290.6,796.0 286.1,794.9 281.7,793.7C277.2,792.4 272.3,791.1 268.3,789.7C264.3,788.2 260.3,786.4 257.7,785.0C255.0,783.6 254.7,782.4 252.3,781.0C250.0,779.6 245.6,778.6 243.7,776.3C241.8,774.1 241.6,769.7 241.0,767.7C240.4,765.7 240.3,765.7 240.3,764.3Z" fill="#ff4000"/>
<path d="M246.3,765.0C246.6,763.9 246.7,762.6 247.7,761.0C248.7,759.4 250.6,757.2 252.3,755.7C254.1,754.1 255.9,753.0 258.3,751.7C260.8,750.3 263.6,748.8 267.0,747.7C270.4,746.6 275.2,745.6 279.0,745.0C282.8,744.4 285.3,744.3 289.7,744.0C294.0,743.7 299.1,743.2 305.0,743.0C310.9,742.8 318.3,742.6 325.0,742.7C331.7,742.7 331.7,742.5 345.0,743.4C358.3,744.3 390.0,746.3 405.0,748.0C420.0,749.7 427.8,751.9 435.0,753.7C442.2,755.4 443.9,756.4 448.3,758.3C452.8,760.2 458.1,763.0 461.7,765.0C465.2,767.0 467.9,768.6 469.7,770.3C471.4,772.1 472.1,773.9 472.3,775.7C472.6,777.4 471.9,779.0 471.0,781.0C470.1,783.0 469.7,785.4 467.0,787.7C464.3,789.9 459.2,792.4 455.0,794.3C450.8,796.2 445.0,798.1 441.7,799.0C438.3,799.9 441.1,799.2 435.0,799.7C428.9,800.1 420.0,801.9 405.0,801.6C390.0,801.3 358.3,799.2 345.0,798.0C331.7,796.8 330.0,795.4 325.0,794.7C320.0,793.9 318.9,793.9 315.0,793.3C311.1,792.7 306.1,791.8 301.7,791.0C297.2,790.2 292.8,789.3 288.3,788.3C283.9,787.3 279.2,786.2 275.0,785.0C270.8,783.8 267.2,782.8 263.0,781.0C258.8,779.2 252.4,776.6 249.7,774.3C246.9,772.1 246.9,769.2 246.3,767.7C245.8,766.1 246.1,766.1 246.3,765.0Z" fill="#ff1000"/>
<path d="M254.3,767.7C254.6,765.9 256.2,762.7 257.7,761.0C259.1,759.3 260.7,758.9 263.0,757.7C265.3,756.4 268.6,754.8 271.7,753.7C274.8,752.6 277.8,751.8 281.7,751.0C285.6,750.2 289.8,749.6 295.0,749.0C300.2,748.4 308.0,747.9 313.0,747.7C318.0,747.4 319.7,747.5 325.0,747.7C330.3,747.8 331.7,747.4 345.0,748.5C358.3,749.6 390.0,751.7 405.0,754.0C420.0,756.3 429.1,760.3 435.0,762.3C440.9,764.4 438.9,764.8 440.3,766.3C441.8,767.9 443.4,769.9 443.7,771.7C443.9,773.4 443.1,775.3 441.7,777.0C440.2,778.7 441.1,779.4 435.0,781.7C428.9,783.9 420.0,789.2 405.0,790.3C390.0,791.4 358.3,788.8 345.0,788.3C331.7,787.8 330.0,787.7 325.0,787.3C320.0,787.0 318.9,786.6 315.0,786.0C311.1,785.4 306.1,784.5 301.7,783.7C297.2,782.8 291.7,781.4 288.3,781.0C285.0,780.6 284.4,781.4 281.7,781.0C278.9,780.6 275.0,779.3 271.7,778.3C268.3,777.3 264.2,776.1 261.7,775.0C259.1,773.9 257.6,772.9 256.3,771.7C255.1,770.4 254.1,769.4 254.3,767.7Z" fill="#df0000"/>
<path d="M270.3,767.7C270.6,766.5 273.1,764.9 275.0,763.7C276.9,762.4 278.9,761.4 281.7,760.3C284.4,759.2 288.3,757.9 291.7,757.0C295.0,756.1 297.8,755.6 301.7,755.0C305.6,754.4 311.1,753.9 315.0,753.7C318.9,753.4 320.0,753.4 325.0,753.7C330.0,753.9 336.7,754.4 345.0,755.1C353.3,755.8 365.8,756.7 375.0,758.0C384.2,759.3 395.3,760.7 400.0,763.0C404.7,765.3 405.5,769.8 403.0,772.0C400.5,774.2 394.7,774.7 385.0,776.0C375.3,777.3 355.0,779.1 345.0,779.6C335.0,780.1 331.1,779.3 325.0,779.0C318.9,778.7 313.3,778.2 308.3,777.7C303.3,777.2 299.4,776.7 295.0,776.0C290.6,775.3 285.2,774.2 281.7,773.3C278.1,772.4 275.6,771.6 273.7,770.7C271.8,769.7 270.1,768.8 270.3,767.7Z" fill="#af0000"/>
</g>
<path d="M216.5,701.5 H653.5 V1133.5 H216.5 Z M216.0,702.5 H654.0" fill="none" stroke="#000" stroke-width="1" shape-rendering="crispEdges"/>
<path d="M215.5,699.0 V1135.5 H656.0" fill="none" stroke="#000" stroke-width="1" shape-rendering="crispEdges"/>
<path d="M215.5,1135.5 v-4M288.5,1135.5 v-4M362.5,1135.5 v-4M436.5,1135.5 v-4M509.5,1135.5 v-4M582.5,1135.5 v-4" stroke="#000" stroke-width="1" fill="none"/>
<g font-family="'Liberation Sans', Arial, Helvetica, sans-serif" font-size="21.5px" fill="#000">
<text x="215.5" y="1166.0" text-anchor="middle">0</text>
<text x="289.0" y="1166.0" text-anchor="middle">10</text>
<text x="362.5" y="1166.0" text-anchor="middle">20</text>
<text x="436.0" y="1166.0" text-anchor="middle">30</text>
<text x="509.5" y="1166.0" text-anchor="middle">40</text>
<text x="583.0" y="1166.0" text-anchor="middle">50</text>
<text x="208.0" y="1143.5" text-anchor="end">15</text>
<text x="208.0" y="1089.1" text-anchor="end">20</text>
<text x="208.0" y="1034.8" text-anchor="end">25</text>
<text x="208.0" y="980.4" text-anchor="end">30</text>
<text x="208.0" y="926.0" text-anchor="end">35</text>
<text x="208.0" y="871.6" text-anchor="end">40</text>
<text x="208.0" y="817.2" text-anchor="end">45</text>
<text x="208.0" y="762.9" text-anchor="end">50</text>
</g>
<g font-family="'Liberation Sans', Arial, Helvetica, sans-serif" font-size="22px" fill="#000">
<text x="434.5" y="1198.0" text-anchor="middle">LONGITUDE (E)</text>
<text transform="translate(170.5,920.0) rotate(-90)" text-anchor="middle">LATITUDE (N)</text>
<text x="433.6" y="681.0" text-anchor="middle" textLength="600.3" lengthAdjust="spacingAndGlyphs">expt_96.0 - MEAN (MEAN y51-y100) - THICKNESS LAYER 8</text>
</g>
<g shape-rendering="crispEdges">
<rect x="687.5" y="1130.20" width="42.0" height="7.10" fill="#00008f"/>
<rect x="687.5" y="1123.41" width="42.0" height="7.10" fill="#00009f"/>
<rect x="687.5" y="1116.61" width="42.0" height="7.10" fill="#0000af"/>
<rect x="687.5" y="1109.81" width="42.0" height="7.10" fill="#0000bf"/>
<rect x="687.5" y="1103.02" width="42.0" height="7.10" fill="#0000cf"/>
<rect x="687.5" y="1096.22" width="42.0" height="7.10" fill="#0000df"/>
<rect x="687.5" y="1089.42" width="42.0" height="7.10" fill="#0000ef"/>
<rect x="687.5" y="1082.62" width="42.0" height="7.10" fill="#0000ff"/>
<rect x="687.5" y="1075.83" width="42.0" height="7.10" fill="#0010ff"/>
<rect x="687.5" y="1069.03" width="42.0" height="7.10" fill="#0020ff"/>
<rect x="687.5" y="1062.23" width="42.0" height="7.10" fill="#0030ff"/>
<rect x="687.5" y="1055.44" width="42.0" height="7.10" fill="#0040ff"/>
<rect x="687.5" y="1048.64" width="42.0" height="7.10" fill="#0050ff"/>
<rect x="687.5" y="1041.84" width="42.0" height="7.10" fill="#0060ff"/>
<rect x="687.5" y="1035.05" width="42.0" height="7.10" fill="#0070ff"/>
<rect x="687.5" y="1028.25" width="42.0" height="7.10" fill="#0080ff"/>
<rect x="687.5" y="1021.45" width="42.0" height="7.10" fill="#008fff"/>
<rect x="687.5" y="1014.66" width="42.0" height="7.10" fill="#009fff"/>
<rect x="687.5" y="1007.86" width="42.0" height="7.10" fill="#00afff"/>
<rect x="687.5" y="1001.06" width="42.0" height="7.10" fill="#00bfff"/>
<rect x="687.5" y="994.27" width="42.0" height="7.10" fill="#00cfff"/>
<rect x="687.5" y="987.47" width="42.0" height="7.10" fill="#00dfff"/>
<rect x="687.5" y="980.67" width="42.0" height="7.10" fill="#00efff"/>
<rect x="687.5" y="973.88" width="42.0" height="7.10" fill="#00ffff"/>
<rect x="687.5" y="967.08" width="42.0" height="7.10" fill="#10ffef"/>
<rect x="687.5" y="960.28" width="42.0" height="7.10" fill="#20ffdf"/>
<rect x="687.5" y="953.48" width="42.0" height="7.10" fill="#30ffcf"/>
<rect x="687.5" y="946.69" width="42.0" height="7.10" fill="#40ffbf"/>
<rect x="687.5" y="939.89" width="42.0" height="7.10" fill="#50ffaf"/>
<rect x="687.5" y="933.09" width="42.0" height="7.10" fill="#60ff9f"/>
<rect x="687.5" y="926.30" width="42.0" height="7.10" fill="#70ff8f"/>
<rect x="687.5" y="919.50" width="42.0" height="7.10" fill="#80ff80"/>
<rect x="687.5" y="912.70" width="42.0" height="7.10" fill="#8fff70"/>
<rect x="687.5" y="905.91" width="42.0" height="7.10" fill="#9fff60"/>
<rect x="687.5" y="899.11" width="42.0" height="7.10" fill="#afff50"/>
<rect x="687.5" y="892.31" width="42.0" height="7.10" fill="#bfff40"/>
<rect x="687.5" y="885.52" width="42.0" height="7.10" fill="#cfff30"/>
<rect x="687.5" y="878.72" width="42.0" height="7.10" fill="#dfff20"/>
<rect x="687.5" y="871.92" width="42.0" height="7.10" fill="#efff10"/>
<rect x="687.5" y="865.12" width="42.0" height="7.10" fill="#ffff00"/>
<rect x="687.5" y="858.33" width="42.0" height="7.10" fill="#ffef00"/>
<rect x="687.5" y="851.53" width="42.0" height="7.10" fill="#ffdf00"/>
<rect x="687.5" y="844.73" width="42.0" height="7.10" fill="#ffcf00"/>
<rect x="687.5" y="837.94" width="42.0" height="7.10" fill="#ffbf00"/>
<rect x="687.5" y="831.14" width="42.0" height="7.10" fill="#ffaf00"/>
<rect x="687.5" y="824.34" width="42.0" height="7.10" fill="#ff9f00"/>
<rect x="687.5" y="817.55" width="42.0" height="7.10" fill="#ff8f00"/>
<rect x="687.5" y="810.75" width="42.0" height="7.10" fill="#ff8000"/>
<rect x="687.5" y="803.95" width="42.0" height="7.10" fill="#ff7000"/>
<rect x="687.5" y="797.16" width="42.0" height="7.10" fill="#ff6000"/>
<rect x="687.5" y="790.36" width="42.0" height="7.10" fill="#ff5000"/>
<rect x="687.5" y="783.56" width="42.0" height="7.10" fill="#ff4000"/>
<rect x="687.5" y="776.77" width="42.0" height="7.10" fill="#ff3000"/>
<rect x="687.5" y="769.97" width="42.0" height="7.10" fill="#ff2000"/>
<rect x="687.5" y="763.17" width="42.0" height="7.10" fill="#ff1000"/>
<rect x="687.5" y="756.38" width="42.0" height="7.10" fill="#ff0000"/>
<rect x="687.5" y="749.58" width="42.0" height="7.10" fill="#ef0000"/>
<rect x="687.5" y="742.78" width="42.0" height="7.10" fill="#df0000"/>
<rect x="687.5" y="735.98" width="42.0" height="7.10" fill="#cf0000"/>
<rect x="687.5" y="729.19" width="42.0" height="7.10" fill="#bf0000"/>
<rect x="687.5" y="722.39" width="42.0" height="7.10" fill="#af0000"/>
<rect x="687.5" y="715.59" width="42.0" height="7.10" fill="#9f0000"/>
<rect x="687.5" y="708.80" width="42.0" height="7.10" fill="#8f0000"/>
<rect x="687.5" y="702.00" width="42.0" height="7.10" fill="#800000"/>
</g>
<rect x="687.5" y="701.5" width="42" height="436" fill="none" stroke="#000" stroke-width="1"/>
<g font-family="'Liberation Sans', Arial, Helvetica, sans-serif" font-size="21.5px" fill="#000">
<text x="735.0" y="769.9">360</text>
<text x="735.0" y="862.9">340</text>
<text x="735.0" y="955.9">320</text>
<text x="735.0" y="1048.9">300</text>
<text x="735.0" y="1141.9">280</text>
</g>
<path d="M688.0,759.5 h4M729.0,759.5 h-4M688.0,852.5 h4M729.0,852.5 h-4M688.0,945.5 h4M729.0,945.5 h-4M688.0,1038.5 h4M729.0,1038.5 h-4M688.0,1131.5 h4M729.0,1131.5 h-4" stroke="#000" stroke-width="1" fill="none"/>
</g>
<g id="p4">
<clipPath id="clip3"><rect x="942.5" y="701.5" width="437.0" height="432.0"/></clipPath>
<g clip-path="url(#clip3)" stroke="#000" stroke-width="1" stroke-linejoin="round" shape-rendering="crispEdges">
<rect x="941.5" y="700.5" width="439.0" height="434.0" fill="#20ffdf" stroke="none"/>
<path d="M933.0,941.0C935.0,909.3 942.7,941.7 945.0,941.0C947.3,940.3 946.3,939.2 947.0,937.0C947.7,934.8 947.8,930.1 949.0,927.7C950.2,925.2 952.3,923.9 954.3,922.3C956.3,920.8 957.7,919.4 961.0,918.3C964.3,917.2 970.6,917.0 974.3,915.7C978.1,914.3 981.8,912.1 983.7,910.3C985.6,908.6 986.6,906.8 985.7,905.0C984.8,903.2 980.4,901.4 978.3,899.7C976.2,897.9 975.2,895.7 973.0,894.3C970.8,893.0 966.4,892.7 965.0,891.7C963.6,890.7 964.1,889.7 964.3,888.3C964.6,887.0 964.7,884.9 966.3,883.7C968.0,882.4 969.7,881.6 974.3,881.0C979.0,880.4 986.6,880.4 994.3,880.3C1002.1,880.3 1010.6,880.4 1021.0,880.7C1031.4,881.1 1045.9,882.4 1057.0,882.6C1068.1,882.8 1075.9,882.3 1087.7,881.7C1099.4,881.1 1115.4,880.0 1127.7,879.0C1139.9,878.0 1149.9,876.2 1161.0,875.7C1172.1,875.2 1183.2,876.6 1194.3,876.0C1205.4,875.4 1218.8,873.3 1227.7,872.0C1236.6,870.7 1241.0,869.2 1247.7,868.0C1254.3,866.8 1262.3,865.2 1267.7,864.7C1273.0,864.1 1276.9,864.1 1279.7,864.7C1282.4,865.2 1283.3,866.6 1284.3,868.0C1285.3,869.4 1285.7,870.2 1285.7,873.3C1285.7,876.4 1284.0,884.1 1284.3,886.7C1284.6,889.3 1285.3,887.4 1287.5,888.9C1289.6,890.4 1294.3,893.5 1297.2,895.7C1300.1,898.0 1303.2,900.8 1305.0,902.5C1306.8,904.3 1307.6,904.8 1307.9,906.4C1308.2,908.0 1308.7,910.2 1306.9,912.3C1305.1,914.4 1301.2,916.8 1297.2,919.1C1293.1,921.3 1286.6,923.9 1282.6,925.9C1278.5,927.8 1275.3,929.1 1272.9,930.7C1270.4,932.4 1269.6,934.0 1268.0,935.6C1266.4,937.2 1265.6,938.7 1263.1,940.5C1260.7,942.3 1256.7,944.4 1253.4,946.3C1250.2,948.3 1246.9,950.4 1243.7,952.1C1240.4,953.9 1237.2,955.2 1234.0,957.0C1230.7,958.8 1226.9,961.4 1224.2,962.8C1221.5,964.3 1220.1,964.7 1217.7,966.0C1215.3,967.3 1212.6,968.9 1209.6,970.6C1206.7,972.4 1203.2,974.6 1199.9,976.5C1196.7,978.3 1193.4,980.1 1190.2,981.8C1186.9,983.5 1183.7,985.2 1180.5,986.7C1177.2,988.1 1174.0,989.4 1170.7,990.6C1167.5,991.7 1166.0,991.7 1161.0,993.6C1156.0,995.5 1146.6,999.7 1141.0,1002.0C1135.4,1004.3 1132.1,1005.1 1127.7,1007.3C1123.2,1009.6 1118.8,1012.2 1114.3,1015.3C1109.9,1018.4 1104.8,1022.7 1101.0,1026.0C1097.2,1029.3 1093.9,1032.0 1091.7,1035.3C1089.4,1038.7 1089.4,1042.0 1087.7,1046.0C1085.9,1050.0 1084.3,1054.9 1081.0,1059.3C1077.7,1063.8 1071.4,1069.1 1067.7,1072.7C1063.9,1076.2 1061.0,1077.8 1058.3,1080.7C1055.7,1083.6 1054.6,1087.4 1051.7,1090.0C1048.8,1092.6 1046.1,1094.2 1041.0,1096.0C1035.9,1097.8 1027.7,1099.6 1021.0,1100.7C1014.3,1101.8 1005.0,1101.0 1001.0,1102.7C997.0,1104.3 995.9,1108.6 997.0,1110.7C998.1,1112.8 1004.1,1113.9 1007.7,1115.3C1011.2,1116.8 1017.9,1117.9 1018.3,1119.3C1018.8,1120.8 1014.3,1122.9 1010.3,1124.0C1006.3,1125.1 1000.3,1125.3 994.3,1126.0C988.3,1126.7 981.0,1127.7 974.3,1128.0C967.7,1128.3 958.4,1127.7 954.3,1128.0C950.2,1128.3 953.2,1129.4 949.7,1130.0C946.1,1130.6 935.8,1162.8 933.0,1131.3C930.2,1099.8 931.0,972.7 933.0,941.0Z" fill="#00efff"/>
<path d="M1322.3,737.0C1322.3,733.0 1323.0,726.6 1325.0,722.3C1327.0,718.1 1330.6,714.6 1334.3,711.7C1338.1,708.8 1344.8,706.6 1347.7,705.0C1350.6,703.4 1348.1,702.8 1351.7,702.3C1355.2,701.9 1364.3,702.1 1369.0,702.3C1373.7,702.6 1377.9,700.6 1379.7,703.7C1381.4,706.8 1380.1,717.8 1379.7,721.0C1379.2,724.2 1378.6,721.2 1377.0,723.0C1375.4,724.8 1373.0,728.7 1370.3,731.7C1367.7,734.7 1364.8,738.4 1361.0,741.0C1357.2,743.6 1350.3,746.2 1347.7,747.0C1345.0,747.8 1347.0,744.6 1345.0,745.7C1343.0,746.8 1338.1,752.6 1335.7,753.7C1333.2,754.8 1332.1,753.6 1330.3,752.3C1328.6,751.1 1326.3,748.9 1325.0,746.3C1323.7,743.8 1322.3,741.0 1322.3,737.0Z" fill="#00efff"/>
<path d="M1390.3,717.0C1388.6,672.2 1381.9,719.7 1379.7,723.7C1377.4,727.7 1377.4,722.6 1377.0,741.0C1376.6,759.4 1377.4,815.4 1377.0,834.3C1376.6,853.2 1375.2,848.2 1374.3,854.3C1373.4,860.4 1372.2,867.4 1371.7,871.0C1371.1,874.6 1371.6,871.8 1371.0,876.0C1370.4,880.2 1369.3,889.3 1368.3,896.0C1367.3,902.7 1365.8,910.4 1365.0,916.0C1364.2,921.6 1364.6,924.9 1363.7,929.3C1362.8,933.8 1360.8,938.2 1359.7,942.7C1358.6,947.1 1358.1,952.1 1357.0,956.0C1355.9,959.9 1354.1,962.1 1353.0,966.0C1351.9,969.9 1351.4,972.7 1350.3,979.3C1349.2,986.0 1347.7,997.1 1346.3,1006.0C1345.0,1014.9 1343.4,1024.9 1342.3,1032.7C1341.2,1040.4 1340.6,1046.4 1339.7,1052.7C1338.8,1058.9 1338.3,1065.1 1337.0,1070.0C1335.7,1074.9 1333.7,1078.2 1331.7,1082.0C1329.7,1085.8 1326.8,1089.1 1325.0,1092.7C1323.2,1096.2 1322.3,1100.0 1321.0,1103.3C1319.7,1106.7 1317.8,1110.2 1317.0,1112.7C1316.2,1115.1 1315.7,1116.2 1316.3,1118.0C1317.0,1119.8 1318.9,1121.7 1321.0,1123.3C1323.1,1125.0 1324.6,1127.2 1329.0,1128.0C1333.4,1128.8 1341.7,1128.4 1347.7,1128.0C1353.7,1127.6 1360.6,1127.0 1365.0,1125.3C1369.4,1123.7 1372.4,1120.1 1374.3,1118.0C1376.2,1115.9 1375.9,1120.2 1376.3,1112.7C1376.8,1105.1 1376.8,1087.8 1377.0,1072.7C1377.2,1057.6 1377.2,1034.2 1377.7,1022.0C1378.1,1009.8 1377.6,1004.2 1379.7,999.3C1381.8,994.4 1388.6,1039.7 1390.3,992.7C1392.1,945.6 1392.1,761.8 1390.3,717.0Z" fill="#00efff"/>
<path d="M1035.7,899.7C1036.3,898.6 1038.1,896.7 1042.3,895.7C1046.6,894.7 1053.4,894.2 1061.0,893.7C1068.6,893.1 1078.8,892.8 1087.7,892.3C1096.6,891.9 1105.4,891.4 1114.3,891.0C1123.2,890.6 1133.2,889.9 1141.0,889.7C1148.8,889.4 1152.1,889.6 1161.0,889.3C1169.9,889.1 1183.2,888.4 1194.3,888.0C1205.4,887.6 1218.8,886.9 1227.7,886.7C1236.6,886.4 1243.2,886.2 1247.7,886.7C1252.1,887.1 1251.0,887.8 1254.3,889.3C1257.7,890.9 1263.9,894.2 1267.7,896.0C1271.4,897.8 1274.7,898.4 1277.0,900.0C1279.3,901.6 1281.4,903.6 1281.7,905.3C1281.9,907.1 1280.7,909.3 1278.3,910.7C1276.0,912.0 1272.8,912.3 1267.7,913.3C1262.6,914.3 1253.9,916.7 1247.7,916.7C1241.4,916.7 1234.1,913.7 1230.3,913.3C1226.6,913.0 1229.9,914.3 1225.0,914.7C1220.1,915.0 1208.3,915.3 1201.0,915.3C1193.7,915.3 1184.8,915.0 1181.0,914.7C1177.2,914.3 1181.7,913.8 1178.3,913.3C1175.0,912.9 1167.2,912.2 1161.0,912.0C1154.8,911.8 1148.8,912.6 1141.0,912.3C1133.2,912.1 1123.2,911.0 1114.3,910.3C1105.4,909.7 1095.4,908.9 1087.7,908.3C1079.9,907.8 1074.3,907.6 1067.7,907.0C1061.0,906.4 1052.6,905.8 1047.7,905.0C1042.8,904.2 1040.3,903.2 1038.3,902.3C1036.3,901.4 1035.0,900.8 1035.7,899.7Z" fill="#00bfff"/>
<path d="M937.0,949.0C938.8,924.8 942.2,949.8 943.7,949.0C945.1,948.2 945.0,945.6 945.7,944.3C946.3,943.1 946.6,942.2 947.7,941.7C948.8,941.1 951.1,941.9 952.3,941.0C953.6,940.1 954.4,938.0 955.3,936.3C956.2,934.7 956.7,932.5 957.7,931.0C958.6,929.5 958.8,928.2 961.0,927.3C963.2,926.5 967.7,926.8 971.0,926.0C974.3,925.2 977.1,923.2 981.0,922.3C984.9,921.5 989.9,921.1 994.3,921.0C998.8,920.9 1001.0,921.2 1007.7,921.7C1014.3,922.1 1024.3,923.0 1034.3,923.7C1044.3,924.3 1056.6,925.4 1067.7,925.7C1078.8,925.9 1091.0,925.3 1101.0,925.0C1111.0,924.7 1117.7,924.3 1127.7,923.7C1137.7,923.0 1153.2,921.2 1161.0,921.0C1168.8,920.8 1165.4,922.6 1174.3,922.7C1183.2,922.7 1203.2,921.6 1214.3,921.3C1225.4,921.1 1235.6,920.4 1241.0,921.3C1246.4,922.3 1245.3,925.0 1246.6,926.9C1247.9,928.7 1248.7,930.7 1249.0,932.7C1249.4,934.6 1249.4,936.7 1248.5,938.5C1247.7,940.3 1246.1,941.8 1243.7,943.4C1241.3,945.0 1237.2,946.6 1234.0,948.3C1230.7,949.9 1227.5,951.3 1224.2,953.1C1221.0,954.9 1217.9,956.8 1214.5,959.0C1211.1,961.1 1206.8,964.0 1203.6,966.0C1200.4,967.9 1198.1,969.0 1195.0,970.6C1192.0,972.2 1188.6,974.0 1185.3,975.5C1182.1,977.0 1179.6,978.0 1175.6,979.9C1171.5,981.7 1166.8,983.9 1161.0,986.5C1155.2,989.1 1147.7,992.7 1141.0,995.3C1134.3,997.9 1127.7,999.6 1121.0,1002.0C1114.3,1004.4 1106.6,1007.1 1101.0,1010.0C1095.4,1012.9 1092.1,1016.0 1087.7,1019.3C1083.2,1022.7 1078.8,1026.9 1074.3,1030.0C1069.9,1033.1 1065.4,1035.6 1061.0,1038.0C1056.6,1040.4 1051.0,1042.7 1047.7,1044.7C1044.3,1046.7 1045.4,1048.1 1041.0,1050.0C1036.6,1051.9 1027.7,1054.7 1021.0,1056.3C1014.3,1057.8 1007.7,1058.0 1001.0,1059.3C994.3,1060.6 987.0,1062.0 981.0,1064.0C975.0,1066.0 968.6,1069.4 965.0,1071.3C961.4,1073.2 960.4,1072.3 959.7,1075.3C958.9,1078.3 961.4,1085.7 960.3,1089.3C959.2,1093.0 955.4,1096.6 953.0,1097.3C950.6,1098.1 949.0,1094.6 945.7,1094.0C942.3,1093.4 934.4,1118.2 933.0,1094.0C931.6,1069.8 935.2,973.2 937.0,949.0Z" fill="#00bfff"/>
<path d="M937.0,955.7C938.9,941.5 943.1,956.1 944.7,955.7C946.2,955.2 945.5,953.7 946.3,953.0C947.2,952.3 948.7,951.4 949.7,951.3C950.7,951.2 951.1,952.4 952.3,952.3C953.6,952.3 956.3,952.3 957.3,951.0C958.3,949.7 957.7,946.6 958.3,944.3C958.9,942.1 959.7,939.2 961.0,937.7C962.3,936.1 964.1,935.8 966.3,935.0C968.6,934.2 972.3,933.7 974.3,933.0C976.3,932.3 976.8,931.6 978.3,931.0C979.9,930.4 981.0,929.8 983.7,929.3C986.3,928.9 990.9,928.4 994.3,928.3C997.8,928.2 1001.0,928.3 1004.3,928.7C1007.7,929.0 1009.6,929.9 1014.3,930.3C1019.1,930.8 1026.9,931.2 1033.0,931.3C1039.1,931.5 1044.1,931.1 1051.0,931.3C1057.9,931.6 1066.0,932.6 1074.3,933.0C1082.7,933.4 1092.1,933.7 1101.0,933.7C1109.9,933.7 1117.7,933.3 1127.7,933.0C1137.7,932.7 1152.1,931.4 1161.0,931.7C1169.9,931.9 1176.1,934.2 1181.0,934.7C1185.9,935.2 1186.2,934.4 1190.2,934.6C1194.1,934.9 1201.2,935.4 1204.8,936.1C1208.3,936.7 1210.1,937.5 1211.6,938.5C1213.0,939.6 1213.5,940.8 1213.5,942.4C1213.5,944.0 1213.0,946.3 1211.6,948.3C1210.1,950.2 1207.5,952.0 1204.8,954.1C1202.0,956.2 1197.7,958.9 1195.0,960.9C1192.4,962.9 1191.9,964.2 1188.6,966.0C1185.4,967.7 1180.2,969.6 1175.6,971.6C1171.0,973.6 1166.8,975.0 1161.0,977.8C1155.2,980.7 1147.7,985.9 1141.0,988.7C1134.3,991.5 1127.7,992.4 1121.0,994.7C1114.3,996.9 1107.7,999.2 1101.0,1002.0C1094.3,1004.8 1086.6,1008.4 1081.0,1011.3C1075.4,1014.2 1072.1,1016.9 1067.7,1019.3C1063.2,1021.8 1058.8,1024.0 1054.3,1026.0C1049.9,1028.0 1046.6,1029.7 1041.0,1031.3C1035.4,1033.0 1026.1,1034.7 1021.0,1035.7C1015.9,1036.7 1014.8,1036.8 1010.3,1037.3C1005.9,1037.8 1000.3,1038.3 994.3,1038.7C988.3,1039.0 979.9,1038.9 974.3,1039.3C968.8,1039.8 964.6,1040.4 961.0,1041.5C957.4,1042.6 955.0,1045.0 953.0,1046.0C951.0,1047.0 950.3,1048.2 949.0,1047.3C947.7,1046.4 947.7,1041.8 945.0,1040.7C942.3,1039.6 934.3,1054.8 933.0,1040.7C931.7,1026.5 935.1,969.8 937.0,955.7Z" fill="#008fff"/>
<path d="M937.0,963.7C939.0,952.6 943.2,964.2 945.0,963.7C946.8,963.1 946.7,961.1 947.7,960.3C948.7,959.6 949.9,959.0 951.0,959.3C952.1,959.7 953.2,961.2 954.3,962.3C955.4,963.5 956.7,965.6 957.7,966.3C958.7,967.1 959.4,967.3 960.3,967.0C961.2,966.7 962.4,966.1 963.0,964.3C963.6,962.6 963.1,958.7 963.7,956.3C964.2,954.0 964.8,951.9 966.3,950.3C967.9,948.8 971.4,948.1 973.0,947.0C974.6,945.9 974.8,944.8 975.7,943.7C976.6,942.6 977.0,941.3 978.3,940.3C979.7,939.3 980.4,938.3 983.7,937.7C986.9,937.0 993.1,936.4 997.7,936.3C1002.2,936.3 1002.1,937.2 1011.0,937.3C1019.9,937.5 1040.4,936.8 1051.0,937.3C1061.6,937.8 1066.0,939.6 1074.3,940.3C1082.7,941.1 1092.1,941.3 1101.0,941.7C1109.9,942.0 1117.7,942.2 1127.7,942.3C1137.7,942.4 1153.8,941.8 1161.0,942.3C1168.2,942.8 1167.8,944.4 1170.7,945.3C1173.6,946.3 1176.6,947.1 1178.5,948.3C1180.4,949.4 1181.8,950.7 1181.9,952.1C1182.1,953.6 1181.3,955.2 1179.5,957.0C1177.6,958.8 1173.8,961.0 1170.7,962.8C1167.6,964.7 1166.0,965.9 1161.0,968.2C1156.0,970.5 1147.7,973.7 1141.0,976.7C1134.3,979.6 1127.7,982.9 1121.0,986.0C1114.3,989.1 1107.7,992.2 1101.0,995.3C1094.3,998.4 1087.7,1001.6 1081.0,1004.7C1074.3,1007.8 1067.7,1011.1 1061.0,1014.0C1054.3,1016.9 1047.7,1020.0 1041.0,1022.0C1034.3,1024.0 1027.7,1025.0 1021.0,1026.1C1014.3,1027.2 1008.8,1028.1 1001.0,1028.7C993.2,1029.2 981.0,1028.9 974.3,1029.3C967.7,1029.8 964.6,1030.6 961.0,1031.2C957.4,1031.8 955.6,1032.9 953.0,1032.7C950.4,1032.5 949.0,1030.4 945.7,1030.0C942.3,1029.6 934.4,1041.1 933.0,1030.0C931.6,1018.9 935.0,974.7 937.0,963.7Z" fill="#0050ff"/>
<path d="M937.0,970.3C939.1,961.6 943.7,970.9 945.7,970.3C947.7,969.8 948.0,967.6 949.0,967.0C950.0,966.4 950.6,966.4 951.7,967.0C952.8,967.6 954.3,969.3 955.7,970.3C957.0,971.3 958.2,972.6 959.7,973.0C961.1,973.4 962.8,973.7 964.3,973.0C965.9,972.3 967.3,970.8 969.0,969.0C970.7,967.2 972.6,964.3 974.3,962.3C976.1,960.3 978.3,958.8 979.7,957.0C981.0,955.2 981.2,953.4 982.3,951.7C983.4,949.9 985.2,947.4 986.3,946.3C987.4,945.2 986.6,945.3 989.0,945.0C991.4,944.7 990.7,944.4 1001.0,944.3C1011.3,944.2 1038.8,944.3 1051.0,944.3C1063.2,944.3 1066.0,944.1 1074.3,944.3C1082.7,944.6 1092.1,944.9 1101.0,945.7C1109.9,946.4 1119.0,947.6 1127.7,949.0C1136.3,950.4 1150.8,952.6 1153.0,954.3C1155.2,956.1 1144.1,957.7 1141.0,959.7C1137.9,961.6 1138.8,963.3 1134.3,965.9C1129.9,968.5 1121.0,972.0 1114.3,975.3C1107.7,978.7 1101.0,982.4 1094.3,986.0C1087.7,989.6 1079.9,993.8 1074.3,996.7C1068.8,999.6 1065.4,1001.1 1061.0,1003.3C1056.6,1005.6 1054.3,1007.6 1047.7,1010.0C1041.0,1012.4 1027.7,1016.2 1021.0,1017.9C1014.3,1019.5 1013.2,1019.6 1007.7,1020.0C1002.1,1020.4 993.2,1019.7 987.7,1020.0C982.1,1020.3 978.8,1021.4 974.3,1022.0C969.9,1022.6 964.6,1023.2 961.0,1023.6C957.4,1024.0 955.6,1024.8 953.0,1024.7C950.4,1024.5 949.0,1023.0 945.7,1022.7C942.3,1022.3 934.4,1031.4 933.0,1022.7C931.6,1013.9 934.9,979.1 937.0,970.3Z" fill="#0020ff"/>
<path d="M937.0,976.3C939.2,969.7 944.4,976.8 946.3,976.3C948.2,975.9 947.3,974.2 948.3,973.7C949.3,973.2 951.0,972.9 952.3,973.3C953.7,973.8 954.9,975.5 956.3,976.3C957.8,977.2 959.6,978.1 961.0,978.3C962.4,978.6 963.3,978.4 965.0,977.7C966.7,976.9 969.2,974.7 971.0,973.7C972.8,972.7 973.6,972.3 975.7,971.7C977.8,971.0 981.7,971.2 983.7,969.7C985.7,968.1 986.6,964.4 987.7,962.3C988.8,960.2 989.2,958.3 990.3,957.0C991.4,955.7 992.8,955.0 994.3,954.3C995.9,953.7 997.4,953.3 999.7,953.0C1001.9,952.7 999.1,952.6 1007.7,952.3C1016.2,952.1 1042.1,951.8 1051.0,951.7C1059.9,951.6 1054.9,951.6 1061.0,951.7C1067.1,951.8 1081.7,950.8 1087.7,952.3C1093.7,953.9 1097.0,958.4 1097.0,961.0C1097.0,963.6 1090.3,965.7 1087.7,967.7C1085.0,969.7 1084.3,970.5 1081.0,972.9C1077.7,975.3 1072.1,978.5 1067.7,982.0C1063.2,985.5 1058.8,990.7 1054.3,994.0C1049.9,997.3 1046.6,999.4 1041.0,1002.0C1035.4,1004.6 1026.6,1007.7 1021.0,1009.3C1015.4,1011.0 1013.2,1011.6 1007.7,1012.0C1002.1,1012.4 993.2,1011.6 987.7,1012.0C982.1,1012.4 978.8,1013.8 974.3,1014.7C969.9,1015.5 964.6,1016.4 961.0,1016.9C957.4,1017.5 955.4,1018.2 953.0,1018.0C950.6,1017.8 949.7,1016.3 946.3,1016.0C943.0,1015.7 934.6,1022.6 933.0,1016.0C931.4,1009.4 934.8,982.9 937.0,976.3Z" fill="#0000ef"/>
<path d="M937.0,981.0C939.3,976.2 945.0,981.4 947.0,981.0C949.0,980.6 948.0,978.9 949.0,978.3C950.0,977.8 951.7,977.3 953.0,977.7C954.3,978.0 955.7,979.7 957.0,980.3C958.3,981.0 959.4,981.5 961.0,981.7C962.6,981.8 964.7,981.7 966.3,981.3C968.0,981.0 969.4,980.1 971.0,979.7C972.6,979.2 974.0,978.6 975.7,978.7C977.3,978.8 979.2,979.4 981.0,980.3C982.8,981.3 985.1,982.9 986.3,984.3C987.6,985.8 988.3,987.3 988.3,989.0C988.3,990.7 987.3,992.7 986.3,994.3C985.3,996.0 983.7,997.6 982.3,999.0C981.0,1000.4 979.4,1001.8 978.3,1003.0C977.2,1004.2 977.0,1005.5 975.7,1006.0C974.3,1006.5 972.8,1005.3 970.3,1006.0C967.9,1006.7 964.1,1009.3 961.0,1010.3C957.9,1011.3 954.0,1012.0 951.7,1012.0C949.3,1012.0 950.1,1010.3 947.0,1010.0C943.9,1009.7 934.7,1014.8 933.0,1010.0C931.3,1005.2 934.7,985.8 937.0,981.0Z" fill="#0000bf"/>
<path d="M1007.7,971.7C1007.1,970.3 1007.0,968.8 1007.7,967.7C1008.3,966.6 1009.4,965.8 1011.7,965.0C1013.9,964.2 1017.6,963.4 1021.0,963.0C1024.4,962.6 1029.8,962.3 1032.3,962.7C1034.9,963.0 1035.7,963.9 1036.3,965.0C1037.0,966.1 1037.1,967.6 1036.3,969.0C1035.6,970.4 1033.1,972.2 1031.7,973.7C1030.2,975.1 1028.9,976.6 1027.7,977.7C1026.4,978.8 1024.9,978.2 1024.3,980.3C1023.8,982.4 1024.9,988.2 1024.3,990.3C1023.8,992.4 1022.7,991.9 1021.0,993.0C1019.3,994.1 1016.0,996.4 1014.3,996.7C1012.7,996.9 1011.7,995.2 1011.0,994.3C1010.3,993.5 1009.9,992.8 1010.3,991.7C1010.8,990.6 1012.7,988.9 1013.7,987.7C1014.7,986.4 1015.9,985.6 1016.3,984.3C1016.8,983.1 1017.2,981.8 1016.3,980.3C1015.4,978.9 1012.4,977.1 1011.0,975.7C1009.6,974.2 1008.2,973.0 1007.7,971.7Z" fill="#0000bf"/>
<path d="M947.7,987.0C947.9,984.3 948.3,984.8 949.0,984.3C949.7,983.8 950.4,983.8 951.7,984.0C952.9,984.2 954.8,985.1 956.3,985.7C957.9,986.2 959.1,987.2 961.0,987.3C962.9,987.5 965.7,986.8 967.7,986.7C969.7,986.6 971.6,986.3 973.0,986.7C974.4,987.1 975.9,987.8 976.3,989.0C976.8,990.2 976.0,992.4 975.7,993.7C975.3,994.9 975.2,995.3 974.3,996.3C973.4,997.4 972.1,998.7 970.3,1000.0C968.6,1001.3 966.1,1003.0 963.7,1004.0C961.2,1005.0 958.0,1005.8 955.7,1006.0C953.3,1006.2 951.0,1006.2 949.7,1005.3C948.3,1004.4 948.0,1003.7 947.7,1000.7C947.3,997.6 947.4,989.7 947.7,987.0Z" fill="#fff"/>
<path d="M946.3,1114.0C947.0,1113.2 951.0,1113.3 951.7,1114.0C952.3,1114.7 951.0,1117.2 950.3,1118.0C949.7,1118.8 948.3,1119.3 947.7,1118.7C947.0,1118.0 945.7,1114.8 946.3,1114.0Z" fill="#00bfff"/>
<path d="M1161.0,1001.9C1163.7,1000.7 1167.5,1000.0 1170.7,998.8C1174.0,997.7 1177.2,996.4 1180.5,994.9C1183.7,993.5 1186.9,991.9 1190.2,990.1C1193.4,988.3 1196.7,986.2 1199.9,984.2C1203.2,982.3 1206.4,980.4 1209.6,978.4C1212.9,976.5 1215.9,974.7 1219.4,972.6C1222.8,970.5 1227.8,967.6 1230.3,966.0C1232.7,964.3 1231.7,964.2 1234.0,962.8C1236.2,961.5 1240.4,959.8 1243.7,958.0C1246.9,956.2 1250.2,954.1 1253.4,952.1C1256.7,950.2 1260.7,948.1 1263.1,946.3C1265.6,944.5 1265.6,943.2 1268.0,941.4C1270.4,939.7 1274.5,937.6 1277.7,935.6C1281.0,933.7 1284.2,931.6 1287.5,929.8C1290.7,928.0 1293.9,926.5 1297.2,924.9C1300.4,923.3 1303.7,921.8 1306.9,920.0C1310.2,918.3 1314.3,916.3 1316.6,914.2C1319.0,912.1 1320.4,910.0 1321.0,907.4C1321.7,904.8 1321.3,901.1 1320.5,898.6C1319.8,896.2 1319.0,895.3 1316.6,892.8C1314.3,890.4 1308.6,886.4 1306.3,884.0C1304.1,881.6 1303.6,880.2 1303.0,878.7C1302.4,877.1 1302.4,876.4 1303.0,874.7C1303.6,872.9 1305.1,870.0 1306.3,868.0C1307.6,866.0 1308.8,864.1 1310.3,862.7C1311.9,861.2 1312.8,860.4 1315.7,859.3C1318.6,858.2 1322.8,857.3 1327.7,856.0C1332.6,854.7 1341.0,851.8 1345.0,851.3C1349.0,850.9 1350.1,852.1 1351.7,853.3C1353.2,854.6 1353.6,854.9 1354.3,858.7C1355.1,862.4 1355.9,868.7 1356.3,876.0C1356.8,883.3 1357.1,893.8 1357.0,902.7C1356.9,911.6 1357.2,922.7 1355.7,929.3C1354.1,936.0 1349.7,938.2 1347.7,942.7C1345.7,947.1 1345.7,952.1 1343.7,956.0C1341.7,959.9 1337.4,962.1 1335.7,966.0C1333.9,969.9 1334.1,973.8 1333.0,979.3C1331.9,984.9 1330.3,992.7 1329.0,999.3C1327.7,1006.0 1326.1,1012.7 1325.0,1019.3C1323.9,1026.0 1322.7,1032.7 1322.3,1039.3C1322.0,1046.0 1323.0,1053.8 1323.0,1059.3C1323.0,1064.9 1323.8,1068.7 1322.3,1072.7C1320.9,1076.7 1317.9,1080.0 1314.3,1083.3C1310.8,1086.7 1304.6,1089.8 1301.0,1092.7C1297.4,1095.6 1296.3,1097.8 1293.0,1100.7C1289.7,1103.6 1285.2,1107.3 1281.0,1110.0C1276.8,1112.7 1273.2,1114.2 1267.7,1116.7C1262.1,1119.1 1254.3,1123.2 1247.7,1124.7C1241.0,1126.1 1235.0,1125.2 1227.7,1125.3C1220.3,1125.4 1211.4,1126.0 1203.7,1125.3C1195.9,1124.7 1188.1,1122.3 1181.0,1121.3C1173.9,1120.3 1166.6,1119.8 1161.0,1119.3C1155.4,1118.9 1153.2,1119.1 1147.7,1118.7C1142.1,1118.2 1134.3,1117.4 1127.7,1116.7C1121.0,1115.9 1113.7,1115.1 1107.7,1114.0C1101.7,1112.9 1094.9,1111.3 1091.7,1110.0C1088.4,1108.7 1087.9,1107.8 1088.3,1106.0C1088.8,1104.2 1092.2,1101.3 1094.3,1099.3C1096.4,1097.3 1100.1,1096.7 1101.0,1094.0C1101.9,1091.3 1099.0,1087.8 1099.7,1083.3C1100.3,1078.9 1102.8,1071.6 1105.0,1067.3C1107.2,1063.1 1111.4,1061.6 1113.0,1058.0C1114.6,1054.4 1113.4,1049.8 1114.3,1046.0C1115.2,1042.2 1116.1,1039.1 1118.3,1035.3C1120.6,1031.6 1123.9,1027.1 1127.7,1023.3C1131.4,1019.6 1136.6,1015.6 1141.0,1012.7C1145.4,1009.8 1151.0,1007.8 1154.3,1006.0C1157.7,1004.2 1158.3,1003.0 1161.0,1001.9Z" fill="#50ffaf"/>
<path d="M1180.5,1004.7C1183.1,1003.5 1186.9,1000.8 1190.2,998.8C1193.4,996.9 1196.7,995.1 1199.9,993.0C1203.2,990.9 1206.4,988.5 1209.6,986.2C1212.9,983.9 1216.1,981.7 1219.4,979.4C1222.6,977.1 1225.6,974.8 1229.1,972.6C1232.6,970.3 1237.3,968.1 1240.6,966.0C1243.8,963.9 1245.6,961.7 1248.5,959.9C1251.5,958.1 1255.0,956.8 1258.3,955.1C1261.5,953.3 1265.6,950.9 1268.0,949.2C1270.4,947.6 1270.4,947.0 1272.9,945.3C1275.3,943.7 1279.4,941.4 1282.6,939.5C1285.8,937.6 1289.1,935.4 1292.3,933.7C1295.6,931.9 1298.8,930.4 1302.1,928.8C1305.3,927.2 1308.0,925.2 1311.8,923.9C1315.6,922.7 1321.7,923.3 1325.0,921.3C1328.3,919.3 1330.2,915.1 1331.7,912.0C1333.1,908.9 1333.7,906.0 1333.7,902.7C1333.7,899.3 1332.4,894.9 1331.7,892.0C1330.9,889.1 1330.2,887.3 1329.0,885.3C1327.8,883.3 1325.2,881.8 1324.3,880.0C1323.4,878.2 1323.3,876.2 1323.7,874.7C1324.0,873.1 1324.8,871.9 1326.3,870.7C1327.9,869.4 1330.8,867.8 1333.0,867.3C1335.2,866.8 1338.0,866.5 1339.7,867.7C1341.3,869.0 1341.7,872.2 1343.0,874.7C1344.3,877.2 1346.6,880.2 1347.7,882.7C1348.8,885.1 1349.2,886.0 1349.7,889.3C1350.1,892.7 1350.6,897.1 1350.3,902.7C1350.1,908.2 1349.4,917.1 1348.3,922.7C1347.2,928.2 1345.3,931.6 1343.7,936.0C1342.0,940.4 1340.1,944.9 1338.3,949.3C1336.6,953.8 1335.2,959.9 1333.0,962.7C1330.8,965.4 1327.0,963.2 1325.0,966.0C1323.0,968.8 1322.6,973.8 1321.0,979.3C1319.4,984.9 1317.7,992.7 1315.7,999.3C1313.7,1006.0 1310.7,1012.7 1309.0,1019.3C1307.3,1026.0 1307.0,1032.7 1305.7,1039.3C1304.3,1046.0 1302.0,1054.0 1301.0,1059.3C1300.0,1064.7 1301.4,1068.2 1299.7,1071.3C1297.9,1074.4 1293.9,1075.8 1290.3,1078.0C1286.8,1080.2 1282.1,1082.2 1278.3,1084.7C1274.6,1087.1 1270.8,1089.6 1267.7,1092.7C1264.6,1095.8 1263.0,1100.7 1259.7,1103.3C1256.3,1106.0 1251.9,1107.2 1247.7,1108.7C1243.4,1110.1 1239.9,1111.3 1234.3,1112.0C1228.8,1112.7 1221.0,1112.6 1214.3,1112.7C1207.7,1112.8 1201.0,1113.3 1194.3,1112.7C1187.7,1112.0 1179.9,1109.8 1174.3,1108.7C1168.8,1107.6 1164.3,1107.1 1161.0,1106.0C1157.7,1104.9 1156.8,1103.3 1154.3,1102.0C1151.9,1100.7 1148.8,1100.0 1146.3,1098.0C1143.9,1096.0 1141.2,1092.9 1139.7,1090.0C1138.1,1087.1 1136.6,1084.0 1137.0,1080.7C1137.4,1077.3 1141.7,1073.6 1142.3,1070.0C1143.0,1066.4 1141.2,1064.2 1141.0,1059.3C1140.8,1054.4 1139.9,1045.6 1141.0,1040.7C1142.1,1035.8 1145.4,1033.6 1147.7,1030.0C1149.9,1026.4 1152.1,1021.9 1154.3,1019.3C1156.6,1016.8 1157.7,1016.9 1161.0,1014.7C1164.3,1012.4 1171.1,1007.7 1174.3,1006.0C1177.6,1004.3 1177.8,1005.9 1180.5,1004.7Z" fill="#8fff70"/>
<path d="M1195.0,1006.6C1198.4,1004.7 1201.5,1002.9 1204.8,1000.8C1208.0,998.7 1211.3,996.4 1214.5,994.0C1217.7,991.5 1221.0,988.8 1224.2,986.2C1227.5,983.6 1230.7,980.8 1234.0,978.4C1237.2,976.0 1240.6,973.7 1243.7,971.6C1246.8,969.5 1250.0,967.7 1252.4,966.0C1254.9,964.2 1255.7,962.7 1258.3,960.9C1260.9,959.1 1264.8,957.2 1268.0,955.1C1271.2,953.0 1274.8,950.2 1277.7,948.3C1280.6,946.3 1283.1,945.0 1285.5,943.4C1287.9,941.8 1289.6,940.2 1292.3,938.5C1295.1,936.9 1298.8,935.3 1302.1,933.7C1305.3,932.0 1308.0,930.0 1311.8,928.8C1315.6,927.6 1321.5,928.4 1325.0,926.7C1328.5,925.0 1330.8,920.8 1333.0,918.7C1335.2,916.6 1337.0,914.4 1338.3,914.0C1339.7,913.6 1340.4,914.8 1341.0,916.0C1341.6,917.2 1342.1,918.7 1341.7,921.3C1341.2,924.0 1339.6,928.4 1338.3,932.0C1337.1,935.6 1335.9,938.7 1334.3,942.7C1332.8,946.7 1332.0,952.1 1329.0,956.0C1326.0,959.9 1319.2,962.1 1316.3,966.0C1313.4,969.9 1313.3,974.9 1311.7,979.3C1310.0,983.8 1308.1,988.2 1306.3,992.7C1304.6,997.1 1303.0,1001.1 1301.0,1006.0C1299.0,1010.9 1296.6,1016.9 1294.3,1022.0C1292.1,1027.1 1289.7,1031.8 1287.7,1036.7C1285.7,1041.6 1283.7,1046.7 1282.3,1051.3C1281.0,1056.0 1281.4,1061.1 1279.7,1064.7C1277.9,1068.2 1274.8,1070.2 1271.7,1072.7C1268.6,1075.1 1265.0,1076.9 1261.0,1079.3C1257.0,1081.8 1253.2,1085.1 1247.7,1087.3C1242.1,1089.6 1233.7,1091.7 1227.7,1092.7C1221.7,1093.7 1217.0,1093.7 1211.7,1093.3C1206.3,1093.0 1199.9,1092.1 1195.7,1090.7C1191.4,1089.2 1188.3,1086.8 1186.3,1084.7C1184.3,1082.6 1185.4,1080.4 1183.7,1078.0C1181.9,1075.6 1178.1,1072.7 1175.7,1070.0C1173.2,1067.3 1170.6,1064.2 1169.0,1062.0C1167.4,1059.8 1166.6,1058.4 1166.1,1056.7C1165.5,1054.9 1165.6,1053.1 1165.7,1051.3C1165.7,1049.6 1166.1,1047.8 1166.5,1046.0C1166.8,1044.2 1166.4,1043.3 1167.7,1040.7C1169.0,1038.0 1172.3,1033.6 1174.3,1030.0C1176.3,1026.4 1178.0,1022.2 1179.7,1019.3C1181.4,1016.4 1182.0,1014.7 1184.6,1012.5C1187.2,1010.4 1191.7,1008.6 1195.0,1006.6Z" fill="#bfff40"/>
<path d="M1217.4,1006.6C1219.5,1004.2 1220.2,1002.6 1221.3,1000.8C1222.4,999.0 1222.1,998.0 1224.2,995.9C1226.3,993.8 1230.7,990.6 1234.0,988.1C1237.2,985.7 1240.4,983.8 1243.7,981.3C1246.9,978.9 1250.0,976.1 1253.4,973.5C1256.8,971.0 1261.0,968.2 1264.2,966.0C1267.5,963.7 1270.6,961.6 1272.9,959.9C1275.1,958.3 1275.3,958.0 1277.7,956.0C1280.2,954.1 1284.2,950.5 1287.5,948.3C1290.7,946.0 1293.9,944.4 1297.2,942.4C1300.4,940.5 1304.0,938.2 1306.9,936.6C1309.8,935.0 1312.6,933.6 1314.7,932.7C1316.8,931.8 1317.7,931.7 1319.7,931.3C1321.6,931.0 1324.9,930.1 1326.3,930.7C1327.8,931.2 1328.4,932.7 1328.3,934.7C1328.2,936.7 1326.9,939.6 1325.7,942.7C1324.4,945.8 1322.7,949.8 1321.0,953.3C1319.3,956.9 1317.7,961.9 1315.7,964.0C1313.7,966.1 1310.8,963.9 1309.0,966.0C1307.2,968.1 1306.8,972.7 1305.0,976.7C1303.2,980.7 1300.8,985.3 1298.3,990.0C1295.9,994.7 1293.2,999.8 1290.3,1004.7C1287.4,1009.6 1283.7,1015.8 1281.0,1019.3C1278.3,1022.9 1276.6,1024.0 1274.3,1026.0C1272.1,1028.0 1269.7,1028.9 1267.7,1031.3C1265.7,1033.8 1263.7,1037.8 1262.3,1040.7C1261.0,1043.6 1261.0,1046.7 1259.7,1048.7C1258.3,1050.7 1257.0,1051.3 1254.3,1052.7C1251.7,1054.0 1247.0,1056.1 1243.7,1056.7C1240.3,1057.2 1237.0,1055.9 1234.3,1056.0C1231.7,1056.1 1231.0,1057.0 1227.7,1057.3C1224.3,1057.7 1217.7,1058.6 1214.3,1058.0C1211.0,1057.4 1209.7,1055.6 1207.7,1054.0C1205.7,1052.4 1203.0,1050.0 1202.3,1048.7C1201.6,1047.3 1202.9,1048.6 1203.5,1046.0C1204.2,1043.4 1206.0,1036.9 1206.3,1032.9C1206.7,1028.9 1205.1,1024.9 1205.5,1022.0C1206.0,1019.1 1207.0,1018.2 1209.0,1015.6C1211.0,1013.0 1215.4,1009.1 1217.4,1006.6Z" fill="#efff10"/>
<path d="M1249.0,993.0C1249.0,991.2 1249.3,989.4 1250.5,987.2C1251.7,984.9 1254.2,981.7 1256.3,979.4C1258.4,977.1 1261.2,975.0 1263.1,973.5C1265.1,972.1 1265.1,971.9 1268.0,970.6C1270.9,969.4 1277.5,967.6 1280.7,966.0C1284.0,964.3 1285.5,962.9 1287.5,960.9C1289.4,958.9 1290.4,956.2 1292.3,954.1C1294.3,952.0 1296.7,950.0 1299.1,948.3C1301.6,946.5 1304.3,944.4 1306.9,943.4C1309.5,942.4 1313.2,941.9 1314.7,942.4C1316.2,942.9 1315.8,944.7 1315.7,946.3C1315.5,947.9 1315.2,949.9 1313.7,952.1C1312.3,954.4 1308.9,957.7 1306.9,959.9C1305.0,962.2 1303.3,963.8 1302.1,965.8C1300.8,967.7 1299.9,969.5 1299.1,971.6C1298.3,973.7 1298.3,976.1 1297.2,978.4C1296.1,980.7 1294.3,983.0 1292.3,985.2C1290.4,987.5 1287.9,990.1 1285.5,992.0C1283.1,994.0 1280.6,995.4 1277.7,996.9C1274.8,998.4 1270.9,999.7 1268.0,1000.8C1265.1,1001.9 1262.5,1003.5 1260.2,1003.7C1258.0,1003.9 1256.0,1003.2 1254.4,1002.2C1252.8,1001.3 1251.4,999.4 1250.5,997.9C1249.6,996.3 1249.0,994.8 1249.0,993.0Z" fill="#ffdf00"/>
<path d="M933.0,781.0C934.8,766.4 942.0,792.1 943.9,781.0C945.8,769.9 943.7,725.9 944.3,714.3C945.0,702.8 946.0,712.3 947.7,711.7C949.3,711.0 948.8,710.8 954.3,710.3C959.9,709.9 971.0,709.6 981.0,709.0C991.0,708.4 1003.2,707.4 1014.3,707.0C1025.4,706.6 1039.9,707.1 1047.7,706.7C1055.4,706.4 1052.1,705.5 1061.0,705.0C1069.9,704.5 1084.3,704.0 1101.0,703.7C1117.7,703.3 1146.6,703.1 1161.0,703.0C1175.4,702.9 1178.8,702.8 1187.7,703.0C1196.6,703.2 1205.4,704.0 1214.3,704.3C1223.2,704.7 1233.9,704.4 1241.0,705.0C1248.1,705.6 1252.6,705.9 1257.0,707.7C1261.4,709.4 1265.4,712.6 1267.7,715.7C1269.9,718.8 1268.1,723.7 1270.3,726.3C1272.6,729.0 1277.2,729.7 1281.0,731.7C1284.8,733.7 1289.4,735.4 1293.0,738.3C1296.6,741.2 1300.7,745.7 1302.3,749.0C1304.0,752.3 1301.4,755.4 1303.0,758.3C1304.6,761.2 1309.6,763.2 1311.7,766.3C1313.8,769.4 1314.2,774.3 1315.7,777.0C1317.1,779.7 1319.9,779.9 1320.3,782.3C1320.8,784.8 1318.2,789.3 1318.3,791.7C1318.4,794.0 1319.4,795.1 1321.0,796.3C1322.6,797.6 1326.1,797.9 1327.7,799.0C1329.2,800.1 1330.4,801.7 1330.3,803.0C1330.2,804.3 1327.9,805.1 1327.0,807.0C1326.1,808.9 1326.0,811.6 1325.0,814.3C1324.0,817.1 1323.9,820.3 1321.0,823.7C1318.1,827.0 1311.4,831.2 1307.7,834.3C1303.9,837.4 1302.8,839.9 1298.3,842.3C1293.9,844.8 1288.3,846.8 1281.0,849.0C1273.7,851.2 1263.2,853.7 1254.3,855.7C1245.4,857.7 1237.7,859.0 1227.7,861.0C1217.7,863.0 1204.3,866.0 1194.3,867.7C1184.3,869.3 1181.0,869.8 1167.7,871.0C1154.3,872.2 1127.7,874.0 1114.3,875.0C1101.0,876.0 1095.4,876.7 1087.7,877.0C1079.9,877.3 1074.3,876.9 1067.7,877.0C1061.0,877.1 1055.4,878.2 1047.7,877.7C1039.9,877.1 1029.9,874.3 1021.0,873.7C1012.1,873.0 1004.3,874.0 994.3,873.7C984.3,873.4 967.7,872.3 961.0,871.9C954.3,871.6 957.0,872.0 954.3,871.4C951.7,870.8 948.6,868.8 945.0,868.3C941.4,867.8 935.0,882.9 933.0,868.3C931.0,853.8 931.2,795.6 933.0,781.0Z" fill="#50ffaf"/>
<path d="M943.7,807.7C944.0,799.6 945.3,792.1 945.7,781.0C946.1,769.9 945.5,749.9 946.1,741.0C946.6,732.1 947.4,730.8 949.0,727.7C950.6,724.6 950.3,723.7 955.7,722.3C961.0,721.0 971.2,720.7 981.0,719.7C990.8,718.7 1003.2,717.1 1014.3,716.3C1025.4,715.6 1037.7,715.7 1047.7,715.3C1057.7,714.8 1065.4,713.8 1074.3,713.7C1083.2,713.5 1094.3,714.4 1101.0,714.3C1107.7,714.2 1104.3,713.0 1114.3,713.0C1124.3,713.0 1150.3,713.9 1161.0,714.3C1171.7,714.8 1171.7,714.6 1178.3,715.7C1185.0,716.8 1193.4,719.3 1201.0,721.0C1208.6,722.7 1217.9,723.8 1223.7,725.7C1229.4,727.6 1230.6,730.0 1235.7,732.3C1240.8,734.7 1248.6,737.3 1254.3,739.7C1260.1,742.0 1267.0,743.7 1270.3,746.3C1273.7,749.0 1270.6,751.7 1274.3,755.7C1278.1,759.7 1289.6,766.6 1293.0,770.3C1296.4,774.1 1294.3,774.3 1295.0,778.3C1295.7,782.3 1295.8,789.7 1297.0,794.3C1298.2,799.0 1301.2,802.6 1302.3,806.3C1303.4,810.1 1304.1,814.1 1303.7,817.0C1303.2,819.9 1301.7,821.9 1299.7,823.7C1297.7,825.4 1294.8,825.2 1291.7,827.7C1288.6,830.1 1287.2,835.2 1281.0,838.3C1274.8,841.4 1263.2,844.1 1254.3,846.3C1245.4,848.6 1236.6,849.9 1227.7,851.7C1218.8,853.4 1212.1,854.9 1201.0,857.0C1189.9,859.1 1173.2,862.2 1161.0,864.3C1148.8,866.4 1137.7,868.2 1127.7,869.7C1117.7,871.1 1109.9,872.2 1101.0,873.0C1092.1,873.8 1083.2,874.3 1074.3,874.3C1065.4,874.3 1056.6,874.1 1047.7,873.0C1038.8,871.9 1027.7,868.8 1021.0,867.9C1014.3,867.0 1012.1,867.9 1007.7,867.7C1003.2,867.5 998.8,866.9 994.3,866.7C989.9,866.4 984.9,866.3 981.0,866.0C977.1,865.7 974.0,865.2 971.0,864.7C968.0,864.1 965.6,863.2 963.0,862.7C960.4,862.1 957.7,863.0 955.7,861.3C953.7,859.7 952.3,855.2 951.0,852.7C949.7,850.1 948.7,848.2 947.7,846.0C946.7,843.8 945.7,842.1 945.0,839.3C944.3,836.6 943.9,834.6 943.7,829.3C943.4,824.1 943.3,815.7 943.7,807.7Z" fill="#8fff70"/>
<path d="M944.3,819.3C945.0,812.9 947.6,791.8 948.3,781.0C949.1,770.2 948.2,761.2 949.0,754.3C949.8,747.4 950.8,743.2 953.0,739.7C955.2,736.1 955.4,734.7 962.3,733.0C969.2,731.3 984.6,730.7 994.3,729.7C1004.1,728.7 1012.1,727.6 1021.0,727.0C1029.9,726.4 1038.8,726.3 1047.7,726.1C1056.6,725.8 1065.4,726.0 1074.3,725.7C1083.2,725.3 1091.0,723.7 1101.0,723.9C1111.0,724.2 1124.3,726.0 1134.3,727.0C1144.3,728.0 1154.3,729.2 1161.0,729.7C1167.7,730.1 1170.6,729.2 1174.3,729.7C1178.1,730.1 1179.2,731.2 1183.7,732.3C1188.1,733.4 1194.8,734.9 1201.0,736.3C1207.2,737.8 1214.6,739.0 1221.0,741.0C1227.4,743.0 1235.4,745.7 1239.7,748.3C1243.9,751.0 1243.0,753.6 1246.3,757.0C1249.7,760.4 1257.2,765.9 1259.7,769.0C1262.1,772.1 1259.0,773.2 1261.0,775.7C1263.0,778.1 1269.0,780.1 1271.7,783.7C1274.3,787.2 1275.0,791.8 1277.0,797.0C1279.0,802.2 1284.1,810.8 1283.7,815.0C1283.2,819.2 1276.6,820.0 1274.3,822.3C1272.1,824.7 1273.7,826.3 1270.3,829.0C1267.0,831.7 1261.4,835.7 1254.3,838.3C1247.2,841.0 1237.7,842.8 1227.7,845.0C1217.7,847.2 1205.4,849.7 1194.3,851.7C1183.2,853.7 1172.1,855.0 1161.0,857.0C1149.9,859.0 1137.7,862.0 1127.7,863.7C1117.7,865.3 1109.9,866.2 1101.0,867.0C1092.1,867.8 1083.2,868.3 1074.3,868.3C1065.4,868.3 1056.6,868.1 1047.7,867.0C1038.8,865.9 1027.7,862.7 1021.0,861.8C1014.3,860.9 1012.1,861.6 1007.7,861.3C1003.2,861.0 998.2,860.4 994.3,860.0C990.4,859.6 987.4,859.3 984.3,858.7C981.2,858.0 978.4,857.0 975.7,856.0C972.9,855.0 969.6,853.7 967.7,852.7C965.8,851.7 965.4,851.1 964.3,850.0C963.2,848.9 962.3,847.3 961.0,846.0C959.7,844.7 957.4,843.8 956.3,842.0C955.2,840.2 955.1,837.3 954.3,835.3C953.6,833.3 953.0,831.7 951.7,830.0C950.3,828.3 947.6,827.1 946.3,825.3C945.1,823.6 944.7,820.3 944.3,819.3C944.0,818.3 943.7,825.7 944.3,819.3Z" fill="#bfff40"/>
<path d="M951.7,781.0C952.6,776.8 951.0,766.6 951.7,761.0C952.3,755.4 953.2,751.1 955.7,747.7C958.1,744.2 959.9,742.1 966.3,740.3C972.8,738.6 980.8,737.8 994.3,737.0C1007.9,736.2 1034.3,735.4 1047.7,735.3C1061.0,735.2 1065.4,736.3 1074.3,736.3C1083.2,736.3 1092.1,734.7 1101.0,735.3C1109.9,735.8 1117.7,738.5 1127.7,739.7C1137.7,740.8 1153.2,741.9 1161.0,742.3C1168.8,742.8 1168.8,741.2 1174.3,742.3C1179.9,743.4 1188.3,746.8 1194.3,749.0C1200.3,751.2 1205.4,753.0 1210.3,755.7C1215.2,758.3 1219.4,762.3 1223.7,765.0C1227.9,767.7 1232.8,769.0 1235.7,771.7C1238.6,774.3 1238.8,778.3 1241.0,781.0C1243.2,783.7 1246.8,784.6 1249.0,787.7C1251.2,790.8 1252.3,795.2 1254.3,799.7C1256.3,804.1 1260.6,810.8 1261.0,814.3C1261.4,817.9 1258.3,818.3 1257.0,821.0C1255.7,823.7 1255.7,827.9 1253.0,830.3C1250.3,832.8 1245.2,834.1 1241.0,835.7C1236.8,837.2 1234.3,838.1 1227.7,839.7C1221.0,841.2 1212.1,843.0 1201.0,845.0C1189.9,847.0 1173.2,849.7 1161.0,851.7C1148.8,853.7 1137.7,855.4 1127.7,857.0C1117.7,858.6 1109.9,860.1 1101.0,861.0C1092.1,861.9 1083.2,862.3 1074.3,862.3C1065.4,862.3 1056.6,861.9 1047.7,861.0C1038.8,860.1 1027.7,858.0 1021.0,857.1C1014.3,856.3 1012.1,856.6 1007.7,856.0C1003.2,855.4 998.3,854.3 994.3,853.3C990.3,852.3 986.3,851.4 983.7,850.0C981.0,848.6 979.9,846.4 978.3,844.7C976.8,842.9 976.1,840.9 974.3,839.3C972.6,837.8 969.3,836.7 967.7,835.3C966.0,834.0 966.0,832.2 964.3,831.3C962.7,830.4 959.6,831.3 957.7,830.0C955.8,828.7 954.3,825.7 953.0,823.3C951.7,821.0 950.6,818.9 949.7,816.0C948.8,813.1 948.1,809.3 947.7,806.0C947.2,802.7 947.2,799.3 947.0,796.0C946.8,792.7 945.6,788.5 946.3,786.0C947.1,783.5 950.8,785.2 951.7,781.0Z" fill="#efff10"/>
<path d="M954.3,781.0C955.0,777.3 953.4,768.6 954.3,763.7C955.2,758.8 956.8,754.7 959.7,751.7C962.6,748.7 964.8,747.1 971.7,745.7C978.6,744.2 988.3,743.5 1001.0,743.0C1013.7,742.5 1035.4,742.4 1047.7,742.5C1059.9,742.6 1065.4,743.4 1074.3,743.7C1083.2,743.9 1092.1,743.2 1101.0,743.9C1109.9,744.7 1117.7,746.9 1127.7,748.3C1137.7,749.7 1153.2,751.1 1161.0,752.3C1168.8,753.6 1169.9,754.2 1174.3,755.7C1178.8,757.1 1182.1,758.8 1187.7,761.0C1193.2,763.2 1203.8,766.6 1207.7,769.0C1211.6,771.4 1209.2,773.2 1211.0,775.7C1212.8,778.1 1215.1,781.2 1218.3,783.7C1221.6,786.1 1227.4,787.7 1230.3,790.3C1233.2,793.0 1234.0,796.1 1235.7,799.7C1237.3,803.2 1240.8,808.1 1240.3,811.7C1239.9,815.2 1234.7,817.9 1233.0,821.0C1231.3,824.1 1233.0,827.7 1230.3,830.3C1227.7,833.0 1223.0,835.2 1217.0,837.0C1211.0,838.8 1203.7,839.6 1194.3,841.0C1185.0,842.4 1169.9,844.9 1161.0,845.7C1152.1,846.4 1148.8,844.8 1141.0,845.7C1133.2,846.6 1123.2,849.6 1114.3,851.0C1105.4,852.4 1094.3,853.7 1087.7,854.3C1081.0,855.0 1080.4,855.1 1074.3,855.0C1068.2,854.9 1056.6,854.3 1051.0,854.0C1045.4,853.7 1044.9,853.7 1041.0,853.3C1037.1,853.0 1032.1,852.6 1027.7,852.0C1023.2,851.4 1018.2,850.6 1014.3,850.0C1010.4,849.4 1006.9,849.2 1004.3,848.3C1001.8,847.4 1000.7,846.1 999.0,844.7C997.3,843.3 996.0,841.6 994.3,840.0C992.7,838.4 990.7,836.6 989.0,835.3C987.3,834.1 986.8,833.8 984.3,832.7C981.9,831.6 977.1,829.8 974.3,828.7C971.6,827.6 969.4,827.1 967.7,826.0C965.9,824.9 965.3,823.1 963.7,822.0C962.0,820.9 958.9,820.7 957.7,819.3C956.4,818.0 956.9,816.2 956.3,814.0C955.8,811.8 955.1,809.0 954.3,806.0C953.6,803.0 952.3,799.3 951.7,796.0C951.0,792.7 949.9,788.5 950.3,786.0C950.8,783.5 953.7,784.7 954.3,781.0Z" fill="#ffdf00"/>
<path d="M957.0,781.0C957.6,777.5 956.6,769.2 957.7,765.0C958.8,760.8 960.4,758.0 963.7,755.7C966.9,753.3 969.7,752.2 977.0,751.0C984.3,749.8 995.9,748.7 1007.7,748.3C1019.4,748.0 1036.6,748.7 1047.7,749.0C1058.8,749.3 1065.4,750.1 1074.3,750.3C1083.2,750.6 1092.1,749.5 1101.0,750.5C1109.9,751.5 1117.7,754.6 1127.7,756.3C1137.7,758.1 1153.2,759.1 1161.0,761.0C1168.8,762.9 1169.9,765.2 1174.3,767.7C1178.8,770.1 1183.2,773.0 1187.7,775.7C1192.1,778.3 1196.6,781.0 1201.0,783.7C1205.4,786.3 1211.4,788.8 1214.3,791.7C1217.2,794.6 1216.8,797.9 1218.3,801.0C1219.9,804.1 1223.9,807.7 1223.7,810.3C1223.4,813.0 1219.2,814.1 1217.0,817.0C1214.8,819.9 1213.0,825.1 1210.3,827.7C1207.7,830.2 1205.9,831.0 1201.0,832.3C1196.1,833.7 1187.7,834.8 1181.0,835.7C1174.3,836.6 1167.7,836.8 1161.0,837.7C1154.3,838.6 1148.8,839.9 1141.0,841.0C1133.2,842.1 1123.2,843.6 1114.3,844.3C1105.4,845.1 1095.4,845.6 1087.7,845.7C1079.9,845.8 1073.8,845.2 1067.7,845.0C1061.6,844.8 1055.4,844.6 1051.0,844.3C1046.6,844.1 1043.8,843.7 1041.0,843.3C1038.2,842.9 1037.1,843.0 1034.3,842.0C1031.6,841.0 1027.1,838.9 1024.3,837.3C1021.6,835.8 1020.4,834.0 1017.7,832.7C1014.9,831.3 1011.6,830.6 1007.7,829.3C1003.8,828.1 998.2,826.7 994.3,825.3C990.4,824.0 987.7,822.8 984.3,821.3C981.0,819.9 977.3,818.2 974.3,816.7C971.3,815.1 968.6,813.8 966.3,812.0C964.1,810.2 962.3,808.1 961.0,806.0C959.7,803.9 959.2,801.6 958.3,799.3C957.4,797.1 956.3,794.9 955.7,792.7C955.0,790.4 954.1,787.9 954.3,786.0C954.6,784.1 956.4,784.5 957.0,781.0Z" fill="#ffaf00"/>
<path d="M959.7,781.0C960.1,777.9 959.7,771.2 961.0,767.7C962.3,764.1 964.3,761.7 967.7,759.7C971.0,757.7 974.3,756.7 981.0,755.7C987.7,754.7 996.6,753.8 1007.7,753.7C1018.8,753.6 1036.6,754.7 1047.7,755.1C1058.8,755.6 1065.4,755.9 1074.3,756.3C1083.2,756.8 1092.1,756.4 1101.0,757.7C1109.9,758.9 1119.2,761.8 1127.7,763.7C1136.1,765.6 1146.1,767.3 1151.7,769.0C1157.2,770.7 1157.2,771.4 1161.0,773.7C1164.8,775.9 1169.9,779.6 1174.3,782.3C1178.8,785.1 1184.7,787.9 1187.7,790.3C1190.7,792.8 1191.2,794.3 1192.3,797.0C1193.4,799.7 1193.8,803.7 1194.3,806.3C1194.9,809.0 1196.1,810.8 1195.7,813.0C1195.2,815.2 1194.1,817.7 1191.7,819.7C1189.2,821.7 1186.1,823.2 1181.0,825.0C1175.9,826.8 1167.7,829.2 1161.0,830.3C1154.3,831.4 1148.8,831.0 1141.0,831.7C1133.2,832.3 1123.2,833.8 1114.3,834.3C1105.4,834.9 1095.4,835.1 1087.7,835.0C1079.9,834.9 1073.8,834.4 1067.7,833.7C1061.6,832.9 1056.6,831.6 1051.0,830.7C1045.4,829.7 1039.3,829.0 1034.3,828.0C1029.3,827.0 1025.4,825.8 1021.0,824.7C1016.6,823.6 1012.1,822.6 1007.7,821.3C1003.2,820.1 998.8,818.8 994.3,817.3C989.9,815.9 984.9,814.4 981.0,812.7C977.1,810.9 973.8,808.9 971.0,806.7C968.2,804.4 966.1,801.7 964.3,799.3C962.6,797.0 961.3,794.9 960.3,792.7C959.3,790.4 958.4,787.9 958.3,786.0C958.2,784.1 959.2,784.1 959.7,781.0Z" fill="#ff7000"/>
<path d="M963.0,781.0C963.2,778.4 962.9,773.2 964.3,770.3C965.8,767.4 967.8,765.3 971.7,763.7C975.6,762.0 980.6,761.1 987.7,760.3C994.8,759.6 1004.3,759.0 1014.3,759.0C1024.3,759.0 1037.7,759.6 1047.7,760.2C1057.7,760.8 1065.4,761.7 1074.3,762.3C1083.2,762.9 1092.1,762.2 1101.0,763.8C1109.9,765.4 1119.9,769.0 1127.7,771.7C1135.4,774.3 1142.1,777.4 1147.7,779.7C1153.2,781.9 1158.8,783.6 1161.0,785.0C1163.2,786.4 1160.2,787.0 1161.0,788.3C1161.8,789.7 1164.6,790.9 1165.7,793.0C1166.7,795.1 1167.3,798.3 1167.4,801.0C1167.5,803.7 1167.4,806.7 1166.3,809.0C1165.3,811.3 1165.2,812.8 1161.0,815.0C1156.8,817.2 1148.8,820.6 1141.0,822.3C1133.2,824.1 1121.0,825.0 1114.3,825.7C1107.7,826.4 1105.4,826.5 1101.0,826.6C1096.6,826.7 1094.3,826.7 1087.7,826.3C1081.0,826.0 1068.8,824.9 1061.0,824.3C1053.2,823.8 1046.6,823.6 1041.0,823.0C1035.4,822.4 1032.1,821.6 1027.7,820.7C1023.2,819.7 1018.8,818.4 1014.3,817.3C1009.9,816.2 1005.4,815.3 1001.0,814.0C996.6,812.7 991.4,810.9 987.7,809.3C983.9,807.8 981.1,806.3 978.3,804.7C975.6,803.0 973.1,801.3 971.0,799.3C968.9,797.3 967.0,794.9 965.7,792.7C964.3,790.4 963.4,787.9 963.0,786.0C962.6,784.1 962.8,783.6 963.0,781.0Z" fill="#ff4000"/>
<path d="M967.7,781.0C967.9,778.8 967.9,775.2 969.7,773.0C971.4,770.8 974.2,769.0 978.3,767.7C982.4,766.3 987.2,765.7 994.3,765.0C1001.4,764.3 1012.1,763.8 1021.0,763.7C1029.9,763.6 1038.8,763.6 1047.7,764.3C1056.6,765.1 1065.4,767.0 1074.3,768.3C1083.2,769.7 1092.1,769.9 1101.0,772.5C1109.9,775.0 1121.4,781.0 1127.7,783.7C1133.9,786.3 1135.9,787.0 1138.3,788.3C1140.8,789.7 1142.1,790.2 1142.3,791.7C1142.6,793.1 1140.8,795.0 1139.7,797.0C1138.6,799.0 1138.1,801.7 1135.7,803.7C1133.2,805.7 1129.7,807.2 1125.0,809.0C1120.3,810.8 1111.7,813.1 1107.7,814.3C1103.7,815.6 1104.3,816.0 1101.0,816.3C1097.7,816.7 1093.2,816.4 1087.7,816.3C1082.1,816.3 1075.4,816.1 1067.7,815.9C1059.9,815.8 1047.7,815.6 1041.0,815.3C1034.3,814.9 1032.1,814.5 1027.7,814.0C1023.2,813.5 1018.8,812.9 1014.3,812.0C1009.9,811.1 1005.4,810.0 1001.0,808.7C996.6,807.3 991.6,805.7 987.7,804.0C983.8,802.3 980.4,800.6 977.7,798.7C974.9,796.8 972.6,794.8 971.0,792.7C969.4,790.6 968.9,787.9 968.3,786.0C967.8,784.1 967.4,783.2 967.7,781.0Z" fill="#ff1000"/>
<path d="M974.3,783.7C974.7,782.2 974.6,779.0 976.3,777.0C978.1,775.0 980.9,773.0 985.0,771.7C989.1,770.3 993.9,769.7 1001.0,769.0C1008.1,768.3 1018.8,767.4 1027.7,767.7C1036.6,767.9 1045.4,768.8 1054.3,770.3C1063.2,771.9 1073.2,775.3 1081.0,777.0C1088.8,778.7 1095.7,778.8 1101.0,780.6C1106.3,782.4 1111.4,785.2 1113.0,787.7C1114.6,790.2 1112.3,793.3 1110.3,795.7C1108.3,798.0 1104.8,800.4 1101.0,801.9C1097.2,803.5 1093.2,804.0 1087.7,805.0C1082.1,806.0 1075.4,807.1 1067.7,807.7C1059.9,808.2 1048.8,808.3 1041.0,808.2C1033.2,808.1 1026.6,807.8 1021.0,807.3C1015.4,806.9 1012.1,806.4 1007.7,805.7C1003.2,804.9 998.2,803.9 994.3,802.7C990.4,801.4 987.1,799.6 984.3,798.0C981.6,796.4 979.3,795.3 977.7,793.3C976.0,791.3 974.9,787.6 974.3,786.0C973.8,784.4 974.0,785.2 974.3,783.7Z" fill="#df0000"/>
<path d="M987.0,781.0C988.7,779.5 990.9,778.1 994.3,777.0C997.8,775.9 1002.1,774.9 1007.7,774.3C1013.2,773.8 1021.0,773.4 1027.7,773.7C1034.3,773.9 1041.0,774.4 1047.7,775.7C1054.3,776.9 1062.1,779.4 1067.7,781.0C1073.2,782.6 1078.8,783.0 1081.0,785.0C1083.2,787.0 1083.2,791.0 1081.0,793.0C1078.8,795.0 1072.1,795.9 1067.7,797.0C1063.2,798.1 1058.8,799.0 1054.3,799.7C1049.9,800.3 1044.3,800.6 1041.0,801.0C1037.7,801.4 1038.2,801.9 1034.3,802.0C1030.4,802.1 1022.7,802.1 1017.7,801.7C1012.7,801.2 1008.2,800.4 1004.3,799.3C1000.4,798.3 997.1,796.7 994.3,795.3C991.6,794.0 989.3,792.9 987.7,791.3C986.0,789.8 984.4,787.7 984.3,786.0C984.2,784.3 985.3,782.5 987.0,781.0Z" fill="#af0000"/>
</g>
<path d="M942.5,701.5 H1379.5 V1133.5 H942.5 Z M942.0,702.5 H1380.0" fill="none" stroke="#000" stroke-width="1" shape-rendering="crispEdges"/>
<path d="M941.5,699.0 V1135.5 H1382.0" fill="none" stroke="#000" stroke-width="1" shape-rendering="crispEdges"/>
<path d="M941.5,1135.5 v-4M1014.5,1135.5 v-4M1088.5,1135.5 v-4M1162.5,1135.5 v-4M1235.5,1135.5 v-4M1308.5,1135.5 v-4" stroke="#000" stroke-width="1" fill="none"/>
<g font-family="'Liberation Sans', Arial, Helvetica, sans-serif" font-size="21.5px" fill="#000">
<text x="941.5" y="1166.0" text-anchor="middle">0</text>
<text x="1015.0" y="1166.0" text-anchor="middle">10</text>
<text x="1088.5" y="1166.0" text-anchor="middle">20</text>
<text x="1162.0" y="1166.0" text-anchor="middle">30</text>
<text x="1235.5" y="1166.0" text-anchor="middle">40</text>
<text x="1309.0" y="1166.0" text-anchor="middle">50</text>
<text x="934.0" y="1143.5" text-anchor="end">15</text>
<text x="934.0" y="1089.1" text-anchor="end">20</text>
<text x="934.0" y="1034.8" text-anchor="end">25</text>
<text x="934.0" y="980.4" text-anchor="end">30</text>
<text x="934.0" y="926.0" text-anchor="end">35</text>
<text x="934.0" y="871.6" text-anchor="end">40</text>
<text x="934.0" y="817.2" text-anchor="end">45</text>
<text x="934.0" y="762.9" text-anchor="end">50</text>
</g>
<g font-family="'Liberation Sans', Arial, Helvetica, sans-serif" font-size="22px" fill="#000">
<text x="1160.5" y="1198.0" text-anchor="middle">LONGITUDE (E)</text>
<text transform="translate(896.5,920.0) rotate(-90)" text-anchor="middle">LATITUDE (N)</text>
<text x="1160.7" y="681.0" text-anchor="middle" textLength="600.3" lengthAdjust="spacingAndGlyphs">expt_96.0 - MEAN (MEAN y51-y100) - THICKNESS LAYER 9</text>
</g>
<g shape-rendering="crispEdges">
<rect x="1413.5" y="1130.20" width="42.0" height="7.10" fill="#00008f"/>
<rect x="1413.5" y="1123.41" width="42.0" height="7.10" fill="#00009f"/>
<rect x="1413.5" y="1116.61" width="42.0" height="7.10" fill="#0000af"/>
<rect x="1413.5" y="1109.81" width="42.0" height="7.10" fill="#0000bf"/>
<rect x="1413.5" y="1103.02" width="42.0" height="7.10" fill="#0000cf"/>
<rect x="1413.5" y="1096.22" width="42.0" height="7.10" fill="#0000df"/>
<rect x="1413.5" y="1089.42" width="42.0" height="7.10" fill="#0000ef"/>
<rect x="1413.5" y="1082.62" width="42.0" height="7.10" fill="#0000ff"/>
<rect x="1413.5" y="1075.83" width="42.0" height="7.10" fill="#0010ff"/>
<rect x="1413.5" y="1069.03" width="42.0" height="7.10" fill="#0020ff"/>
<rect x="1413.5" y="1062.23" width="42.0" height="7.10" fill="#0030ff"/>
<rect x="1413.5" y="1055.44" width="42.0" height="7.10" fill="#0040ff"/>
<rect x="1413.5" y="1048.64" width="42.0" height="7.10" fill="#0050ff"/>
<rect x="1413.5" y="1041.84" width="42.0" height="7.10" fill="#0060ff"/>
<rect x="1413.5" y="1035.05" width="42.0" height="7.10" fill="#0070ff"/>
<rect x="1413.5" y="1028.25" width="42.0" height="7.10" fill="#0080ff"/>
<rect x="1413.5" y="1021.45" width="42.0" height="7.10" fill="#008fff"/>
<rect x="1413.5" y="1014.66" width="42.0" height="7.10" fill="#009fff"/>
<rect x="1413.5" y="1007.86" width="42.0" height="7.10" fill="#00afff"/>
<rect x="1413.5" y="1001.06" width="42.0" height="7.10" fill="#00bfff"/>
<rect x="1413.5" y="994.27" width="42.0" height="7.10" fill="#00cfff"/>
<rect x="1413.5" y="987.47" width="42.0" height="7.10" fill="#00dfff"/>
<rect x="1413.5" y="980.67" width="42.0" height="7.10" fill="#00efff"/>
<rect x="1413.5" y="973.88" width="42.0" height="7.10" fill="#00ffff"/>
<rect x="1413.5" y="967.08" width="42.0" height="7.10" fill="#10ffef"/>
<rect x="1413.5" y="960.28" width="42.0" height="7.10" fill="#20ffdf"/>
<rect x="1413.5" y="953.48" width="42.0" height="7.10" fill="#30ffcf"/>
<rect x="1413.5" y="946.69" width="42.0" height="7.10" fill="#40ffbf"/>
<rect x="1413.5" y="939.89" width="42.0" height="7.10" fill="#50ffaf"/>
<rect x="1413.5" y="933.09" width="42.0" height="7.10" fill="#60ff9f"/>
<rect x="1413.5" y="926.30" width="42.0" height="7.10" fill="#70ff8f"/>
<rect x="1413.5" y="919.50" width="42.0" height="7.10" fill="#80ff80"/>
<rect x="1413.5" y="912.70" width="42.0" height="7.10" fill="#8fff70"/>
<rect x="1413.5" y="905.91" width="42.0" height="7.10" fill="#9fff60"/>
<rect x="1413.5" y="899.11" width="42.0" height="7.10" fill="#afff50"/>
<rect x="1413.5" y="892.31" width="42.0" height="7.10" fill="#bfff40"/>
<rect x="1413.5" y="885.52" width="42.0" height="7.10" fill="#cfff30"/>
<rect x="1413.5" y="878.72" width="42.0" height="7.10" fill="#dfff20"/>
<rect x="1413.5" y="871.92" width="42.0" height="7.10" fill="#efff10"/>
<rect x="1413.5" y="865.12" width="42.0" height="7.10" fill="#ffff00"/>
<rect x="1413.5" y="858.33" width="42.0" height="7.10" fill="#ffef00"/>
<rect x="1413.5" y="851.53" width="42.0" height="7.10" fill="#ffdf00"/>
<rect x="1413.5" y="844.73" width="42.0" height="7.10" fill="#ffcf00"/>
<rect x="1413.5" y="837.94" width="42.0" height="7.10" fill="#ffbf00"/>
<rect x="1413.5" y="831.14" width="42.0" height="7.10" fill="#ffaf00"/>
<rect x="1413.5" y="824.34" width="42.0" height="7.10" fill="#ff9f00"/>
<rect x="1413.5" y="817.55" width="42.0" height="7.10" fill="#ff8f00"/>
<rect x="1413.5" y="810.75" width="42.0" height="7.10" fill="#ff8000"/>
<rect x="1413.5" y="803.95" width="42.0" height="7.10" fill="#ff7000"/>
<rect x="1413.5" y="797.16" width="42.0" height="7.10" fill="#ff6000"/>
<rect x="1413.5" y="790.36" width="42.0" height="7.10" fill="#ff5000"/>
<rect x="1413.5" y="783.56" width="42.0" height="7.10" fill="#ff4000"/>
<rect x="1413.5" y="776.77" width="42.0" height="7.10" fill="#ff3000"/>
<rect x="1413.5" y="769.97" width="42.0" height="7.10" fill="#ff2000"/>
<rect x="1413.5" y="763.17" width="42.0" height="7.10" fill="#ff1000"/>
<rect x="1413.5" y="756.38" width="42.0" height="7.10" fill="#ff0000"/>
<rect x="1413.5" y="749.58" width="42.0" height="7.10" fill="#ef0000"/>
<rect x="1413.5" y="742.78" width="42.0" height="7.10" fill="#df0000"/>
<rect x="1413.5" y="735.98" width="42.0" height="7.10" fill="#cf0000"/>
<rect x="1413.5" y="729.19" width="42.0" height="7.10" fill="#bf0000"/>
<rect x="1413.5" y="722.39" width="42.0" height="7.10" fill="#af0000"/>
<rect x="1413.5" y="715.59" width="42.0" height="7.10" fill="#9f0000"/>
<rect x="1413.5" y="708.80" width="42.0" height="7.10" fill="#8f0000"/>
<rect x="1413.5" y="702.00" width="42.0" height="7.10" fill="#800000"/>
</g>
<rect x="1413.5" y="701.5" width="42" height="436" fill="none" stroke="#000" stroke-width="1"/>
<g font-family="'Liberation Sans', Arial, Helvetica, sans-serif" font-size="21.5px" fill="#000">
<text x="1461.0" y="715.8">440</text>
<text x="1461.0" y="771.5">430</text>
<text x="1461.0" y="827.2">420</text>
<text x="1461.0" y="883.0">410</text>
<text x="1461.0" y="938.7">400</text>
<text x="1461.0" y="994.4">390</text>
<text x="1461.0" y="1050.1">380</text>
<text x="1461.0" y="1105.8">370</text>
</g>
<path d="M1414.0,705.5 h4M1455.0,705.5 h-4M1414.0,761.5 h4M1455.0,761.5 h-4M1414.0,816.5 h4M1455.0,816.5 h-4M1414.0,872.5 h4M1455.0,872.5 h-4M1414.0,928.5 h4M1455.0,928.5 h-4M1414.0,983.5 h4M1455.0,983.5 h-4M1414.0,1039.5 h4M1455.0,1039.5 h-4M1414.0,1095.5 h4M1455.0,1095.5 h-4" stroke="#000" stroke-width="1" fill="none"/>
</g>
</svg></body></html>
